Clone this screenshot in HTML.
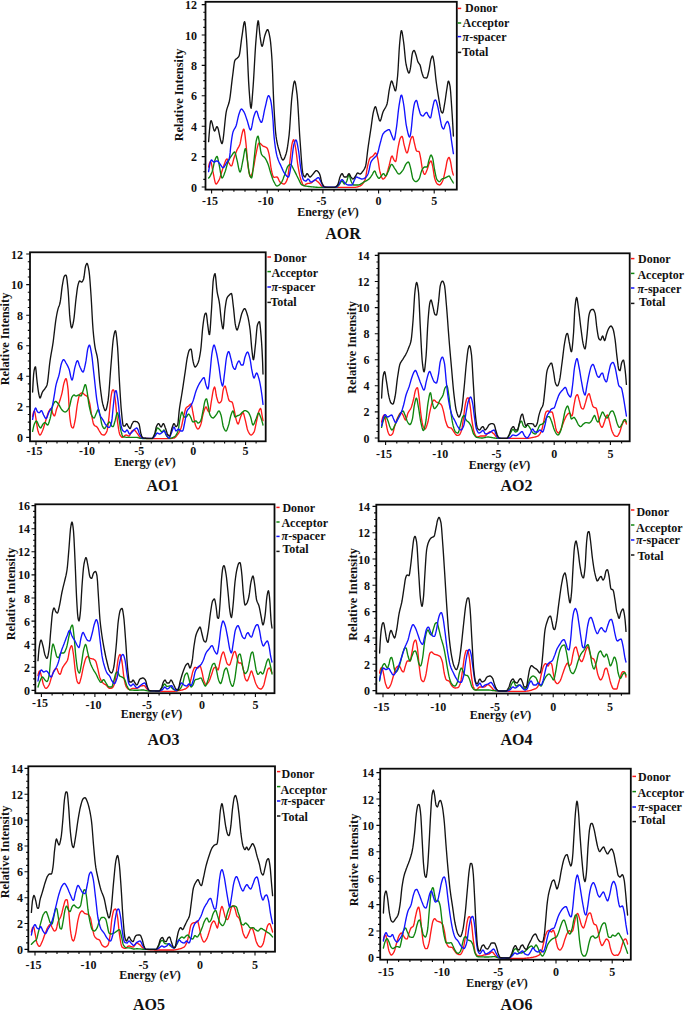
<!DOCTYPE html>
<html><head><meta charset="utf-8"><title>DOS</title>
<style>
html,body{margin:0;padding:0;background:#fff;}
body{width:685px;height:1010px;overflow:hidden;}
svg{display:block;}
text{font-family:"Liberation Serif",serif;font-weight:bold;fill:#111;}
.t{font-size:12px;}
.h{font-size:16px;}
.c{fill:none;stroke-width:1.35;stroke-linejoin:round;stroke-linecap:round;}
.f{fill:none;stroke:#0a0a0a;stroke-width:1.8;}
.k{stroke:#0a0a0a;stroke-width:1.1;}
</style></head><body>
<svg width="685" height="1010" viewBox="0 0 685 1010">
<rect width="685" height="1010" fill="#fff"/>
<g id="AOR">
<path class="c" stroke="#ff1a1a" d="M208.6,167.0 L209.1,164.5 L209.6,162.8 L210.1,161.9 L210.6,161.6 L211.1,162.4 L211.6,164.5 L212.1,167.2 L212.6,170.1 L213.1,172.4 L213.6,174.8 L214.1,177.5 L214.6,180.1 L215.1,182.2 L215.6,183.6 L216.1,184.0 L216.6,183.8 L217.1,183.2 L217.6,182.5 L218.1,181.7 L218.6,180.7 L219.1,179.8 L219.6,178.7 L220.1,177.3 L220.6,175.7 L221.1,174.0 L221.6,172.3 L222.1,170.7 L222.6,169.1 L223.1,167.7 L223.6,166.3 L224.1,164.8 L224.6,163.4 L225.1,161.9 L225.6,160.7 L226.1,159.8 L226.6,159.2 L227.1,159.0 L227.6,159.7 L228.1,160.9 L228.6,162.2 L229.1,163.2 L229.6,164.0 L230.1,164.8 L230.6,165.5 L231.1,165.9 L231.6,165.9 L232.1,165.0 L232.6,163.3 L233.1,161.3 L233.6,159.3 L234.1,157.7 L234.6,156.3 L235.1,154.9 L235.6,153.5 L236.1,152.2 L236.6,150.9 L237.1,149.8 L237.6,148.8 L238.1,147.9 L238.6,147.1 L239.1,146.2 L239.6,145.1 L240.1,143.7 L240.6,141.4 L241.1,138.6 L241.6,135.8 L242.1,133.6 L242.6,131.8 L243.1,130.1 L243.6,129.1 L244.1,129.5 L244.6,131.9 L245.1,135.9 L245.6,140.4 L246.1,144.9 L246.6,150.5 L247.1,156.8 L247.6,162.7 L248.1,166.6 L248.6,169.7 L249.1,172.5 L249.6,174.8 L250.1,176.4 L250.6,177.0 L251.1,176.5 L251.6,175.3 L252.1,173.5 L252.6,171.6 L253.1,169.6 L253.6,167.3 L254.1,164.6 L254.6,161.6 L255.1,158.7 L255.6,155.9 L256.1,153.6 L256.6,151.2 L257.1,148.7 L257.6,146.4 L258.1,144.6 L258.6,143.3 L259.1,143.0 L259.6,143.1 L260.1,143.4 L260.6,143.8 L261.1,144.3 L261.6,144.8 L262.1,145.3 L262.6,145.7 L263.1,146.1 L263.6,146.3 L264.1,146.5 L264.6,146.7 L265.1,146.9 L265.6,147.1 L266.1,147.3 L266.6,147.7 L267.1,148.1 L267.6,149.1 L268.1,150.5 L268.6,152.4 L269.1,154.4 L269.6,157.4 L270.1,161.2 L270.6,165.1 L271.1,168.5 L271.6,170.8 L272.1,173.0 L272.6,174.9 L273.1,176.4 L273.6,177.2 L274.1,177.3 L274.6,177.3 L275.1,177.2 L275.6,177.1 L276.1,177.1 L276.6,177.0 L277.1,177.0 L277.6,177.4 L278.1,178.3 L278.6,179.4 L279.1,180.6 L279.6,181.5 L280.1,182.1 L280.6,182.5 L281.1,182.8 L281.6,183.2 L282.1,183.4 L282.6,183.7 L283.1,183.9 L283.6,184.0 L284.1,184.0 L284.6,183.8 L285.1,183.3 L285.6,182.7 L286.1,181.8 L286.6,180.9 L287.1,179.8 L287.6,177.8 L288.1,174.9 L288.6,171.4 L289.1,167.7 L289.6,164.0 L290.1,159.9 L290.6,155.0 L291.1,150.2 L291.6,146.2 L292.1,143.6 L292.6,141.7 L293.1,140.2 L293.6,139.6 L294.1,140.4 L294.6,142.5 L295.1,145.2 L295.6,148.0 L296.1,151.2 L296.6,155.2 L297.1,159.4 L297.6,163.4 L298.1,166.6 L298.6,169.4 L299.1,172.1 L299.6,174.7 L300.1,176.9 L300.6,178.8 L301.1,180.3 L301.6,181.6 L302.1,182.9 L302.6,184.0 L303.1,184.9 L303.6,185.5 L304.1,185.6 L304.6,185.4 L305.1,185.1 L305.6,184.6 L306.1,184.1 L306.6,183.8 L307.1,183.6 L307.6,183.5 L308.1,183.4 L308.6,183.3 L309.1,183.3 L309.6,183.2 L310.1,183.2 L310.6,183.1 L311.1,183.0 L311.6,182.7 L312.1,182.3 L312.6,181.8 L313.1,181.3 L313.6,180.8 L314.1,180.3 L314.6,180.1 L315.1,180.0 L315.6,180.1 L316.1,180.4 L316.6,180.7 L317.1,181.2 L317.6,181.6 L318.1,182.1 L318.6,182.6 L319.1,183.1 L319.6,183.6 L320.1,184.2 L320.6,184.9 L321.1,185.5 L321.6,186.1 L322.1,186.6 L322.6,186.9 L323.1,187.0 L323.6,187.0 L324.1,187.1 L324.6,187.1 L325.1,187.1 L325.6,187.2 L326.1,187.2 L326.6,187.2 L327.1,187.2 L327.6,187.3 L328.1,187.3 L328.6,187.3 L329.1,187.3 L329.6,187.3 L330.1,187.3 L330.6,187.3 L331.1,187.4 L331.6,187.4 L332.1,187.4 L332.6,187.4 L333.1,187.4 L333.6,187.4 L334.1,187.4 L334.6,187.4 L335.1,187.4 L335.6,187.4 L336.1,187.4 L336.6,187.4 L337.1,187.4 L337.6,187.4 L338.1,187.4 L338.6,187.4 L339.1,187.4 L339.6,187.4 L340.1,187.4 L340.6,187.4 L341.1,187.4 L341.6,187.4 L342.1,187.4 L342.6,187.4 L343.1,187.4 L343.6,187.4 L344.1,187.4 L344.6,187.4 L345.1,187.4 L345.6,187.4 L346.1,187.4 L346.6,187.4 L347.1,187.4 L347.6,187.4 L348.1,187.4 L348.6,187.4 L349.1,187.4 L349.6,187.4 L350.1,187.4 L350.6,187.4 L351.1,187.4 L351.6,187.4 L352.1,187.4 L352.6,187.4 L353.1,187.4 L353.6,187.4 L354.1,187.4 L354.6,187.4 L355.1,187.3 L355.6,187.3 L356.1,187.2 L356.6,187.1 L357.1,187.0 L357.6,186.8 L358.1,186.7 L358.6,186.5 L359.1,186.3 L359.6,186.2 L360.1,186.0 L360.6,185.7 L361.1,185.4 L361.6,185.0 L362.1,184.5 L362.6,183.9 L363.1,183.3 L363.6,182.6 L364.1,181.7 L364.6,180.8 L365.1,179.8 L365.6,177.8 L366.1,174.9 L366.6,171.7 L367.1,168.5 L367.6,166.0 L368.1,163.9 L368.6,161.9 L369.1,160.1 L369.6,158.7 L370.1,157.9 L370.6,157.4 L371.1,157.1 L371.6,156.8 L372.1,156.6 L372.6,156.3 L373.1,155.9 L373.6,155.3 L374.1,154.5 L374.6,153.8 L375.1,153.2 L375.6,153.0 L376.1,153.5 L376.6,154.6 L377.1,156.2 L377.6,158.0 L378.1,160.4 L378.6,163.6 L379.1,167.1 L379.6,170.2 L380.1,172.3 L380.6,174.0 L381.1,175.6 L381.6,177.0 L382.1,178.1 L382.6,178.8 L383.1,179.0 L383.6,178.8 L384.1,178.5 L384.6,178.0 L385.1,177.3 L385.6,176.6 L386.1,175.8 L386.6,174.7 L387.1,173.1 L387.6,171.3 L388.1,169.3 L388.6,167.4 L389.1,165.7 L389.6,163.7 L390.1,161.5 L390.6,159.3 L391.1,157.5 L391.6,156.3 L392.1,156.0 L392.6,156.7 L393.1,157.9 L393.6,159.2 L394.1,160.1 L394.6,160.8 L395.1,161.4 L395.6,161.6 L396.1,160.5 L396.6,157.7 L397.1,154.0 L397.6,150.3 L398.1,147.5 L398.6,145.0 L399.1,142.5 L399.6,140.3 L400.1,138.6 L400.6,137.7 L401.1,137.0 L401.6,136.5 L402.1,136.4 L402.6,137.5 L403.1,139.7 L403.6,142.4 L404.1,144.8 L404.6,146.7 L405.1,148.5 L405.6,150.2 L406.1,151.7 L406.6,152.7 L407.1,153.0 L407.6,152.2 L408.1,150.6 L408.6,148.4 L409.1,146.1 L409.6,144.0 L410.1,141.8 L410.6,139.7 L411.1,138.2 L411.6,137.3 L412.1,136.7 L412.6,136.4 L413.1,137.2 L413.6,139.3 L414.1,141.8 L414.6,144.0 L415.1,146.1 L415.6,148.3 L416.1,150.1 L416.6,151.0 L417.1,151.2 L417.6,151.3 L418.1,151.3 L418.6,151.4 L419.1,151.7 L419.6,153.1 L420.1,155.4 L420.6,158.0 L421.1,160.9 L421.6,164.4 L422.1,167.7 L422.6,170.0 L423.1,171.6 L423.6,173.0 L424.1,174.0 L424.6,174.4 L425.1,174.1 L425.6,173.3 L426.1,172.2 L426.6,171.0 L427.1,169.8 L427.6,168.3 L428.1,166.7 L428.6,165.0 L429.1,163.6 L429.6,162.7 L430.1,161.8 L430.6,161.2 L431.1,161.0 L431.6,162.0 L432.1,163.9 L432.6,166.0 L433.1,168.7 L433.6,172.2 L434.1,175.5 L434.6,178.0 L435.1,179.6 L435.6,181.1 L436.1,182.2 L436.6,183.1 L437.1,183.7 L437.6,184.1 L438.1,184.5 L438.6,184.7 L439.1,184.9 L439.6,185.0 L440.1,184.8 L440.6,184.4 L441.1,183.8 L441.6,182.9 L442.1,182.0 L442.6,181.0 L443.1,179.7 L443.6,178.0 L444.1,175.9 L444.6,173.7 L445.1,171.4 L445.6,169.0 L446.1,166.3 L446.6,163.4 L447.1,161.0 L447.6,159.5 L448.1,158.4 L448.6,157.6 L449.1,157.4 L449.6,158.3 L450.1,160.0 L450.6,162.0 L451.1,164.6 L451.6,167.8 L452.1,170.4 L452.6,172.5 L453.1,174.2 L453.4,175.0"/>
<path class="c" stroke="#0f860f" d="M208.6,178.0 L209.1,177.6 L209.6,177.0 L210.1,176.2 L210.6,175.2 L211.1,174.1 L211.6,173.0 L212.1,171.7 L212.6,170.0 L213.1,167.9 L213.6,165.5 L214.1,163.2 L214.6,161.2 L215.1,159.8 L215.6,158.5 L216.1,157.4 L216.6,156.6 L217.1,156.4 L217.6,157.5 L218.1,159.6 L218.6,162.1 L219.1,164.4 L219.6,167.1 L220.1,170.1 L220.6,173.1 L221.1,175.8 L221.6,177.5 L222.1,178.0 L222.6,177.6 L223.1,176.8 L223.6,175.7 L224.1,174.4 L224.6,173.0 L225.1,171.7 L225.6,170.2 L226.1,168.4 L226.6,166.6 L227.1,164.7 L227.6,163.1 L228.1,161.8 L228.6,160.7 L229.1,159.7 L229.6,158.7 L230.1,157.9 L230.6,157.0 L231.1,156.3 L231.6,155.6 L232.1,154.9 L232.6,154.1 L233.1,153.3 L233.6,152.7 L234.1,152.2 L234.6,152.0 L235.1,152.6 L235.6,154.1 L236.1,156.2 L236.6,158.4 L237.1,160.4 L237.6,162.6 L238.1,165.3 L238.6,167.9 L239.1,170.1 L239.6,171.6 L240.1,172.0 L240.6,171.2 L241.1,169.5 L241.6,167.2 L242.1,164.5 L242.6,161.9 L243.1,159.5 L243.6,156.7 L244.1,153.5 L244.6,150.6 L245.1,148.8 L245.6,148.6 L246.1,150.7 L246.6,154.1 L247.1,157.9 L247.6,161.4 L248.1,165.4 L248.6,169.5 L249.1,172.8 L249.6,174.6 L250.1,175.9 L250.6,177.0 L251.1,177.7 L251.6,178.0 L252.1,176.6 L252.6,173.1 L253.1,168.5 L253.6,163.5 L254.1,159.2 L254.6,154.6 L255.1,149.7 L255.6,145.1 L256.1,141.5 L256.6,139.3 L257.1,137.6 L257.6,136.3 L258.1,136.1 L258.6,137.8 L259.1,140.9 L259.6,144.0 L260.1,147.1 L260.6,150.4 L261.1,153.1 L261.6,154.4 L262.1,155.1 L262.6,155.7 L263.1,156.2 L263.6,156.6 L264.1,157.0 L264.6,157.5 L265.1,158.1 L265.6,158.9 L266.1,159.8 L266.6,160.8 L267.1,161.9 L267.6,163.0 L268.1,164.3 L268.6,165.7 L269.1,167.4 L269.6,169.2 L270.1,171.0 L270.6,172.7 L271.1,174.3 L271.6,175.8 L272.1,177.3 L272.6,178.7 L273.1,180.0 L273.6,181.1 L274.1,182.1 L274.6,183.0 L275.1,184.0 L275.6,184.8 L276.1,185.5 L276.6,185.9 L277.1,186.0 L277.6,185.9 L278.1,185.7 L278.6,185.4 L279.1,185.0 L279.6,184.5 L280.1,184.0 L280.6,183.4 L281.1,182.9 L281.6,182.2 L282.1,181.2 L282.6,180.1 L283.1,178.9 L283.6,177.6 L284.1,176.3 L284.6,175.0 L285.1,173.7 L285.6,172.3 L286.1,170.7 L286.6,169.2 L287.1,167.7 L287.6,166.6 L288.1,165.9 L288.6,165.4 L289.1,165.0 L289.6,164.6 L290.1,164.4 L290.6,164.4 L291.1,164.8 L291.6,165.4 L292.1,166.2 L292.6,167.2 L293.1,168.2 L293.6,169.3 L294.1,170.2 L294.6,171.1 L295.1,172.1 L295.6,173.1 L296.1,174.1 L296.6,175.2 L297.1,176.2 L297.6,177.2 L298.1,178.2 L298.6,179.2 L299.1,180.3 L299.6,181.4 L300.1,182.4 L300.6,183.4 L301.1,184.2 L301.6,184.7 L302.1,185.0 L302.6,185.2 L303.1,185.4 L303.6,185.6 L304.1,185.7 L304.6,185.8 L305.1,186.0 L305.6,186.1 L306.1,186.1 L306.6,186.2 L307.1,186.3 L307.6,186.4 L308.1,186.4 L308.6,186.5 L309.1,186.5 L309.6,186.6 L310.1,186.6 L310.6,186.7 L311.1,186.7 L311.6,186.8 L312.1,186.8 L312.6,186.9 L313.1,186.9 L313.6,187.0 L314.1,187.0 L314.6,187.1 L315.1,187.1 L315.6,187.2 L316.1,187.2 L316.6,187.2 L317.1,187.2 L317.6,187.3 L318.1,187.3 L318.6,187.3 L319.1,187.3 L319.6,187.4 L320.1,187.4 L320.6,187.4 L321.1,187.4 L321.6,187.4 L322.1,187.4 L322.6,187.4 L323.1,187.4 L323.6,187.4 L324.1,187.4 L324.6,187.4 L325.1,187.4 L325.6,187.4 L326.1,187.4 L326.6,187.4 L327.1,187.4 L327.6,187.4 L328.1,187.4 L328.6,187.4 L329.1,187.4 L329.6,187.4 L330.1,187.4 L330.6,187.4 L331.1,187.4 L331.6,187.4 L332.1,187.4 L332.6,187.4 L333.1,187.4 L333.6,187.4 L334.1,187.4 L334.6,187.4 L335.1,187.4 L335.6,187.4 L336.1,187.4 L336.6,187.2 L337.1,186.9 L337.6,186.5 L338.1,186.0 L338.6,185.4 L339.1,184.9 L339.6,184.2 L340.1,183.3 L340.6,182.5 L341.1,181.7 L341.6,181.1 L342.1,181.0 L342.6,181.5 L343.1,182.3 L343.6,183.2 L344.1,183.9 L344.6,184.0 L345.1,183.7 L345.6,183.1 L346.1,182.4 L346.6,181.6 L347.1,180.2 L347.6,178.4 L348.1,176.6 L348.6,175.4 L349.1,175.0 L349.6,176.0 L350.1,177.9 L350.6,179.8 L351.1,181.2 L351.6,182.3 L352.1,183.3 L352.6,184.2 L353.1,184.8 L353.6,185.0 L354.1,185.0 L354.6,185.0 L355.1,185.0 L355.6,185.0 L356.1,185.0 L356.6,185.0 L357.1,185.0 L357.6,185.0 L358.1,185.0 L358.6,184.9 L359.1,184.8 L359.6,184.6 L360.1,184.4 L360.6,184.1 L361.1,183.8 L361.6,183.5 L362.1,183.2 L362.6,182.9 L363.1,182.5 L363.6,182.2 L364.1,181.9 L364.6,181.7 L365.1,181.4 L365.6,181.2 L366.1,180.9 L366.6,180.6 L367.1,180.3 L367.6,180.0 L368.1,179.7 L368.6,179.3 L369.1,178.9 L369.6,178.4 L370.1,177.8 L370.6,177.1 L371.1,176.3 L371.6,175.6 L372.1,174.9 L372.6,174.0 L373.1,172.9 L373.6,172.0 L374.1,171.3 L374.6,171.0 L375.1,171.4 L375.6,172.5 L376.1,173.9 L376.6,175.2 L377.1,176.2 L377.6,177.0 L378.1,177.7 L378.6,178.2 L379.1,178.4 L379.6,178.1 L380.1,177.6 L380.6,176.9 L381.1,176.2 L381.6,175.5 L382.1,174.9 L382.6,174.3 L383.1,173.8 L383.6,173.6 L384.1,174.0 L384.6,174.8 L385.1,175.6 L385.6,176.0 L386.1,175.7 L386.6,174.9 L387.1,173.9 L387.6,172.8 L388.1,171.8 L388.6,170.7 L389.1,169.3 L389.6,167.9 L390.1,166.6 L390.6,165.5 L391.1,164.7 L391.6,164.4 L392.1,164.6 L392.6,165.1 L393.1,165.8 L393.6,166.7 L394.1,167.6 L394.6,168.4 L395.1,169.1 L395.6,169.9 L396.1,170.7 L396.6,171.5 L397.1,172.3 L397.6,173.0 L398.1,173.6 L398.6,173.9 L399.1,174.0 L399.6,173.9 L400.1,173.6 L400.6,173.1 L401.1,172.6 L401.6,171.9 L402.1,171.2 L402.6,170.6 L403.1,169.9 L403.6,169.0 L404.1,167.9 L404.6,166.7 L405.1,165.6 L405.6,164.6 L406.1,163.9 L406.6,163.3 L407.1,162.8 L407.6,162.3 L408.1,162.0 L408.6,162.1 L409.1,162.9 L409.6,164.3 L410.1,166.2 L410.6,168.2 L411.1,170.4 L411.6,173.0 L412.1,175.6 L412.6,177.9 L413.1,179.2 L413.6,179.9 L414.1,180.5 L414.6,181.0 L415.1,181.3 L415.6,181.5 L416.1,181.6 L416.6,181.5 L417.1,181.2 L417.6,180.7 L418.1,180.2 L418.6,179.5 L419.1,178.9 L419.6,177.7 L420.1,176.1 L420.6,174.2 L421.1,172.4 L421.6,170.9 L422.1,169.8 L422.6,169.0 L423.1,168.2 L423.6,167.6 L424.1,167.2 L424.6,167.0 L425.1,167.0 L425.6,167.0 L426.1,167.0 L426.6,167.0 L427.1,167.0 L427.6,165.9 L428.1,163.8 L428.6,161.5 L429.1,159.7 L429.6,158.1 L430.1,156.5 L430.6,155.3 L431.1,155.0 L431.6,155.6 L432.1,156.6 L432.6,158.0 L433.1,160.2 L433.6,163.5 L434.1,167.0 L434.6,170.0 L435.1,172.5 L435.6,174.9 L436.1,177.1 L436.6,178.8 L437.1,179.7 L437.6,180.4 L438.1,180.9 L438.6,181.3 L439.1,181.6 L439.6,181.6 L440.1,181.2 L440.6,180.6 L441.1,179.9 L441.6,179.3 L442.1,179.0 L442.6,178.7 L443.1,178.6 L443.6,178.4 L444.1,178.3 L444.6,178.1 L445.1,178.0 L445.6,177.7 L446.1,177.5 L446.6,177.2 L447.1,176.9 L447.6,176.6 L448.1,176.3 L448.6,176.1 L449.1,176.0 L449.6,176.4 L450.1,177.3 L450.6,178.3 L451.1,179.2 L451.6,180.0 L452.1,180.8 L452.6,181.6 L453.1,182.5 L453.4,183.0"/>
<path class="c" stroke="#1212ff" d="M208.6,171.6 L209.1,168.4 L209.6,165.5 L210.1,163.0 L210.6,161.2 L211.1,160.2 L211.6,160.0 L212.1,160.4 L212.6,160.9 L213.1,161.4 L213.6,161.9 L214.1,162.0 L214.6,161.9 L215.1,161.7 L215.6,161.5 L216.1,161.2 L216.6,161.0 L217.1,161.0 L217.6,161.2 L218.1,161.6 L218.6,162.2 L219.1,162.9 L219.6,163.5 L220.1,164.1 L220.6,164.8 L221.1,165.6 L221.6,166.4 L222.1,167.0 L222.6,167.5 L223.1,167.6 L223.6,167.4 L224.1,166.9 L224.6,166.2 L225.1,165.4 L225.6,164.5 L226.1,163.6 L226.6,162.7 L227.1,161.9 L227.6,161.2 L228.1,160.6 L228.6,159.8 L229.1,158.8 L229.6,157.1 L230.1,152.9 L230.6,147.6 L231.1,143.3 L231.6,139.7 L232.1,136.4 L232.6,133.6 L233.1,131.7 L233.6,130.4 L234.1,129.5 L234.6,128.7 L235.1,127.9 L235.6,126.9 L236.1,125.7 L236.6,124.0 L237.1,121.9 L237.6,119.6 L238.1,117.3 L238.6,115.3 L239.1,113.7 L239.6,112.3 L240.1,110.9 L240.6,109.8 L241.1,109.1 L241.6,109.0 L242.1,109.3 L242.6,109.9 L243.1,110.6 L243.6,111.4 L244.1,112.2 L244.6,113.2 L245.1,114.4 L245.6,115.9 L246.1,117.4 L246.6,118.9 L247.1,120.3 L247.6,121.9 L248.1,123.7 L248.6,125.5 L249.1,127.2 L249.6,128.7 L250.1,129.6 L250.6,130.0 L251.1,129.4 L251.6,127.6 L252.1,125.2 L252.6,122.5 L253.1,119.7 L253.6,117.4 L254.1,115.7 L254.6,114.3 L255.1,112.9 L255.6,111.8 L256.1,111.1 L256.6,111.1 L257.1,111.9 L257.6,113.4 L258.1,115.2 L258.6,116.9 L259.1,118.2 L259.6,119.4 L260.1,120.6 L260.6,121.6 L261.1,122.3 L261.6,122.3 L262.1,121.4 L262.6,119.7 L263.1,117.4 L263.6,114.8 L264.1,112.1 L264.6,109.7 L265.1,107.6 L265.6,105.5 L266.1,103.3 L266.6,101.0 L267.1,98.9 L267.6,97.2 L268.1,96.0 L268.6,95.6 L269.1,96.0 L269.6,96.9 L270.1,98.4 L270.6,100.0 L271.1,102.3 L271.6,105.8 L272.1,110.2 L272.6,115.4 L273.1,121.4 L273.6,131.0 L274.1,137.1 L274.6,141.7 L275.1,145.7 L275.6,149.1 L276.1,152.0 L276.6,154.4 L277.1,156.4 L277.6,158.1 L278.1,159.5 L278.6,160.8 L279.1,162.0 L279.6,163.1 L280.1,164.1 L280.6,165.1 L281.1,166.2 L281.6,167.4 L282.1,168.5 L282.6,169.6 L283.1,170.7 L283.6,171.7 L284.1,172.7 L284.6,173.5 L285.1,174.1 L285.6,174.7 L286.1,175.3 L286.6,175.9 L287.1,176.4 L287.6,176.8 L288.1,177.0 L288.6,176.9 L289.1,175.8 L289.6,173.7 L290.1,171.1 L290.6,168.2 L291.1,165.4 L291.6,162.0 L292.1,157.7 L292.6,153.2 L293.1,149.1 L293.6,145.7 L294.1,143.7 L294.6,142.2 L295.1,141.0 L295.6,140.2 L296.1,140.0 L296.6,141.0 L297.1,142.9 L297.6,145.5 L298.1,148.3 L298.6,151.2 L299.1,154.9 L299.6,159.2 L300.1,163.6 L300.6,167.5 L301.1,170.5 L301.6,173.1 L302.1,175.5 L302.6,177.6 L303.1,179.2 L303.6,180.0 L304.1,180.3 L304.6,180.6 L305.1,180.8 L305.6,181.0 L306.1,181.0 L306.6,180.6 L307.1,179.9 L307.6,179.2 L308.1,179.0 L308.6,179.3 L309.1,179.9 L309.6,180.6 L310.1,181.4 L310.6,181.9 L311.1,182.0 L311.6,181.9 L312.1,181.8 L312.6,181.5 L313.1,181.2 L313.6,180.9 L314.1,180.6 L314.6,180.2 L315.1,179.9 L315.6,179.6 L316.1,179.1 L316.6,178.6 L317.1,178.2 L317.6,177.9 L318.1,177.6 L318.6,177.6 L319.1,178.1 L319.6,179.0 L320.1,180.1 L320.6,181.2 L321.1,182.2 L321.6,183.2 L322.1,184.3 L322.6,185.5 L323.1,186.4 L323.6,187.0 L324.1,187.2 L324.6,187.2 L325.1,187.2 L325.6,187.2 L326.1,187.2 L326.6,187.2 L327.1,187.2 L327.6,187.2 L328.1,187.2 L328.6,187.2 L329.1,187.2 L329.6,187.2 L330.1,187.2 L330.6,187.2 L331.1,187.2 L331.6,187.2 L332.1,187.2 L332.6,187.2 L333.1,187.2 L333.6,187.2 L334.1,187.2 L334.6,187.2 L335.1,187.2 L335.6,187.2 L336.1,187.2 L336.6,187.0 L337.1,186.5 L337.6,185.9 L338.1,185.2 L338.6,184.5 L339.1,183.9 L339.6,183.1 L340.1,182.1 L340.6,181.1 L341.1,180.3 L341.6,179.8 L342.1,179.6 L342.6,179.9 L343.1,180.4 L343.6,181.1 L344.1,181.9 L344.6,182.6 L345.1,183.1 L345.6,183.5 L346.1,184.0 L346.6,184.4 L347.1,184.7 L347.6,184.9 L348.1,185.0 L348.6,185.0 L349.1,185.0 L349.6,185.0 L350.1,185.0 L350.6,185.0 L351.1,185.0 L351.6,185.0 L352.1,185.0 L352.6,184.4 L353.1,183.2 L353.6,181.9 L354.1,180.8 L354.6,179.8 L355.1,178.7 L355.6,177.7 L356.1,177.1 L356.6,177.0 L357.1,177.1 L357.6,177.3 L358.1,177.6 L358.6,177.8 L359.1,178.0 L359.6,178.2 L360.1,178.5 L360.6,178.7 L361.1,178.9 L361.6,179.0 L362.1,179.0 L362.6,178.9 L363.1,178.8 L363.6,178.7 L364.1,178.5 L364.6,178.2 L365.1,177.9 L365.6,177.6 L366.1,177.1 L366.6,176.4 L367.1,175.6 L367.6,174.8 L368.1,173.8 L368.6,172.2 L369.1,170.0 L369.6,167.5 L370.1,165.1 L370.6,163.1 L371.1,161.8 L371.6,160.9 L372.1,160.2 L372.6,159.6 L373.1,159.0 L373.6,158.4 L374.1,157.9 L374.6,157.4 L375.1,157.0 L375.6,156.6 L376.1,156.1 L376.6,155.6 L377.1,154.8 L377.6,153.6 L378.1,151.8 L378.6,149.8 L379.1,147.6 L379.6,145.5 L380.1,143.6 L380.6,141.8 L381.1,139.8 L381.6,137.9 L382.1,136.2 L382.6,134.8 L383.1,133.8 L383.6,133.2 L384.1,132.6 L384.6,132.1 L385.1,131.6 L385.6,131.3 L386.1,130.9 L386.6,130.6 L387.1,130.3 L387.6,130.0 L388.1,129.8 L388.6,129.6 L389.1,129.6 L389.6,130.1 L390.1,131.0 L390.6,132.3 L391.1,133.7 L391.6,135.1 L392.1,136.2 L392.6,137.5 L393.1,138.8 L393.6,139.7 L394.1,140.0 L394.6,138.8 L395.1,136.5 L395.6,133.3 L396.1,130.0 L396.6,126.6 L397.1,122.5 L397.6,117.9 L398.1,113.1 L398.6,108.8 L399.1,105.4 L399.6,102.3 L400.1,99.3 L400.6,96.8 L401.1,95.3 L401.6,95.1 L402.1,96.3 L402.6,98.5 L403.1,101.2 L403.6,104.0 L404.1,107.3 L404.6,111.5 L405.1,116.1 L405.6,120.5 L406.1,124.3 L406.6,127.0 L407.1,129.4 L407.6,131.7 L408.1,133.8 L408.6,135.5 L409.1,136.6 L409.6,137.0 L410.1,136.1 L410.6,134.0 L411.1,130.8 L411.6,126.1 L412.1,120.7 L412.6,115.3 L413.1,111.3 L413.6,108.1 L414.1,105.2 L414.6,103.1 L415.1,101.8 L415.6,101.0 L416.1,100.5 L416.6,100.5 L417.1,101.7 L417.6,103.8 L418.1,106.1 L418.6,108.0 L419.1,109.7 L419.6,111.5 L420.1,113.2 L420.6,114.4 L421.1,115.1 L421.6,115.5 L422.1,115.8 L422.6,115.9 L423.1,116.0 L423.6,115.6 L424.1,114.9 L424.6,114.1 L425.1,113.5 L425.6,113.0 L426.1,112.6 L426.6,112.4 L427.1,112.8 L427.6,113.9 L428.1,115.1 L428.6,116.0 L429.1,116.7 L429.6,117.4 L430.1,117.9 L430.6,117.8 L431.1,116.2 L431.6,113.5 L432.1,110.5 L432.6,108.0 L433.1,105.7 L433.6,103.3 L434.1,101.4 L434.6,100.4 L435.1,100.1 L435.6,100.0 L436.1,100.6 L436.6,102.1 L437.1,104.0 L437.6,106.0 L438.1,108.1 L438.6,110.6 L439.1,113.3 L439.6,116.0 L440.1,118.5 L440.6,121.1 L441.1,123.7 L441.6,125.9 L442.1,127.2 L442.6,128.1 L443.1,128.7 L443.6,129.0 L444.1,128.4 L444.6,126.9 L445.1,125.3 L445.6,124.0 L446.1,123.1 L446.6,122.3 L447.1,121.6 L447.6,121.4 L448.1,121.9 L448.6,123.2 L449.1,124.9 L449.6,126.9 L450.1,129.9 L450.6,133.8 L451.1,137.8 L451.6,141.4 L452.1,144.8 L452.6,148.2 L453.1,151.6 L453.4,153.6"/>
<path class="c" stroke="#141414" d="M208.6,141.6 L209.1,135.0 L209.6,129.1 L210.1,124.4 L210.6,121.4 L211.1,120.6 L211.6,121.4 L212.1,122.9 L212.6,124.9 L213.1,127.1 L213.6,129.0 L214.1,130.5 L214.6,131.0 L215.1,130.5 L215.6,129.3 L216.1,128.0 L216.6,126.9 L217.1,126.6 L217.6,127.3 L218.1,128.7 L218.6,130.7 L219.1,133.1 L219.6,135.6 L220.1,138.1 L220.6,140.3 L221.1,142.1 L221.6,143.3 L222.1,143.6 L222.6,142.3 L223.1,139.4 L223.6,135.5 L224.1,130.8 L224.6,125.7 L225.1,120.8 L225.6,116.2 L226.1,112.6 L226.6,110.1 L227.1,108.4 L227.6,106.9 L228.1,105.5 L228.6,104.1 L229.1,102.3 L229.6,100.0 L230.1,96.8 L230.6,92.9 L231.1,88.6 L231.6,84.2 L232.1,79.9 L232.6,76.0 L233.1,72.1 L233.6,67.9 L234.1,64.0 L234.6,61.2 L235.1,59.9 L235.6,59.4 L236.1,59.0 L236.6,58.7 L237.1,58.3 L237.6,57.8 L238.1,57.3 L238.6,56.7 L239.1,55.8 L239.6,53.8 L240.1,50.6 L240.6,46.7 L241.1,42.6 L241.6,38.7 L242.1,35.4 L242.6,31.9 L243.1,28.2 L243.6,24.9 L244.1,22.5 L244.6,21.6 L245.1,23.3 L245.6,27.7 L246.1,33.6 L246.6,40.0 L247.1,48.2 L247.6,59.0 L248.1,70.7 L248.6,81.4 L249.1,89.4 L249.6,96.3 L250.1,102.7 L250.6,107.1 L251.1,108.3 L251.6,105.5 L252.1,100.0 L252.6,93.3 L253.1,86.7 L253.6,79.4 L254.1,70.8 L254.6,61.8 L255.1,53.0 L255.6,45.1 L256.1,38.9 L256.6,32.9 L257.1,27.2 L257.6,22.8 L258.1,20.7 L258.6,22.1 L259.1,26.8 L259.6,32.5 L260.1,36.7 L260.6,40.2 L261.1,43.4 L261.6,45.7 L262.1,46.4 L262.6,45.5 L263.1,43.6 L263.6,41.2 L264.1,38.6 L264.6,36.4 L265.1,34.7 L265.6,33.3 L266.1,31.9 L266.6,30.8 L267.1,29.9 L267.6,29.6 L268.1,30.1 L268.6,31.4 L269.1,33.4 L269.6,35.9 L270.1,38.6 L270.6,42.4 L271.1,47.7 L271.6,54.1 L272.1,61.7 L272.6,73.0 L273.1,86.9 L273.6,99.9 L274.1,109.5 L274.6,118.2 L275.1,126.0 L275.6,132.4 L276.1,136.7 L276.6,139.9 L277.1,142.6 L277.6,144.9 L278.1,146.9 L278.6,148.7 L279.1,150.3 L279.6,152.0 L280.1,153.8 L280.6,155.4 L281.1,156.9 L281.6,158.2 L282.1,159.2 L282.6,159.8 L283.1,160.0 L283.6,159.7 L284.1,158.9 L284.6,157.9 L285.1,156.6 L285.6,155.2 L286.1,153.7 L286.6,151.8 L287.1,149.3 L287.6,146.4 L288.1,143.0 L288.6,139.2 L289.1,135.1 L289.6,129.4 L290.1,122.2 L290.6,114.3 L291.1,106.6 L291.6,100.0 L292.1,95.2 L292.6,91.1 L293.1,87.3 L293.6,84.1 L294.1,81.8 L294.6,81.0 L295.1,81.8 L295.6,84.0 L296.1,87.1 L296.6,90.9 L297.1,94.8 L297.6,100.6 L298.1,108.2 L298.6,116.8 L299.1,125.8 L299.6,134.2 L300.1,141.3 L300.6,148.3 L301.1,155.5 L301.6,162.2 L302.1,168.0 L302.6,172.2 L303.1,174.2 L303.6,175.4 L304.1,176.3 L304.6,176.8 L305.1,177.0 L305.6,176.3 L306.1,175.0 L306.6,174.0 L307.1,173.6 L307.6,174.0 L308.1,174.6 L308.6,175.5 L309.1,176.3 L309.6,176.8 L310.1,177.0 L310.6,176.8 L311.1,176.3 L311.6,175.7 L312.1,175.1 L312.6,174.4 L313.1,173.9 L313.6,173.3 L314.1,172.7 L314.6,172.0 L315.1,171.4 L315.6,170.9 L316.1,170.7 L316.6,170.6 L317.1,170.8 L317.6,171.2 L318.1,171.7 L318.6,172.4 L319.1,173.2 L319.6,174.0 L320.1,175.4 L320.6,177.5 L321.1,179.8 L321.6,181.9 L322.1,183.2 L322.6,184.2 L323.1,185.2 L323.6,186.0 L324.1,186.7 L324.6,187.1 L325.1,187.2 L325.6,187.2 L326.1,187.3 L326.6,187.3 L327.1,187.3 L327.6,187.3 L328.1,187.3 L328.6,187.3 L329.1,187.4 L329.6,187.4 L330.1,187.4 L330.6,187.4 L331.1,187.4 L331.6,187.4 L332.1,187.4 L332.6,187.4 L333.1,187.4 L333.6,187.4 L334.1,187.4 L334.6,187.3 L335.1,187.1 L335.6,186.9 L336.1,186.5 L336.6,186.1 L337.1,185.6 L337.6,185.0 L338.1,183.9 L338.6,182.1 L339.1,180.1 L339.6,178.1 L340.1,176.8 L340.6,175.6 L341.1,174.5 L341.6,173.8 L342.1,173.6 L342.6,174.1 L343.1,175.1 L343.6,176.1 L344.1,176.9 L344.6,177.0 L345.1,177.0 L345.6,177.0 L346.1,177.0 L346.6,176.9 L347.1,176.4 L347.6,175.5 L348.1,174.5 L348.6,173.8 L349.1,173.6 L349.6,174.2 L350.1,175.2 L350.6,176.3 L351.1,177.1 L351.6,177.8 L352.1,178.4 L352.6,178.9 L353.1,179.0 L353.6,178.7 L354.1,178.2 L354.6,177.5 L355.1,176.7 L355.6,176.0 L356.1,175.2 L356.6,174.2 L357.1,173.3 L357.6,173.0 L358.1,173.1 L358.6,173.4 L359.1,173.7 L359.6,173.9 L360.1,174.0 L360.6,173.8 L361.1,173.4 L361.6,172.9 L362.1,172.2 L362.6,171.5 L363.1,170.9 L363.6,170.2 L364.1,169.4 L364.6,168.5 L365.1,167.4 L365.6,166.0 L366.1,163.6 L366.6,159.9 L367.1,155.5 L367.6,151.1 L368.1,147.3 L368.6,143.8 L369.1,140.5 L369.6,137.2 L370.1,133.9 L370.6,130.6 L371.1,127.3 L371.6,123.7 L372.1,119.9 L372.6,116.3 L373.1,113.3 L373.6,111.2 L374.1,109.4 L374.6,107.8 L375.1,106.8 L375.6,106.7 L376.1,107.9 L376.6,109.9 L377.1,112.1 L377.6,114.0 L378.1,115.8 L378.6,117.7 L379.1,119.4 L379.6,120.7 L380.1,121.0 L380.6,120.3 L381.1,118.9 L381.6,117.0 L382.1,115.0 L382.6,113.2 L383.1,111.8 L383.6,110.7 L384.1,109.8 L384.6,109.0 L385.1,108.2 L385.6,107.3 L386.1,106.3 L386.6,105.2 L387.1,103.7 L387.6,101.2 L388.1,97.9 L388.6,94.2 L389.1,90.7 L389.6,88.0 L390.1,85.7 L390.6,83.4 L391.1,81.7 L391.6,81.0 L392.1,81.5 L392.6,82.8 L393.1,84.5 L393.6,86.0 L394.1,87.6 L394.6,89.4 L395.1,90.7 L395.6,90.8 L396.1,88.9 L396.6,85.3 L397.1,80.8 L397.6,76.0 L398.1,69.2 L398.6,60.1 L399.1,51.0 L399.6,44.0 L400.1,38.8 L400.6,34.1 L401.1,31.0 L401.6,30.6 L402.1,32.2 L402.6,35.0 L403.1,38.5 L403.6,42.0 L404.1,46.2 L404.6,51.4 L405.1,56.8 L405.6,61.5 L406.1,64.5 L406.6,66.7 L407.1,68.8 L407.6,70.6 L408.1,71.9 L408.6,72.8 L409.1,73.0 L409.6,72.0 L410.1,69.9 L410.6,67.2 L411.1,63.1 L411.6,58.4 L412.1,54.7 L412.6,52.4 L413.1,51.3 L413.6,50.6 L414.1,50.4 L414.6,51.0 L415.1,52.3 L415.6,53.8 L416.1,55.3 L416.6,57.1 L417.1,59.1 L417.6,60.9 L418.1,62.2 L418.6,63.0 L419.1,63.6 L419.6,64.3 L420.1,65.2 L420.6,67.0 L421.1,69.3 L421.6,71.6 L422.1,73.3 L422.6,74.8 L423.1,76.2 L423.6,77.2 L424.1,77.6 L424.6,77.8 L425.1,77.9 L425.6,77.9 L426.1,78.0 L426.6,78.0 L427.1,77.4 L427.6,76.0 L428.1,74.0 L428.6,71.8 L429.1,69.6 L429.6,66.7 L430.1,63.5 L430.6,60.6 L431.1,58.7 L431.6,57.4 L432.1,56.4 L432.6,56.0 L433.1,57.1 L433.6,59.6 L434.1,62.6 L434.6,66.6 L435.1,71.5 L435.6,76.5 L436.1,80.8 L436.6,84.5 L437.1,88.1 L437.6,91.4 L438.1,94.6 L438.6,97.7 L439.1,100.6 L439.6,103.6 L440.1,106.7 L440.6,109.4 L441.1,111.4 L441.6,112.3 L442.1,112.8 L442.6,113.0 L443.1,112.1 L443.6,109.8 L444.1,106.9 L444.6,104.0 L445.1,101.0 L445.6,97.5 L446.1,93.9 L446.6,90.5 L447.1,87.4 L447.6,84.1 L448.1,81.5 L448.6,81.1 L449.1,82.2 L449.6,84.1 L450.1,86.6 L450.6,91.5 L451.1,98.5 L451.6,106.0 L452.1,113.5 L452.6,121.6 L453.1,130.4 L453.4,136.0"/>
<rect class="f" x="205.5" y="1.8" width="251.3" height="187.8"/>
<text class="t" text-anchor="end" x="197" y="191.5">0</text>
<text class="t" text-anchor="end" x="197" y="161.1">2</text>
<text class="t" text-anchor="end" x="197" y="130.7">4</text>
<text class="t" text-anchor="end" x="197" y="100.3">6</text>
<text class="t" text-anchor="end" x="197" y="69.9">8</text>
<text class="t" text-anchor="end" x="197" y="39.5">10</text>
<text class="t" text-anchor="end" x="197" y="9.1">12</text>
<text class="t" text-anchor="middle" x="210.1" y="204.8">-15</text>
<text class="t" text-anchor="middle" x="265.8" y="204.8">-10</text>
<text class="t" text-anchor="middle" x="321.4" y="204.8">-5</text>
<text class="t" text-anchor="middle" x="378.6" y="204.8">0</text>
<text class="t" text-anchor="middle" x="434.2" y="204.8">5</text>
<path class="k" d="M201.7,187.0H205.5M203.3,179.4H205.5M203.3,171.8H205.5M203.3,164.2H205.5M201.7,156.6H205.5M203.3,149.0H205.5M203.3,141.4H205.5M203.3,133.8H205.5M201.7,126.2H205.5M203.3,118.6H205.5M203.3,111.0H205.5M203.3,103.4H205.5M201.7,95.8H205.5M203.3,88.2H205.5M203.3,80.6H205.5M203.3,73.0H205.5M201.7,65.4H205.5M203.3,57.8H205.5M203.3,50.2H205.5M203.3,42.6H205.5M201.7,35.0H205.5M203.3,27.4H205.5M203.3,19.8H205.5M203.3,12.2H205.5M201.7,4.6H205.5M211.6,189.6V193.4M222.7,189.6V191.8M233.9,189.6V191.8M245.0,189.6V191.8M256.1,189.6V191.8M267.2,189.6V193.4M278.4,189.6V191.8M289.5,189.6V191.8M300.6,189.6V191.8M311.8,189.6V191.8M322.9,189.6V193.4M334.0,189.6V191.8M345.2,189.6V191.8M356.3,189.6V191.8M367.4,189.6V191.8M378.6,189.6V193.4M389.7,189.6V191.8M400.8,189.6V191.8M411.9,189.6V191.8M423.1,189.6V191.8M434.2,189.6V193.4M445.3,189.6V191.8"/>
<text class="t" text-anchor="middle" x="328" y="215.8">Energy (<tspan font-style="italic">eV</tspan>)</text>
<text class="h" text-anchor="middle" x="343" y="238.5">AOR</text>
<text class="t" style="font-size:12.3px" text-anchor="middle" transform="translate(182.5,95) rotate(-90)">Relative Intensity</text>
<path stroke="#ff1a1a" stroke-width="1.5" d="M457.6,8.4H461.2"/>
<text class="t" x="465" y="12.4">Donor</text>
<path stroke="#0f860f" stroke-width="1.5" d="M457.6,23H461.2"/>
<text class="t" x="462.6" y="27.0">Acceptor</text>
<path stroke="#1212ff" stroke-width="1.5" d="M457.6,36.6H461.2"/>
<text class="t" x="462.6" y="40.6"><tspan font-style="italic">π</tspan>-spacer</text>
<path stroke="#141414" stroke-width="1.5" d="M457.6,52.4H461.2"/>
<text class="t" x="462" y="56.4">Total</text>
</g>
<g id="AO1">
<path class="c" stroke="#ff1a1a" d="M32.6,416.6 L33.1,413.6 L33.6,411.9 L34.1,411.1 L34.6,411.2 L35.1,413.3 L35.6,416.5 L36.1,419.6 L36.6,422.8 L37.1,426.3 L37.6,429.3 L38.1,431.3 L38.6,432.7 L39.1,434.0 L39.6,434.8 L40.1,435.0 L40.6,434.6 L41.1,433.8 L41.6,432.8 L42.1,431.7 L42.6,430.5 L43.1,429.2 L43.6,427.7 L44.1,426.0 L44.6,424.3 L45.1,422.6 L45.6,421.0 L46.1,419.4 L46.6,417.7 L47.1,416.1 L47.6,414.5 L48.1,413.0 L48.6,411.8 L49.1,410.8 L49.6,410.0 L50.1,409.3 L50.6,408.7 L51.1,408.6 L51.6,409.5 L52.1,411.2 L52.6,413.0 L53.1,414.2 L53.6,415.1 L54.1,415.9 L54.6,415.9 L55.1,414.8 L55.6,412.9 L56.1,410.8 L56.6,409.0 L57.1,407.7 L57.6,406.5 L58.1,405.3 L58.6,404.1 L59.1,402.7 L59.6,401.3 L60.1,399.7 L60.6,398.1 L61.1,396.4 L61.6,394.6 L62.1,392.6 L62.6,390.0 L63.1,387.2 L63.6,384.6 L64.1,382.7 L64.6,381.2 L65.1,379.8 L65.6,378.9 L66.1,378.6 L66.6,379.8 L67.1,382.4 L67.6,385.9 L68.1,389.9 L68.6,397.9 L69.1,407.7 L69.6,415.0 L70.1,419.3 L70.6,422.9 L71.1,425.6 L71.6,427.0 L72.1,427.5 L72.6,427.9 L73.1,428.0 L73.6,427.1 L74.1,425.2 L74.6,422.9 L75.1,420.5 L75.6,417.5 L76.1,413.7 L76.6,409.7 L77.1,406.0 L77.6,403.0 L78.1,400.5 L78.6,398.2 L79.1,396.1 L79.6,394.6 L80.1,393.9 L80.6,393.5 L81.1,393.2 L81.6,393.0 L82.1,393.0 L82.6,393.1 L83.1,393.4 L83.6,393.8 L84.1,394.3 L84.6,394.7 L85.1,395.1 L85.6,395.4 L86.1,395.7 L86.6,396.0 L87.1,396.5 L87.6,397.0 L88.1,397.9 L88.6,399.3 L89.1,401.1 L89.6,403.0 L90.1,405.5 L90.6,408.8 L91.1,412.1 L91.6,415.0 L92.1,417.6 L92.6,420.2 L93.1,422.5 L93.6,424.2 L94.1,425.1 L94.6,425.6 L95.1,425.9 L95.6,426.1 L96.1,426.4 L96.6,426.7 L97.1,427.1 L97.6,427.8 L98.1,428.6 L98.6,429.6 L99.1,430.5 L99.6,431.3 L100.1,432.2 L100.6,433.0 L101.1,433.8 L101.6,434.4 L102.1,434.6 L102.6,434.8 L103.1,434.9 L103.6,435.0 L104.1,435.0 L104.6,434.8 L105.1,434.4 L105.6,433.7 L106.1,432.9 L106.6,431.9 L107.1,430.7 L107.6,428.3 L108.1,424.7 L108.6,420.4 L109.1,416.1 L109.6,411.0 L110.1,405.3 L110.6,400.1 L111.1,396.4 L111.6,393.4 L112.1,391.0 L112.6,390.0 L113.1,390.0 L113.6,390.0 L114.1,391.3 L114.6,394.5 L115.1,398.6 L115.6,402.7 L116.1,407.7 L116.6,413.4 L117.1,418.5 L117.6,422.4 L118.1,425.9 L118.6,429.2 L119.1,431.9 L119.6,434.0 L120.1,435.2 L120.6,435.9 L121.1,436.6 L121.6,437.1 L122.1,437.4 L122.6,437.4 L123.1,437.2 L123.6,436.8 L124.1,436.3 L124.6,435.8 L125.1,435.4 L125.6,435.1 L126.1,435.0 L126.6,435.1 L127.1,435.3 L127.6,435.5 L128.1,435.8 L128.6,436.0 L129.1,436.0 L129.6,435.6 L130.1,434.7 L130.6,433.5 L131.1,432.4 L131.6,431.5 L132.1,430.9 L132.6,430.6 L133.1,430.3 L133.6,430.1 L134.1,430.0 L134.6,430.2 L135.1,430.7 L135.6,431.3 L136.1,431.9 L136.6,432.6 L137.1,433.2 L137.6,433.9 L138.1,434.6 L138.6,435.4 L139.1,436.2 L139.6,436.9 L140.1,437.5 L140.6,437.9 L141.1,438.0 L141.6,438.1 L142.1,438.1 L142.6,438.2 L143.1,438.2 L143.6,438.3 L144.1,438.3 L144.6,438.3 L145.1,438.4 L145.6,438.4 L146.1,438.4 L146.6,438.5 L147.1,438.5 L147.6,438.5 L148.1,438.5 L148.6,438.6 L149.1,438.6 L149.6,438.6 L150.1,438.6 L150.6,438.6 L151.1,438.6 L151.6,438.6 L152.1,438.6 L152.6,438.6 L153.1,438.6 L153.6,438.6 L154.1,438.6 L154.6,438.6 L155.1,438.6 L155.6,438.6 L156.1,438.6 L156.6,438.6 L157.1,438.6 L157.6,438.6 L158.1,438.6 L158.6,438.6 L159.1,438.6 L159.6,438.6 L160.1,438.6 L160.6,438.6 L161.1,438.6 L161.6,438.6 L162.1,438.6 L162.6,438.6 L163.1,438.6 L163.6,438.6 L164.1,438.6 L164.6,438.6 L165.1,438.6 L165.6,438.6 L166.1,438.6 L166.6,438.6 L167.1,438.6 L167.6,438.6 L168.1,438.6 L168.6,438.6 L169.1,438.6 L169.6,438.6 L170.1,438.6 L170.6,438.5 L171.1,438.5 L171.6,438.4 L172.1,438.4 L172.6,438.3 L173.1,438.2 L173.6,438.1 L174.1,438.0 L174.6,437.8 L175.1,437.4 L175.6,437.0 L176.1,436.5 L176.6,435.9 L177.1,435.2 L177.6,434.5 L178.1,433.9 L178.6,433.1 L179.1,432.3 L179.6,431.3 L180.1,430.2 L180.6,429.1 L181.1,427.7 L181.6,426.0 L182.1,423.8 L182.6,421.4 L183.1,419.0 L183.6,416.7 L184.1,414.6 L184.6,412.5 L185.1,410.5 L185.6,408.8 L186.1,407.9 L186.6,407.4 L187.1,407.0 L187.6,406.7 L188.1,406.4 L188.6,406.0 L189.1,405.5 L189.6,405.0 L190.1,404.5 L190.6,404.1 L191.1,404.0 L191.6,405.3 L192.1,407.9 L192.6,410.9 L193.1,413.5 L193.6,416.2 L194.1,419.1 L194.6,421.9 L195.1,424.1 L195.6,425.5 L196.1,426.6 L196.6,427.6 L197.1,428.4 L197.6,428.9 L198.1,429.0 L198.6,428.7 L199.1,428.1 L199.6,427.2 L200.1,426.1 L200.6,425.0 L201.1,423.4 L201.6,421.3 L202.1,418.7 L202.6,416.2 L203.1,414.0 L203.6,412.4 L204.1,410.8 L204.6,409.3 L205.1,408.1 L205.6,407.2 L206.1,407.0 L206.6,407.7 L207.1,409.0 L207.6,410.3 L208.1,411.1 L208.6,411.6 L209.1,411.9 L209.6,411.8 L210.1,409.8 L210.6,406.4 L211.1,402.9 L211.6,399.9 L212.1,396.8 L212.6,393.6 L213.1,390.9 L213.6,389.0 L214.1,387.7 L214.6,387.0 L215.1,388.2 L215.6,391.2 L216.1,394.5 L216.6,397.0 L217.1,398.7 L217.6,400.4 L218.1,401.8 L218.6,402.7 L219.1,403.0 L219.6,402.9 L220.1,402.5 L220.6,402.1 L221.1,401.4 L221.6,400.5 L222.1,397.6 L222.6,393.7 L223.1,390.3 L223.6,388.4 L224.1,387.2 L224.6,386.3 L225.1,386.0 L225.6,387.1 L226.1,389.1 L226.6,391.4 L227.1,393.4 L227.6,395.3 L228.1,397.4 L228.6,399.3 L229.1,400.6 L229.6,401.1 L230.1,401.3 L230.6,401.5 L231.1,401.6 L231.6,401.8 L232.1,402.1 L232.6,403.2 L233.1,405.1 L233.6,407.3 L234.1,409.4 L234.6,412.0 L235.1,414.8 L235.6,417.4 L236.1,419.3 L236.6,421.1 L237.1,422.6 L237.6,423.7 L238.1,424.0 L238.6,423.3 L239.1,421.9 L239.6,420.1 L240.1,418.4 L240.6,417.0 L241.1,415.8 L241.6,414.6 L242.1,413.5 L242.6,412.8 L243.1,412.6 L243.6,413.5 L244.1,415.3 L244.6,417.4 L245.1,419.4 L245.6,421.4 L246.1,423.7 L246.6,426.0 L247.1,428.2 L247.6,430.0 L248.1,431.2 L248.6,432.2 L249.1,433.1 L249.6,433.9 L250.1,434.5 L250.6,434.9 L251.1,435.0 L251.6,434.8 L252.1,434.5 L252.6,434.0 L253.1,433.4 L253.6,432.6 L254.1,431.8 L254.6,430.4 L255.1,428.3 L255.6,425.8 L256.1,423.3 L256.6,421.0 L257.1,418.8 L257.6,416.4 L258.1,414.1 L258.6,412.1 L259.1,410.8 L259.6,409.6 L260.1,408.8 L260.6,408.4 L261.1,409.7 L261.6,412.6 L262.1,415.5 L262.6,418.3 L263.0,420.6"/>
<path class="c" stroke="#0f860f" d="M32.6,431.4 L33.1,428.8 L33.6,426.6 L34.1,424.8 L34.6,423.6 L35.1,422.5 L35.6,421.6 L36.1,421.1 L36.6,421.1 L37.1,421.7 L37.6,422.8 L38.1,424.0 L38.6,425.3 L39.1,426.2 L39.6,427.0 L40.1,427.7 L40.6,428.0 L41.1,427.6 L41.6,426.7 L42.1,425.6 L42.6,424.6 L43.1,423.9 L43.6,423.4 L44.1,423.0 L44.6,422.7 L45.1,422.6 L45.6,422.9 L46.1,423.5 L46.6,424.2 L47.1,424.8 L47.6,425.0 L48.1,424.6 L48.6,423.5 L49.1,422.0 L49.6,420.3 L50.1,418.7 L50.6,416.5 L51.1,413.9 L51.6,411.0 L52.1,408.3 L52.6,406.2 L53.1,404.8 L53.6,403.8 L54.1,402.8 L54.6,402.1 L55.1,401.6 L55.6,401.4 L56.1,401.5 L56.6,401.9 L57.1,402.4 L57.6,403.0 L58.1,403.7 L58.6,404.5 L59.1,405.1 L59.6,405.9 L60.1,406.9 L60.6,407.8 L61.1,408.7 L61.6,409.5 L62.1,410.1 L62.6,410.6 L63.1,411.0 L63.6,411.4 L64.1,411.7 L64.6,411.9 L65.1,412.0 L65.6,411.9 L66.1,411.6 L66.6,411.2 L67.1,410.7 L67.6,410.1 L68.1,409.4 L68.6,408.6 L69.1,407.8 L69.6,406.4 L70.1,404.3 L70.6,402.0 L71.1,399.7 L71.6,397.9 L72.1,396.8 L72.6,396.1 L73.1,395.5 L73.6,395.1 L74.1,395.0 L74.6,395.2 L75.1,395.6 L75.6,395.9 L76.1,396.0 L76.6,395.9 L77.1,395.7 L77.6,395.5 L78.1,395.2 L78.6,395.0 L79.1,395.0 L79.6,395.2 L80.1,395.6 L80.6,395.9 L81.1,396.0 L81.6,395.2 L82.1,393.8 L82.6,392.2 L83.1,390.7 L83.6,389.1 L84.1,387.3 L84.6,385.6 L85.1,384.6 L85.6,384.6 L86.1,386.2 L86.6,388.8 L87.1,391.5 L87.6,394.9 L88.1,398.9 L88.6,402.6 L89.1,405.5 L89.6,407.9 L90.1,410.1 L90.6,412.2 L91.1,413.9 L91.6,415.2 L92.1,416.2 L92.6,416.9 L93.1,417.5 L93.6,417.9 L94.1,418.0 L94.6,417.4 L95.1,416.3 L95.6,415.0 L96.1,413.7 L96.6,412.6 L97.1,411.4 L97.6,410.3 L98.1,409.5 L98.6,409.6 L99.1,411.0 L99.6,413.2 L100.1,415.4 L100.6,418.1 L101.1,421.0 L101.6,423.6 L102.1,425.2 L102.6,426.4 L103.1,427.3 L103.6,428.1 L104.1,428.5 L104.6,428.6 L105.1,428.1 L105.6,427.4 L106.1,426.5 L106.6,425.6 L107.1,424.9 L107.6,424.1 L108.1,423.4 L108.6,422.7 L109.1,422.2 L109.6,422.0 L110.1,422.6 L110.6,423.8 L111.1,425.2 L111.6,426.0 L112.1,426.3 L112.6,426.5 L113.1,426.6 L113.6,425.8 L114.1,424.2 L114.6,422.4 L115.1,420.7 L115.6,418.6 L116.1,416.3 L116.6,414.2 L117.1,412.9 L117.6,412.8 L118.1,414.4 L118.6,416.9 L119.1,419.5 L119.6,422.5 L120.1,425.9 L120.6,429.1 L121.1,431.4 L121.6,433.3 L122.1,435.0 L122.6,436.2 L123.1,436.6 L123.6,436.8 L124.1,436.9 L124.6,437.0 L125.1,437.1 L125.6,437.2 L126.1,437.3 L126.6,437.3 L127.1,437.4 L127.6,437.4 L128.1,437.4 L128.6,437.4 L129.1,437.4 L129.6,437.4 L130.1,437.4 L130.6,437.4 L131.1,437.4 L131.6,437.4 L132.1,437.4 L132.6,437.4 L133.1,437.4 L133.6,437.4 L134.1,437.4 L134.6,437.4 L135.1,437.4 L135.6,437.4 L136.1,437.4 L136.6,437.4 L137.1,437.4 L137.6,437.5 L138.1,437.6 L138.6,437.8 L139.1,437.9 L139.6,438.1 L140.1,438.3 L140.6,438.4 L141.1,438.4 L141.6,438.4 L142.1,438.4 L142.6,438.5 L143.1,438.5 L143.6,438.5 L144.1,438.5 L144.6,438.5 L145.1,438.5 L145.6,438.5 L146.1,438.5 L146.6,438.6 L147.1,438.6 L147.6,438.6 L148.1,438.6 L148.6,438.6 L149.1,438.6 L149.6,438.6 L150.1,438.6 L150.6,438.6 L151.1,438.6 L151.6,438.6 L152.1,438.6 L152.6,438.3 L153.1,437.7 L153.6,436.8 L154.1,435.8 L154.6,434.8 L155.1,433.8 L155.6,432.4 L156.1,430.8 L156.6,429.2 L157.1,428.2 L157.6,428.0 L158.1,428.2 L158.6,428.6 L159.1,429.1 L159.6,429.6 L160.1,430.1 L160.6,430.7 L161.1,431.3 L161.6,431.8 L162.1,432.0 L162.6,431.6 L163.1,430.9 L163.6,430.2 L164.1,430.0 L164.6,430.9 L165.1,432.4 L165.6,434.1 L166.1,435.2 L166.6,436.0 L167.1,436.7 L167.6,437.4 L168.1,438.0 L168.6,438.3 L169.1,438.4 L169.6,438.4 L170.1,438.3 L170.6,438.2 L171.1,438.1 L171.6,438.0 L172.1,437.8 L172.6,437.6 L173.1,437.4 L173.6,437.2 L174.1,436.9 L174.6,436.6 L175.1,436.2 L175.6,435.6 L176.1,434.9 L176.6,434.1 L177.1,433.1 L177.6,432.0 L178.1,430.7 L178.6,428.2 L179.1,424.7 L179.6,421.2 L180.1,418.6 L180.6,416.2 L181.1,414.0 L181.6,412.4 L182.1,412.0 L182.6,413.1 L183.1,414.9 L183.6,416.5 L184.1,417.0 L184.6,417.0 L185.1,417.0 L185.6,417.0 L186.1,417.0 L186.6,416.6 L187.1,415.8 L187.6,415.0 L188.1,414.3 L188.6,414.0 L189.1,414.3 L189.6,415.1 L190.1,416.0 L190.6,417.0 L191.1,418.1 L191.6,419.5 L192.1,420.8 L192.6,421.7 L193.1,422.0 L193.6,421.9 L194.1,421.7 L194.6,421.5 L195.1,421.2 L195.6,421.0 L196.1,421.0 L196.6,421.4 L197.1,422.1 L197.6,422.8 L198.1,423.0 L198.6,422.9 L199.1,422.6 L199.6,422.2 L200.1,421.6 L200.6,421.0 L201.1,419.8 L201.6,417.9 L202.1,415.5 L202.6,412.9 L203.1,410.5 L203.6,407.8 L204.1,404.9 L204.6,402.4 L205.1,400.8 L205.6,399.6 L206.1,398.8 L206.6,398.8 L207.1,400.4 L207.6,403.0 L208.1,405.5 L208.6,408.2 L209.1,411.3 L209.6,413.8 L210.1,415.2 L210.6,416.0 L211.1,416.7 L211.6,417.3 L212.1,417.7 L212.6,417.9 L213.1,418.0 L213.6,417.8 L214.1,417.4 L214.6,416.8 L215.1,416.2 L215.6,415.5 L216.1,414.9 L216.6,414.1 L217.1,413.3 L217.6,412.4 L218.1,411.6 L218.6,411.1 L219.1,411.0 L219.6,411.5 L220.1,412.5 L220.6,413.9 L221.1,415.3 L221.6,417.6 L222.1,420.5 L222.6,423.5 L223.1,426.0 L223.6,427.5 L224.1,428.6 L224.6,429.6 L225.1,430.4 L225.6,430.9 L226.1,431.0 L226.6,430.5 L227.1,429.5 L227.6,428.1 L228.1,426.6 L228.6,425.0 L229.1,423.2 L229.6,420.9 L230.1,418.5 L230.6,416.3 L231.1,414.7 L231.6,413.3 L232.1,412.1 L232.6,411.2 L233.1,411.0 L233.6,412.3 L234.1,414.4 L234.6,416.4 L235.1,417.0 L235.6,416.8 L236.1,416.6 L236.6,416.2 L237.1,416.0 L237.6,415.7 L238.1,415.5 L238.6,415.3 L239.1,415.1 L239.6,414.8 L240.1,414.5 L240.6,414.1 L241.1,413.6 L241.6,413.0 L242.1,412.4 L242.6,412.0 L243.1,411.6 L243.6,411.2 L244.1,410.9 L244.6,410.7 L245.1,410.6 L245.6,410.7 L246.1,410.8 L246.6,411.1 L247.1,411.4 L247.6,411.7 L248.1,412.1 L248.6,412.7 L249.1,413.5 L249.6,414.6 L250.1,415.8 L250.6,417.0 L251.1,418.7 L251.6,420.8 L252.1,423.0 L252.6,424.5 L253.1,425.0 L253.6,424.6 L254.1,423.7 L254.6,422.6 L255.1,421.2 L255.6,419.9 L256.1,418.8 L256.6,417.4 L257.1,415.9 L257.6,414.5 L258.1,413.4 L258.6,413.0 L259.1,413.4 L259.6,414.4 L260.1,415.7 L260.6,417.0 L261.1,418.3 L261.6,419.9 L262.1,421.6 L262.6,423.4 L263.0,425.0"/>
<path class="c" stroke="#1212ff" d="M32.6,419.4 L33.1,416.3 L33.6,413.6 L34.1,411.7 L34.6,409.9 L35.1,408.6 L35.6,408.0 L36.1,408.6 L36.6,409.9 L37.1,411.2 L37.6,412.0 L38.1,412.3 L38.6,412.5 L39.1,412.6 L39.6,412.5 L40.1,412.0 L40.6,411.3 L41.1,410.7 L41.6,410.7 L42.1,411.4 L42.6,412.6 L43.1,413.9 L43.6,415.0 L44.1,415.9 L44.6,416.9 L45.1,417.8 L45.6,418.4 L46.1,418.6 L46.6,418.1 L47.1,417.1 L47.6,415.7 L48.1,414.3 L48.6,412.9 L49.1,411.8 L49.6,411.0 L50.1,410.3 L50.6,409.6 L51.1,408.9 L51.6,407.9 L52.1,406.7 L52.6,404.8 L53.1,402.2 L53.6,399.3 L54.1,396.4 L54.6,393.4 L55.1,390.1 L55.6,387.0 L56.1,384.6 L56.6,382.7 L57.1,381.0 L57.6,379.5 L58.1,378.0 L58.6,376.5 L59.1,374.6 L59.6,372.3 L60.1,369.6 L60.6,367.0 L61.1,364.7 L61.6,363.0 L62.1,361.8 L62.6,360.7 L63.1,359.9 L63.6,359.6 L64.1,359.8 L64.6,360.5 L65.1,361.3 L65.6,362.3 L66.1,363.2 L66.6,364.0 L67.1,364.9 L67.6,365.8 L68.1,366.9 L68.6,368.0 L69.1,369.3 L69.6,371.1 L70.1,373.5 L70.6,376.0 L71.1,378.1 L71.6,379.6 L72.1,380.0 L72.6,379.0 L73.1,376.9 L73.6,374.2 L74.1,371.3 L74.6,368.6 L75.1,366.7 L75.6,364.9 L76.1,363.1 L76.6,361.7 L77.1,360.8 L77.6,360.7 L78.1,361.5 L78.6,362.8 L79.1,364.5 L79.6,366.0 L80.1,367.2 L80.6,368.3 L81.1,369.4 L81.6,370.4 L82.1,371.3 L82.6,371.8 L83.1,372.0 L83.6,371.3 L84.1,369.7 L84.6,367.7 L85.1,365.3 L85.6,363.0 L86.1,360.2 L86.6,356.6 L87.1,352.9 L87.6,349.7 L88.1,347.7 L88.6,346.2 L89.1,345.2 L89.6,345.1 L90.1,346.4 L90.6,348.6 L91.1,351.4 L91.6,354.2 L92.1,357.7 L92.6,362.0 L93.1,366.7 L93.6,371.4 L94.1,375.9 L94.6,380.4 L95.1,385.2 L95.6,389.9 L96.1,394.3 L96.6,398.3 L97.1,401.6 L97.6,404.5 L98.1,407.3 L98.6,409.8 L99.1,412.0 L99.6,413.9 L100.1,415.2 L100.6,416.3 L101.1,417.2 L101.6,417.9 L102.1,418.6 L102.6,419.4 L103.1,420.2 L103.6,421.1 L104.1,422.0 L104.6,422.9 L105.1,423.8 L105.6,424.5 L106.1,425.1 L106.6,425.7 L107.1,426.2 L107.6,426.7 L108.1,427.1 L108.6,427.3 L109.1,427.4 L109.6,427.1 L110.1,426.3 L110.6,425.2 L111.1,423.9 L111.6,422.1 L112.1,418.4 L112.6,413.2 L113.1,407.8 L113.6,403.2 L114.1,398.2 L114.6,393.9 L115.1,391.8 L115.6,390.9 L116.1,390.6 L116.6,392.0 L117.1,394.8 L117.6,398.2 L118.1,401.7 L118.6,406.1 L119.1,411.1 L119.6,416.0 L120.1,419.6 L120.6,422.6 L121.1,425.4 L121.6,427.8 L122.1,429.4 L122.6,430.3 L123.1,430.9 L123.6,431.3 L124.1,431.7 L124.6,431.9 L125.1,432.0 L125.6,431.6 L126.1,430.9 L126.6,430.2 L127.1,430.0 L127.6,430.5 L128.1,431.5 L128.6,432.7 L129.1,433.6 L129.6,434.0 L130.1,433.9 L130.6,433.5 L131.1,433.0 L131.6,432.4 L132.1,431.9 L132.6,431.4 L133.1,430.9 L133.6,430.3 L134.1,429.8 L134.6,429.3 L135.1,428.9 L135.6,428.6 L136.1,428.2 L136.6,428.0 L137.1,428.1 L137.6,428.9 L138.1,430.1 L138.6,431.5 L139.1,433.0 L139.6,434.2 L140.1,435.2 L140.6,435.9 L141.1,436.7 L141.6,437.4 L142.1,437.9 L142.6,438.3 L143.1,438.4 L143.6,438.4 L144.1,438.4 L144.6,438.4 L145.1,438.4 L145.6,438.4 L146.1,438.4 L146.6,438.4 L147.1,438.4 L147.6,438.4 L148.1,438.4 L148.6,438.4 L149.1,438.4 L149.6,438.4 L150.1,438.4 L150.6,438.4 L151.1,438.4 L151.6,438.4 L152.1,438.4 L152.6,438.2 L153.1,437.9 L153.6,437.5 L154.1,437.0 L154.6,436.4 L155.1,435.9 L155.6,435.2 L156.1,434.4 L156.6,433.6 L157.1,433.1 L157.6,433.0 L158.1,433.3 L158.6,433.6 L159.1,433.9 L159.6,434.0 L160.1,433.8 L160.6,433.6 L161.1,433.2 L161.6,432.9 L162.1,432.5 L162.6,432.1 L163.1,431.5 L163.6,431.1 L164.1,431.0 L164.6,431.4 L165.1,432.2 L165.6,433.2 L166.1,434.2 L166.6,435.0 L167.1,435.8 L167.6,436.6 L168.1,437.3 L168.6,437.9 L169.1,438.0 L169.6,437.5 L170.1,436.4 L170.6,435.1 L171.1,433.7 L171.6,432.5 L172.1,431.1 L172.6,429.6 L173.1,428.2 L173.6,427.3 L174.1,427.0 L174.6,427.9 L175.1,429.3 L175.6,430.6 L176.1,431.0 L176.6,430.7 L177.1,430.2 L177.6,429.7 L178.1,429.2 L178.6,429.0 L179.1,429.3 L179.6,430.0 L180.1,430.7 L180.6,431.0 L181.1,431.0 L181.6,431.0 L182.1,431.0 L182.6,431.0 L183.1,430.2 L183.6,428.1 L184.1,425.5 L184.6,423.0 L185.1,420.4 L185.6,417.5 L186.1,414.6 L186.6,412.2 L187.1,410.8 L187.6,409.9 L188.1,409.2 L188.6,408.7 L189.1,408.2 L189.6,407.6 L190.1,406.8 L190.6,406.0 L191.1,405.1 L191.6,404.1 L192.1,403.1 L192.6,402.0 L193.1,400.7 L193.6,399.3 L194.1,397.5 L194.6,395.7 L195.1,393.9 L195.6,392.2 L196.1,390.7 L196.6,389.4 L197.1,388.2 L197.6,387.1 L198.1,386.0 L198.6,385.0 L199.1,384.1 L199.6,383.2 L200.1,382.3 L200.6,381.6 L201.1,380.9 L201.6,380.1 L202.1,379.4 L202.6,378.7 L203.1,378.1 L203.6,377.7 L204.1,377.6 L204.6,378.9 L205.1,381.1 L205.6,383.6 L206.1,385.3 L206.6,386.6 L207.1,387.9 L207.6,388.8 L208.1,388.9 L208.6,386.7 L209.1,382.2 L209.6,376.9 L210.1,372.1 L210.6,366.8 L211.1,361.1 L211.6,356.0 L212.1,352.4 L212.6,349.6 L213.1,347.1 L213.6,345.5 L214.1,345.0 L214.6,345.8 L215.1,347.4 L215.6,349.4 L216.1,351.4 L216.6,353.5 L217.1,356.0 L217.6,358.7 L218.1,361.6 L218.6,364.6 L219.1,367.6 L219.6,371.3 L220.1,375.2 L220.6,378.8 L221.1,381.4 L221.6,383.6 L222.1,385.3 L222.6,386.0 L223.1,384.6 L223.6,381.3 L224.1,377.0 L224.6,373.0 L225.1,368.9 L225.6,364.2 L226.1,360.0 L226.6,357.0 L227.1,355.0 L227.6,353.3 L228.1,352.1 L228.6,351.6 L229.1,352.1 L229.6,353.5 L230.1,355.4 L230.6,357.5 L231.1,359.4 L231.6,361.5 L232.1,363.9 L232.6,365.9 L233.1,367.2 L233.6,368.1 L234.1,368.8 L234.6,369.3 L235.1,369.4 L235.6,368.5 L236.1,366.8 L236.6,365.1 L237.1,363.8 L237.6,362.8 L238.1,361.8 L238.6,361.2 L239.1,361.0 L239.6,361.6 L240.1,362.8 L240.6,364.0 L241.1,364.8 L241.6,365.0 L242.1,365.0 L242.6,365.0 L243.1,365.0 L243.6,363.6 L244.1,361.1 L244.6,358.5 L245.1,356.7 L245.6,355.4 L246.1,354.1 L246.6,353.0 L247.1,352.3 L247.6,352.0 L248.1,352.5 L248.6,353.7 L249.1,355.4 L249.6,357.4 L250.1,359.4 L250.6,362.2 L251.1,365.6 L251.6,368.9 L252.1,371.4 L252.6,373.8 L253.1,376.0 L253.6,377.6 L254.1,378.0 L254.6,377.3 L255.1,376.1 L255.6,374.6 L256.1,373.5 L256.6,373.0 L257.1,373.4 L257.6,374.4 L258.1,375.9 L258.6,377.6 L259.1,379.3 L259.6,381.4 L260.1,383.8 L260.6,386.6 L261.1,389.6 L261.6,393.0 L262.1,396.7 L262.6,400.9 L263.0,404.4"/>
<path class="c" stroke="#141414" d="M32.6,392.0 L33.1,382.1 L33.6,374.5 L34.1,370.5 L34.6,368.3 L35.1,366.9 L35.6,367.0 L36.1,371.1 L36.6,377.0 L37.1,381.8 L37.6,385.8 L38.1,389.7 L38.6,393.0 L39.1,395.4 L39.6,397.3 L40.1,398.0 L40.6,397.3 L41.1,395.8 L41.6,394.2 L42.1,392.7 L42.6,391.7 L43.1,391.0 L43.6,390.4 L44.1,389.8 L44.6,389.2 L45.1,388.4 L45.6,387.7 L46.1,387.0 L46.6,386.0 L47.1,384.7 L47.6,382.1 L48.1,378.2 L48.6,373.5 L49.1,368.7 L49.6,364.1 L50.1,360.3 L50.6,357.2 L51.1,354.2 L51.6,351.4 L52.1,348.6 L52.6,345.6 L53.1,342.3 L53.6,338.5 L54.1,334.2 L54.6,329.8 L55.1,325.6 L55.6,321.7 L56.1,318.4 L56.6,315.5 L57.1,312.9 L57.6,310.6 L58.1,308.6 L58.6,307.1 L59.1,305.9 L59.6,304.5 L60.1,302.5 L60.6,299.4 L61.1,295.3 L61.6,290.9 L62.1,286.9 L62.6,283.9 L63.1,281.0 L63.6,278.4 L64.1,276.6 L64.6,275.8 L65.1,275.4 L65.6,275.1 L66.1,275.1 L66.6,276.8 L67.1,280.4 L67.6,285.1 L68.1,290.0 L68.6,297.3 L69.1,306.2 L69.6,314.4 L70.1,319.8 L70.6,323.7 L71.1,326.8 L71.6,328.0 L72.1,327.4 L72.6,325.7 L73.1,323.5 L73.6,321.0 L74.1,317.6 L74.6,312.9 L75.1,307.7 L75.6,302.5 L76.1,298.2 L76.6,294.1 L77.1,290.2 L77.6,286.9 L78.1,284.6 L78.6,282.9 L79.1,281.5 L79.6,281.0 L80.1,281.2 L80.6,281.5 L81.1,281.8 L81.6,282.0 L82.1,281.8 L82.6,281.1 L83.1,280.2 L83.6,279.0 L84.1,276.5 L84.6,272.6 L85.1,268.6 L85.6,266.0 L86.1,264.7 L86.6,263.7 L87.1,263.4 L87.6,264.3 L88.1,266.2 L88.6,268.7 L89.1,271.6 L89.6,276.1 L90.1,282.2 L90.6,289.3 L91.1,296.5 L91.6,305.0 L92.1,314.5 L92.6,323.4 L93.1,330.2 L93.6,335.6 L94.1,340.3 L94.6,344.3 L95.1,347.6 L95.6,350.1 L96.1,352.1 L96.6,354.0 L97.1,356.2 L97.6,359.0 L98.1,363.3 L98.6,369.0 L99.1,375.2 L99.6,381.1 L100.1,385.8 L100.6,390.0 L101.1,393.9 L101.6,397.5 L102.1,400.8 L102.6,403.4 L103.1,405.3 L103.6,407.0 L104.1,408.5 L104.6,409.8 L105.1,410.5 L105.6,410.5 L106.1,409.7 L106.6,408.0 L107.1,405.8 L107.6,403.2 L108.1,400.4 L108.6,396.2 L109.1,390.5 L109.6,383.8 L110.1,376.7 L110.6,369.9 L111.1,363.8 L111.6,357.7 L112.1,351.4 L112.6,345.5 L113.1,340.5 L113.6,337.0 L114.1,334.4 L114.6,332.2 L115.1,330.9 L115.6,330.8 L116.1,333.0 L116.6,337.0 L117.1,341.9 L117.6,347.4 L118.1,355.6 L118.6,365.6 L119.1,375.7 L119.6,384.3 L120.1,392.7 L120.6,400.7 L121.1,407.6 L121.6,413.0 L122.1,418.2 L122.6,422.6 L123.1,425.5 L123.6,426.0 L124.1,426.0 L124.6,426.0 L125.1,426.0 L125.6,425.2 L126.1,424.2 L126.6,423.6 L127.1,424.0 L127.6,425.0 L128.1,426.1 L128.6,427.0 L129.1,427.7 L129.6,428.4 L130.1,428.6 L130.6,427.8 L131.1,426.4 L131.6,424.9 L132.1,423.8 L132.6,423.0 L133.1,422.1 L133.6,421.6 L134.1,421.4 L134.6,421.4 L135.1,421.5 L135.6,421.5 L136.1,421.6 L136.6,421.7 L137.1,421.9 L137.6,422.2 L138.1,422.7 L138.6,423.4 L139.1,424.2 L139.6,426.3 L140.1,429.3 L140.6,432.3 L141.1,434.3 L141.6,435.7 L142.1,436.9 L142.6,437.7 L143.1,438.0 L143.6,438.1 L144.1,438.1 L144.6,438.2 L145.1,438.2 L145.6,438.2 L146.1,438.3 L146.6,438.3 L147.1,438.3 L147.6,438.3 L148.1,438.3 L148.6,438.4 L149.1,438.4 L149.6,438.4 L150.1,438.4 L150.6,438.4 L151.1,438.4 L151.6,438.4 L152.1,438.4 L152.6,438.1 L153.1,437.4 L153.6,436.4 L154.1,435.2 L154.6,434.0 L155.1,432.2 L155.6,429.9 L156.1,427.5 L156.6,426.0 L157.1,425.1 L157.6,424.3 L158.1,423.8 L158.6,423.6 L159.1,424.0 L159.6,424.9 L160.1,425.9 L160.6,426.7 L161.1,427.0 L161.6,426.5 L162.1,425.5 L162.6,424.5 L163.1,423.7 L163.6,423.7 L164.1,424.5 L164.6,425.8 L165.1,427.2 L165.6,428.5 L166.1,430.0 L166.6,431.6 L167.1,433.2 L167.6,434.4 L168.1,435.1 L168.6,435.5 L169.1,435.9 L169.6,436.0 L170.1,435.3 L170.6,433.6 L171.1,431.5 L171.6,429.3 L172.1,427.7 L172.6,426.3 L173.1,424.9 L173.6,423.9 L174.1,423.6 L174.6,424.2 L175.1,425.3 L175.6,426.3 L176.1,426.6 L176.6,426.3 L177.1,425.8 L177.6,425.0 L178.1,422.3 L178.6,417.1 L179.1,411.6 L179.6,407.6 L180.1,404.3 L180.6,401.3 L181.1,398.4 L181.6,395.5 L182.1,392.4 L182.6,389.1 L183.1,385.8 L183.6,382.4 L184.1,379.1 L184.6,375.7 L185.1,372.3 L185.6,368.8 L186.1,365.1 L186.6,361.6 L187.1,358.5 L187.6,356.1 L188.1,353.8 L188.6,351.9 L189.1,350.5 L189.6,349.8 L190.1,349.4 L190.6,349.1 L191.1,349.1 L191.6,351.1 L192.1,354.8 L192.6,358.7 L193.1,361.4 L193.6,363.5 L194.1,365.3 L194.6,366.6 L195.1,367.0 L195.6,366.8 L196.1,366.3 L196.6,365.6 L197.1,364.8 L197.6,363.8 L198.1,362.8 L198.6,361.3 L199.1,359.4 L199.6,356.9 L200.1,354.1 L200.6,351.0 L201.1,346.6 L201.6,340.8 L202.1,334.4 L202.6,328.6 L203.1,324.3 L203.6,320.7 L204.1,317.5 L204.6,315.1 L205.1,313.8 L205.6,313.2 L206.1,313.1 L206.6,315.2 L207.1,319.3 L207.6,323.9 L208.1,327.7 L208.6,331.4 L209.1,334.4 L209.6,334.6 L210.1,330.4 L210.6,323.4 L211.1,315.4 L211.6,308.0 L212.1,298.8 L212.6,289.2 L213.1,281.6 L213.6,277.9 L214.1,275.6 L214.6,274.0 L215.1,273.7 L215.6,276.6 L216.1,281.9 L216.6,287.6 L217.1,291.6 L217.6,294.3 L218.1,296.5 L218.6,298.7 L219.1,301.2 L219.6,304.4 L220.1,309.0 L220.6,314.1 L221.1,318.8 L221.6,322.3 L222.1,325.7 L222.6,328.2 L223.1,328.9 L223.6,325.6 L224.1,319.4 L224.6,312.9 L225.1,308.3 L225.6,304.8 L226.1,301.7 L226.6,299.2 L227.1,297.8 L227.6,296.9 L228.1,296.3 L228.6,295.8 L229.1,295.3 L229.6,294.8 L230.1,294.3 L230.6,293.8 L231.1,293.5 L231.6,293.6 L232.1,296.0 L232.6,300.0 L233.1,304.5 L233.6,308.7 L234.1,313.6 L234.6,318.8 L235.1,323.2 L235.6,325.9 L236.1,328.0 L236.6,329.6 L237.1,330.0 L237.6,329.3 L238.1,327.8 L238.6,326.0 L239.1,324.1 L239.6,322.3 L240.1,320.3 L240.6,318.1 L241.1,316.0 L241.6,314.1 L242.1,312.8 L242.6,311.6 L243.1,310.4 L243.6,309.5 L244.1,308.8 L244.6,308.6 L245.1,308.9 L245.6,309.7 L246.1,310.9 L246.6,312.4 L247.1,314.0 L247.6,315.7 L248.1,317.7 L248.6,320.1 L249.1,323.0 L249.6,326.2 L250.1,329.8 L250.6,334.9 L251.1,341.1 L251.6,347.1 L252.1,351.8 L252.6,356.1 L253.1,359.3 L253.6,359.7 L254.1,357.1 L254.6,352.7 L255.1,347.8 L255.6,343.1 L256.1,337.3 L256.6,331.2 L257.1,326.5 L257.6,324.4 L258.1,323.2 L258.6,322.2 L259.1,321.7 L259.6,321.9 L260.1,325.2 L260.6,330.4 L261.1,336.1 L261.6,342.7 L262.1,351.1 L262.6,361.8 L263.0,374.0"/>
<rect class="f" x="30" y="252.3" width="235.7" height="189.0"/>
<text class="t" text-anchor="end" x="23" y="441.9">0</text>
<text class="t" text-anchor="end" x="23" y="411.3">2</text>
<text class="t" text-anchor="end" x="23" y="380.8">4</text>
<text class="t" text-anchor="end" x="23" y="350.2">6</text>
<text class="t" text-anchor="end" x="23" y="319.7">8</text>
<text class="t" text-anchor="end" x="23" y="289.1">10</text>
<text class="t" text-anchor="end" x="23" y="258.5">12</text>
<text class="t" text-anchor="middle" x="34.5" y="455.0">-15</text>
<text class="t" text-anchor="middle" x="86.9" y="455.0">-10</text>
<text class="t" text-anchor="middle" x="139.3" y="455.0">-5</text>
<text class="t" text-anchor="middle" x="193.2" y="455.0">0</text>
<text class="t" text-anchor="middle" x="245.6" y="455.0">5</text>
<path class="k" d="M26.2,437.4H30.0M27.8,429.8H30.0M27.8,422.1H30.0M27.8,414.5H30.0M26.2,406.8H30.0M27.8,399.2H30.0M27.8,391.6H30.0M27.8,383.9H30.0M26.2,376.3H30.0M27.8,368.6H30.0M27.8,361.0H30.0M27.8,353.4H30.0M26.2,345.7H30.0M27.8,338.1H30.0M27.8,330.4H30.0M27.8,322.8H30.0M26.2,315.2H30.0M27.8,307.5H30.0M27.8,299.9H30.0M27.8,292.2H30.0M26.2,284.6H30.0M27.8,277.0H30.0M27.8,269.3H30.0M27.8,261.7H30.0M26.2,254.0H30.0M36.0,441.3V445.1M46.5,441.3V443.5M57.0,441.3V443.5M67.4,441.3V443.5M77.9,441.3V443.5M88.4,441.3V445.1M98.9,441.3V443.5M109.4,441.3V443.5M119.8,441.3V443.5M130.3,441.3V443.5M140.8,441.3V445.1M151.3,441.3V443.5M161.8,441.3V443.5M172.2,441.3V443.5M182.7,441.3V443.5M193.2,441.3V445.1M203.7,441.3V443.5M214.2,441.3V443.5M224.6,441.3V443.5M235.1,441.3V443.5M245.6,441.3V445.1M256.1,441.3V443.5"/>
<text class="t" text-anchor="middle" x="145" y="466.0">Energy (<tspan font-style="italic">eV</tspan>)</text>
<text class="h" text-anchor="middle" x="162.5" y="490.5">AO1</text>
<text class="t" style="font-size:12.3px" text-anchor="middle" transform="translate(8.5,339) rotate(-90)">Relative Intensity</text>
<path stroke="#ff1a1a" stroke-width="1.5" d="M267.4,257H271"/>
<text class="t" x="273.8" y="262.0">Donor</text>
<path stroke="#0f860f" stroke-width="1.5" d="M267.4,271.6H271"/>
<text class="t" x="271.4" y="276.6">Acceptor</text>
<path stroke="#1212ff" stroke-width="1.5" d="M267.4,287H271"/>
<text class="t" x="271.4" y="290.6"><tspan font-style="italic">π</tspan>-spacer</text>
<path stroke="#141414" stroke-width="1.5" d="M267.4,302.4H271"/>
<text class="t" x="270.4" y="306.4">Total</text>
</g>
<g id="AO2">
<path class="c" stroke="#ff1a1a" d="M381.6,422.0 L382.1,419.6 L382.6,417.6 L383.1,416.4 L383.6,415.6 L384.1,415.1 L384.6,415.2 L385.1,417.4 L385.6,420.7 L386.1,423.5 L386.6,426.0 L387.1,428.6 L387.6,430.7 L388.1,432.2 L388.6,433.5 L389.1,434.5 L389.6,435.2 L390.1,435.4 L390.6,435.3 L391.1,435.1 L391.6,434.7 L392.1,434.3 L392.6,433.7 L393.1,432.4 L393.6,430.6 L394.1,428.4 L394.6,426.4 L395.1,424.7 L395.6,423.2 L396.1,421.7 L396.6,420.3 L397.1,419.0 L397.6,417.8 L398.1,416.8 L398.6,415.8 L399.1,414.8 L399.6,413.9 L400.1,413.2 L400.6,412.7 L401.1,412.6 L401.6,412.9 L402.1,413.6 L402.6,414.4 L403.1,415.2 L403.6,416.2 L404.1,417.5 L404.6,418.7 L405.1,419.6 L405.6,420.0 L406.1,419.4 L406.6,417.9 L407.1,416.0 L407.6,414.1 L408.1,412.8 L408.6,411.9 L409.1,411.1 L409.6,410.4 L410.1,409.7 L410.6,408.8 L411.1,407.8 L411.6,406.4 L412.1,404.8 L412.6,402.9 L413.1,401.0 L413.6,399.0 L414.1,396.7 L414.6,394.0 L415.1,391.6 L415.6,390.0 L416.1,389.0 L416.6,388.2 L417.1,387.7 L417.6,387.8 L418.1,390.2 L418.6,393.9 L419.1,397.7 L419.6,402.1 L420.1,407.1 L420.6,411.8 L421.1,415.7 L421.6,419.1 L422.1,422.2 L422.6,424.7 L423.1,426.2 L423.6,427.3 L424.1,428.2 L424.6,428.8 L425.1,429.0 L425.6,428.5 L426.1,427.5 L426.6,426.2 L427.1,424.6 L427.6,423.0 L428.1,421.0 L428.6,418.4 L429.1,415.6 L429.6,412.9 L430.1,410.6 L430.6,408.4 L431.1,406.2 L431.6,404.2 L432.1,402.7 L432.6,401.6 L433.1,400.8 L433.6,400.2 L434.1,400.0 L434.6,400.3 L435.1,400.7 L435.6,401.3 L436.1,401.8 L436.6,402.1 L437.1,402.3 L437.6,402.5 L438.1,402.6 L438.6,402.8 L439.1,403.1 L439.6,403.3 L440.1,403.7 L440.6,404.1 L441.1,404.6 L441.6,405.3 L442.1,406.5 L442.6,408.1 L443.1,409.9 L443.6,411.8 L444.1,414.1 L444.6,416.7 L445.1,419.1 L445.6,421.0 L446.1,422.5 L446.6,424.0 L447.1,425.4 L447.6,426.5 L448.1,427.2 L448.6,427.5 L449.1,427.6 L449.6,427.7 L450.1,427.8 L450.6,427.9 L451.1,428.0 L451.6,428.4 L452.1,429.1 L452.6,429.8 L453.1,430.7 L453.6,431.5 L454.1,432.1 L454.6,432.8 L455.1,433.6 L455.6,434.3 L456.1,434.9 L456.6,435.3 L457.1,435.4 L457.6,435.4 L458.1,435.3 L458.6,435.1 L459.1,435.0 L459.6,434.5 L460.1,433.8 L460.6,432.7 L461.1,431.4 L461.6,430.0 L462.1,427.7 L462.6,424.4 L463.1,420.6 L463.6,417.0 L464.1,413.3 L464.6,409.3 L465.1,405.7 L465.6,403.0 L466.1,401.0 L466.6,399.3 L467.1,398.2 L467.6,398.0 L468.1,398.0 L468.6,398.2 L469.1,399.9 L469.6,402.6 L470.1,405.6 L470.6,409.3 L471.1,413.8 L471.6,418.1 L472.1,421.6 L472.6,424.7 L473.1,427.6 L473.6,430.1 L474.1,432.1 L474.6,433.5 L475.1,434.6 L475.6,435.6 L476.1,436.4 L476.6,436.9 L477.1,437.0 L477.6,436.9 L478.1,436.8 L478.6,436.6 L479.1,436.5 L479.6,436.3 L480.1,436.1 L480.6,436.0 L481.1,436.0 L481.6,436.0 L482.1,436.0 L482.6,436.0 L483.1,436.0 L483.6,436.0 L484.1,436.0 L484.6,436.0 L485.1,436.0 L485.6,435.8 L486.1,435.3 L486.6,434.6 L487.1,434.0 L487.6,433.4 L488.1,432.9 L488.6,432.6 L489.1,432.2 L489.6,431.9 L490.1,431.7 L490.6,431.6 L491.1,431.7 L491.6,431.9 L492.1,432.3 L492.6,432.7 L493.1,433.2 L493.6,433.6 L494.1,434.1 L494.6,434.6 L495.1,435.3 L495.6,436.0 L496.1,436.6 L496.6,437.1 L497.1,437.5 L497.6,437.7 L498.1,437.9 L498.6,438.1 L499.1,438.3 L499.6,438.4 L500.1,438.4 L500.6,438.4 L501.1,438.4 L501.6,438.4 L502.1,438.4 L502.6,438.4 L503.1,438.4 L503.6,438.4 L504.1,438.4 L504.6,438.4 L505.1,438.4 L505.6,438.4 L506.1,438.4 L506.6,438.4 L507.1,438.4 L507.6,438.4 L508.1,438.4 L508.6,438.4 L509.1,438.4 L509.6,438.4 L510.1,438.4 L510.6,438.4 L511.1,438.4 L511.6,438.4 L512.1,438.4 L512.6,438.4 L513.1,438.4 L513.6,438.4 L514.1,438.4 L514.6,438.4 L515.1,438.4 L515.6,438.4 L516.1,438.4 L516.6,438.4 L517.1,438.4 L517.6,438.4 L518.1,438.4 L518.6,438.4 L519.1,438.4 L519.6,438.4 L520.1,438.4 L520.6,438.4 L521.1,438.4 L521.6,438.4 L522.1,438.4 L522.6,438.4 L523.1,438.4 L523.6,438.4 L524.1,438.4 L524.6,438.4 L525.1,438.4 L525.6,438.4 L526.1,438.4 L526.6,438.4 L527.1,438.4 L527.6,438.4 L528.1,438.3 L528.6,438.3 L529.1,438.2 L529.6,438.1 L530.1,438.0 L530.6,437.9 L531.1,437.8 L531.6,437.7 L532.1,437.6 L532.6,437.5 L533.1,437.4 L533.6,437.3 L534.1,437.2 L534.6,437.1 L535.1,437.0 L535.6,436.9 L536.1,436.7 L536.6,436.6 L537.1,436.4 L537.6,436.2 L538.1,435.9 L538.6,435.6 L539.1,435.1 L539.6,434.4 L540.1,433.6 L540.6,432.7 L541.1,431.7 L541.6,430.5 L542.1,428.8 L542.6,426.6 L543.1,424.2 L543.6,421.8 L544.1,419.6 L544.6,417.2 L545.1,414.7 L545.6,412.8 L546.1,411.9 L546.6,411.5 L547.1,411.2 L547.6,411.0 L548.1,411.0 L548.6,411.2 L549.1,411.6 L549.6,411.9 L550.1,412.0 L550.6,412.0 L551.1,412.0 L551.6,412.0 L552.1,412.0 L552.6,413.0 L553.1,414.9 L553.6,417.3 L554.1,419.4 L554.6,421.9 L555.1,424.6 L555.6,427.4 L556.1,429.6 L556.6,431.0 L557.1,431.8 L557.6,432.4 L558.1,432.8 L558.6,433.0 L559.1,432.7 L559.6,432.0 L560.1,431.0 L560.6,429.9 L561.1,428.8 L561.6,427.6 L562.1,426.2 L562.6,424.8 L563.1,423.4 L563.6,422.0 L564.1,420.8 L564.6,419.6 L565.1,418.5 L565.6,417.4 L566.1,416.4 L566.6,415.5 L567.1,414.9 L567.6,414.3 L568.1,413.8 L568.6,413.3 L569.1,413.0 L569.6,413.1 L570.1,413.5 L570.6,414.3 L571.1,415.2 L571.6,415.8 L572.1,415.9 L572.6,414.2 L573.1,411.0 L573.6,407.4 L574.1,404.5 L574.6,401.8 L575.1,399.2 L575.6,397.0 L576.1,395.8 L576.6,395.1 L577.1,394.7 L577.6,394.7 L578.1,395.9 L578.6,397.8 L579.1,399.9 L579.6,401.7 L580.1,403.8 L580.6,405.9 L581.1,407.5 L581.6,408.2 L582.1,408.6 L582.6,408.9 L583.1,409.0 L583.6,408.4 L584.1,407.2 L584.6,405.6 L585.1,403.9 L585.6,402.4 L586.1,400.5 L586.6,398.5 L587.1,396.8 L587.6,395.6 L588.1,394.6 L588.6,393.8 L589.1,393.6 L589.6,394.6 L590.1,396.4 L590.6,398.6 L591.1,400.3 L591.6,402.0 L592.1,403.9 L592.6,405.5 L593.1,406.6 L593.6,407.1 L594.1,407.3 L594.6,407.5 L595.1,407.6 L595.6,407.8 L596.1,408.1 L596.6,409.2 L597.1,411.1 L597.6,413.3 L598.1,415.4 L598.6,417.8 L599.1,420.4 L599.6,422.7 L600.1,424.2 L600.6,425.5 L601.1,426.5 L601.6,427.2 L602.1,427.4 L602.6,426.8 L603.1,425.7 L603.6,424.3 L604.1,422.8 L604.6,421.4 L605.1,419.7 L605.6,418.0 L606.1,416.5 L606.6,415.8 L607.1,415.2 L607.6,415.0 L608.1,415.8 L608.6,417.6 L609.1,419.8 L609.6,421.7 L610.1,423.8 L610.6,426.0 L611.1,428.1 L611.6,429.9 L612.1,431.2 L612.6,432.4 L613.1,433.5 L613.6,434.4 L614.1,435.2 L614.6,435.8 L615.1,436.0 L615.6,436.2 L616.1,436.3 L616.6,436.4 L617.1,436.4 L617.6,436.1 L618.1,435.4 L618.6,434.6 L619.1,433.6 L619.6,432.6 L620.1,431.2 L620.6,429.5 L621.1,427.7 L621.6,426.1 L622.1,424.8 L622.6,423.4 L623.1,422.2 L623.6,421.3 L624.1,421.0 L624.6,421.0 L625.1,421.0 L625.6,421.7 L626.1,423.0 L626.4,424.0"/>
<path class="c" stroke="#0f860f" d="M381.6,427.4 L382.1,425.1 L382.6,423.1 L383.1,421.4 L383.6,420.0 L384.1,418.8 L384.6,417.7 L385.1,416.9 L385.6,416.6 L386.1,416.9 L386.6,417.7 L387.1,418.8 L387.6,420.0 L388.1,421.2 L388.6,422.7 L389.1,424.4 L389.6,426.0 L390.1,427.2 L390.6,428.2 L391.1,429.2 L391.6,429.8 L392.1,430.0 L392.6,429.7 L393.1,429.0 L393.6,428.0 L394.1,426.9 L394.6,425.8 L395.1,424.8 L395.6,423.7 L396.1,422.5 L396.6,421.3 L397.1,420.0 L397.6,418.9 L398.1,417.8 L398.6,416.8 L399.1,415.7 L399.6,414.8 L400.1,413.9 L400.6,413.1 L401.1,412.5 L401.6,411.9 L402.1,411.4 L402.6,411.1 L403.1,411.0 L403.6,411.6 L404.1,412.7 L404.6,414.0 L405.1,415.2 L405.6,416.6 L406.1,418.1 L406.6,419.6 L407.1,421.0 L407.6,422.0 L408.1,422.8 L408.6,423.5 L409.1,424.1 L409.6,424.5 L410.1,424.6 L410.6,424.1 L411.1,423.1 L411.6,421.7 L412.1,420.1 L412.6,418.1 L413.1,414.7 L413.6,410.6 L414.1,406.7 L414.6,404.0 L415.1,401.6 L415.6,399.6 L416.1,398.2 L416.6,398.2 L417.1,399.7 L417.6,402.3 L418.1,405.3 L418.6,408.1 L419.1,411.2 L419.6,414.6 L420.1,418.0 L420.6,421.1 L421.1,423.4 L421.6,425.6 L422.1,427.7 L422.6,429.4 L423.1,430.4 L423.6,430.5 L424.1,429.5 L424.6,427.7 L425.1,425.4 L425.6,423.0 L426.1,419.7 L426.6,415.2 L427.1,410.3 L427.6,405.8 L428.1,402.4 L428.6,399.5 L429.1,396.6 L429.6,394.3 L430.1,392.9 L430.6,392.8 L431.1,395.0 L431.6,398.3 L432.1,401.6 L432.6,403.7 L433.1,405.7 L433.6,407.3 L434.1,408.4 L434.6,408.6 L435.1,408.3 L435.6,407.8 L436.1,407.2 L436.6,406.5 L437.1,405.9 L437.6,405.0 L438.1,404.1 L438.6,403.0 L439.1,401.8 L439.6,400.8 L440.1,399.8 L440.6,399.0 L441.1,398.3 L441.6,397.5 L442.1,396.8 L442.6,395.9 L443.1,394.7 L443.6,393.0 L444.1,390.9 L444.6,389.0 L445.1,387.8 L445.6,387.1 L446.1,386.5 L446.6,386.1 L447.1,386.0 L447.6,387.6 L448.1,390.5 L448.6,394.2 L449.1,397.7 L449.6,401.5 L450.1,405.8 L450.6,410.0 L451.1,413.7 L451.6,417.1 L452.1,420.4 L452.6,423.2 L453.1,425.4 L453.6,427.2 L454.1,428.9 L454.6,430.3 L455.1,431.4 L455.6,432.0 L456.1,432.3 L456.6,432.6 L457.1,432.8 L457.6,433.0 L458.1,433.0 L458.6,432.1 L459.1,430.4 L459.6,428.3 L460.1,426.1 L460.6,424.3 L461.1,422.2 L461.6,420.1 L462.1,418.2 L462.6,417.0 L463.1,416.2 L463.6,415.6 L464.1,415.4 L464.6,416.2 L465.1,417.7 L465.6,419.2 L466.1,420.1 L466.6,420.6 L467.1,421.0 L467.6,421.3 L468.1,421.7 L468.6,422.2 L469.1,422.8 L469.6,423.5 L470.1,424.3 L470.6,425.2 L471.1,426.2 L471.6,427.6 L472.1,429.4 L472.6,431.3 L473.1,432.9 L473.6,434.0 L474.1,434.7 L474.6,435.4 L475.1,436.0 L475.6,436.6 L476.1,437.0 L476.6,437.3 L477.1,437.4 L477.6,437.5 L478.1,437.6 L478.6,437.7 L479.1,437.8 L479.6,437.9 L480.1,437.9 L480.6,437.9 L481.1,438.0 L481.6,438.0 L482.1,438.0 L482.6,438.0 L483.1,437.9 L483.6,437.8 L484.1,437.7 L484.6,437.6 L485.1,437.5 L485.6,437.4 L486.1,437.2 L486.6,437.1 L487.1,437.1 L487.6,437.0 L488.1,437.0 L488.6,437.0 L489.1,437.1 L489.6,437.2 L490.1,437.2 L490.6,437.3 L491.1,437.4 L491.6,437.5 L492.1,437.6 L492.6,437.7 L493.1,437.8 L493.6,437.9 L494.1,438.0 L494.6,438.0 L495.1,438.1 L495.6,438.2 L496.1,438.3 L496.6,438.3 L497.1,438.4 L497.6,438.4 L498.1,438.4 L498.6,438.4 L499.1,438.4 L499.6,438.4 L500.1,438.4 L500.6,438.4 L501.1,438.4 L501.6,438.4 L502.1,438.4 L502.6,438.4 L503.1,438.4 L503.6,438.4 L504.1,438.4 L504.6,438.4 L505.1,438.4 L505.6,438.4 L506.1,438.4 L506.6,438.4 L507.1,438.3 L507.6,437.9 L508.1,437.3 L508.6,436.4 L509.1,435.5 L509.6,434.6 L510.1,433.8 L510.6,433.0 L511.1,432.0 L511.6,431.0 L512.1,430.1 L512.6,429.6 L513.1,429.4 L513.6,429.8 L514.1,430.5 L514.6,431.3 L515.1,431.9 L515.6,432.0 L516.1,431.9 L516.6,431.6 L517.1,431.3 L517.6,430.7 L518.1,429.1 L518.6,426.9 L519.1,424.8 L519.6,423.6 L520.1,422.5 L520.6,421.7 L521.1,421.1 L521.6,421.1 L522.1,422.2 L522.6,423.9 L523.1,425.5 L523.6,426.2 L524.1,426.7 L524.6,427.1 L525.1,427.4 L525.6,427.3 L526.1,426.7 L526.6,425.8 L527.1,425.1 L527.6,425.0 L528.1,425.3 L528.6,425.9 L529.1,426.6 L529.6,427.4 L530.1,428.1 L530.6,429.0 L531.1,430.0 L531.6,431.0 L532.1,431.9 L532.6,432.6 L533.1,433.1 L533.6,433.4 L534.1,433.6 L534.6,433.9 L535.1,434.0 L535.6,433.9 L536.1,433.4 L536.6,432.4 L537.1,431.1 L537.6,429.9 L538.1,428.8 L538.6,427.6 L539.1,426.4 L539.6,425.5 L540.1,424.9 L540.6,424.7 L541.1,424.5 L541.6,424.4 L542.1,424.2 L542.6,424.0 L543.1,423.6 L543.6,423.0 L544.1,422.4 L544.6,421.6 L545.1,420.8 L545.6,419.7 L546.1,418.5 L546.6,417.4 L547.1,417.0 L547.6,416.8 L548.1,416.7 L548.6,416.6 L549.1,416.6 L549.6,417.0 L550.1,417.9 L550.6,419.0 L551.1,420.3 L551.6,421.5 L552.1,423.0 L552.6,424.6 L553.1,426.3 L553.6,427.9 L554.1,429.2 L554.6,430.4 L555.1,431.5 L555.6,432.5 L556.1,433.4 L556.6,434.0 L557.1,434.5 L557.6,434.9 L558.1,435.0 L558.6,434.7 L559.1,434.1 L559.6,433.2 L560.1,432.1 L560.6,431.0 L561.1,429.5 L561.6,427.5 L562.1,425.2 L562.6,422.8 L563.1,420.6 L563.6,418.1 L564.1,415.5 L564.6,413.0 L565.1,410.9 L565.6,409.5 L566.1,408.2 L566.6,407.1 L567.1,406.3 L567.6,406.0 L568.1,406.6 L568.6,408.2 L569.1,410.1 L569.6,412.0 L570.1,414.2 L570.6,416.8 L571.1,418.6 L571.6,419.0 L572.1,418.7 L572.6,418.3 L573.1,417.8 L573.6,417.5 L574.1,417.4 L574.6,417.8 L575.1,418.5 L575.6,419.3 L576.1,420.2 L576.6,421.1 L577.1,422.2 L577.6,423.3 L578.1,424.3 L578.6,425.0 L579.1,425.6 L579.6,426.1 L580.1,426.5 L580.6,426.6 L581.1,426.4 L581.6,426.0 L582.1,425.4 L582.6,424.8 L583.1,424.2 L583.6,423.9 L584.1,423.5 L584.6,423.1 L585.1,422.8 L585.6,422.7 L586.1,422.6 L586.6,422.6 L587.1,422.7 L587.6,422.8 L588.1,422.9 L588.6,423.0 L589.1,423.0 L589.6,422.8 L590.1,422.5 L590.6,421.9 L591.1,421.4 L591.6,420.7 L592.1,419.8 L592.6,418.6 L593.1,417.5 L593.6,416.7 L594.1,415.8 L594.6,415.4 L595.1,416.1 L595.6,417.7 L596.1,419.3 L596.6,420.3 L597.1,421.2 L597.6,421.8 L598.1,422.0 L598.6,421.4 L599.1,420.3 L599.6,418.8 L600.1,417.3 L600.6,416.0 L601.1,414.8 L601.6,413.5 L602.1,412.4 L602.6,412.0 L603.1,412.3 L603.6,413.2 L604.1,414.3 L604.6,415.4 L605.1,416.1 L605.6,416.8 L606.1,417.4 L606.6,417.9 L607.1,418.0 L607.6,417.6 L608.1,416.7 L608.6,415.7 L609.1,414.8 L609.6,413.8 L610.1,412.7 L610.6,411.8 L611.1,411.4 L611.6,411.2 L612.1,411.0 L612.6,411.0 L613.1,411.3 L613.6,412.3 L614.1,413.5 L614.6,414.9 L615.1,416.3 L615.6,417.9 L616.1,419.7 L616.6,421.6 L617.1,423.2 L617.6,424.5 L618.1,425.6 L618.6,426.6 L619.1,427.3 L619.6,427.4 L620.1,427.0 L620.6,426.4 L621.1,425.6 L621.6,424.7 L622.1,423.8 L622.6,422.7 L623.1,421.5 L623.6,420.5 L624.1,419.9 L624.6,419.7 L625.1,419.6 L625.6,420.1 L626.1,421.2 L626.4,422.0"/>
<path class="c" stroke="#1212ff" d="M381.6,426.0 L382.1,423.0 L382.6,420.5 L383.1,418.7 L383.6,417.1 L384.1,415.8 L384.6,414.9 L385.1,414.6 L385.6,414.9 L386.1,415.5 L386.6,416.2 L387.1,416.8 L387.6,417.0 L388.1,416.9 L388.6,416.6 L389.1,416.3 L389.6,416.0 L390.1,415.7 L390.6,415.4 L391.1,415.1 L391.6,415.0 L392.1,415.4 L392.6,416.5 L393.1,417.8 L393.6,419.0 L394.1,420.1 L394.6,421.3 L395.1,422.2 L395.6,422.6 L396.1,422.3 L396.6,421.7 L397.1,420.7 L397.6,419.7 L398.1,418.8 L398.6,418.0 L399.1,417.0 L399.6,416.1 L400.1,415.0 L400.6,413.9 L401.1,412.8 L401.6,411.4 L402.1,410.0 L402.6,408.4 L403.1,406.7 L403.6,405.0 L404.1,403.0 L404.6,400.8 L405.1,398.6 L405.6,396.5 L406.1,394.7 L406.6,393.2 L407.1,391.9 L407.6,390.6 L408.1,389.4 L408.6,388.1 L409.1,386.7 L409.6,385.1 L410.1,383.4 L410.6,381.6 L411.1,379.8 L411.6,378.2 L412.1,376.7 L412.6,375.3 L413.1,373.9 L413.6,372.7 L414.1,371.8 L414.6,371.1 L415.1,370.5 L415.6,370.5 L416.1,371.1 L416.6,372.2 L417.1,373.5 L417.6,375.0 L418.1,376.2 L418.6,377.5 L419.1,378.9 L419.6,380.3 L420.1,381.7 L420.6,383.0 L421.1,384.2 L421.6,385.5 L422.1,386.8 L422.6,388.1 L423.1,389.1 L423.6,389.8 L424.1,390.0 L424.6,389.0 L425.1,387.1 L425.6,384.6 L426.1,382.2 L426.6,380.2 L427.1,378.2 L427.6,376.2 L428.1,374.4 L428.6,373.0 L429.1,371.9 L429.6,371.4 L430.1,371.8 L430.6,373.0 L431.1,374.5 L431.6,376.0 L432.1,377.2 L432.6,378.4 L433.1,379.7 L433.6,380.8 L434.1,381.7 L434.6,382.2 L435.1,382.5 L435.6,382.8 L436.1,383.0 L436.6,382.9 L437.1,381.6 L437.6,379.3 L438.1,376.6 L438.6,373.8 L439.1,370.0 L439.6,365.8 L440.1,362.3 L440.6,360.4 L441.1,359.0 L441.6,357.8 L442.1,357.1 L442.6,357.1 L443.1,358.0 L443.6,359.6 L444.1,361.6 L444.6,364.2 L445.1,368.6 L445.6,374.3 L446.1,380.1 L446.6,384.8 L447.1,389.1 L447.6,393.3 L448.1,397.2 L448.6,400.7 L449.1,403.5 L449.6,406.0 L450.1,408.3 L450.6,410.4 L451.1,412.2 L451.6,413.9 L452.1,415.3 L452.6,416.5 L453.1,417.5 L453.6,418.4 L454.1,419.3 L454.6,420.2 L455.1,421.2 L455.6,422.3 L456.1,423.4 L456.6,424.5 L457.1,425.5 L457.6,426.4 L458.1,427.1 L458.6,427.8 L459.1,428.5 L459.6,429.1 L460.1,429.6 L460.6,429.9 L461.1,430.0 L461.6,429.7 L462.1,429.1 L462.6,428.2 L463.1,427.2 L463.6,426.0 L464.1,424.2 L464.6,421.6 L465.1,418.4 L465.6,415.3 L466.1,412.5 L466.6,409.7 L467.1,406.8 L467.6,404.1 L468.1,402.0 L468.6,400.5 L469.1,399.2 L469.6,398.1 L470.1,397.3 L470.6,397.0 L471.1,397.5 L471.6,398.9 L472.1,400.8 L472.6,403.0 L473.1,406.1 L473.6,410.3 L474.1,414.7 L474.6,418.4 L475.1,422.0 L475.6,425.4 L476.1,428.0 L476.6,429.5 L477.1,430.7 L477.6,431.6 L478.1,432.4 L478.6,432.9 L479.1,433.0 L479.6,432.9 L480.1,432.6 L480.6,432.3 L481.1,431.9 L481.6,431.5 L482.1,430.9 L482.6,430.5 L483.1,430.4 L483.6,430.9 L484.1,431.8 L484.6,432.8 L485.1,433.7 L485.6,434.0 L486.1,434.0 L486.6,433.9 L487.1,433.7 L487.6,433.6 L488.1,433.4 L488.6,433.2 L489.1,433.0 L489.6,432.7 L490.1,432.4 L490.6,432.0 L491.1,431.6 L491.6,431.2 L492.1,430.9 L492.6,430.6 L493.1,430.3 L493.6,430.1 L494.1,430.0 L494.6,430.6 L495.1,431.8 L495.6,433.1 L496.1,434.2 L496.6,435.4 L497.1,436.7 L497.6,437.7 L498.1,438.0 L498.6,438.1 L499.1,438.1 L499.6,438.2 L500.1,438.2 L500.6,438.2 L501.1,438.3 L501.6,438.3 L502.1,438.3 L502.6,438.3 L503.1,438.3 L503.6,438.4 L504.1,438.4 L504.6,438.4 L505.1,438.4 L505.6,438.4 L506.1,438.4 L506.6,438.4 L507.1,438.4 L507.6,438.3 L508.1,438.2 L508.6,438.0 L509.1,437.8 L509.6,437.6 L510.1,437.3 L510.6,437.0 L511.1,436.5 L511.6,435.9 L512.1,435.4 L512.6,435.1 L513.1,435.0 L513.6,435.1 L514.1,435.2 L514.6,435.3 L515.1,435.5 L515.6,435.6 L516.1,435.6 L516.6,435.5 L517.1,435.3 L517.6,435.0 L518.1,434.6 L518.6,434.3 L519.1,433.9 L519.6,433.5 L520.1,433.0 L520.6,432.5 L521.1,432.0 L521.6,431.7 L522.1,431.6 L522.6,432.1 L523.1,433.0 L523.6,434.1 L524.1,435.2 L524.6,436.0 L525.1,436.6 L525.6,437.1 L526.1,437.6 L526.6,437.9 L527.1,438.0 L527.6,437.7 L528.1,437.2 L528.6,436.4 L529.1,435.6 L529.6,434.7 L530.1,433.8 L530.6,432.8 L531.1,431.5 L531.6,430.3 L532.1,429.4 L532.6,429.0 L533.1,429.3 L533.6,430.1 L534.1,431.1 L534.6,431.8 L535.1,432.0 L535.6,432.0 L536.1,432.0 L536.6,432.0 L537.1,432.0 L537.6,432.0 L538.1,431.6 L538.6,431.1 L539.1,430.6 L539.6,430.1 L540.1,430.0 L540.6,430.3 L541.1,430.8 L541.6,431.3 L542.1,431.8 L542.6,432.0 L543.1,431.5 L543.6,430.2 L544.1,428.5 L544.6,426.5 L545.1,424.6 L545.6,422.3 L546.1,419.7 L546.6,417.3 L547.1,415.8 L547.6,414.7 L548.1,413.9 L548.6,413.2 L549.1,412.5 L549.6,411.7 L550.1,410.8 L550.6,409.9 L551.1,409.3 L551.6,408.9 L552.1,408.7 L552.6,408.5 L553.1,408.4 L553.6,408.2 L554.1,407.9 L554.6,407.1 L555.1,405.8 L555.6,404.1 L556.1,402.5 L556.6,401.0 L557.1,399.7 L557.6,398.3 L558.1,396.9 L558.6,395.6 L559.1,394.6 L559.6,393.7 L560.1,392.9 L560.6,392.2 L561.1,391.6 L561.6,391.1 L562.1,390.5 L562.6,390.0 L563.1,389.4 L563.6,388.8 L564.1,388.2 L564.6,387.7 L565.1,387.5 L565.6,387.5 L566.1,388.4 L566.6,389.8 L567.1,391.6 L567.6,393.1 L568.1,394.2 L568.6,395.0 L569.1,395.7 L569.6,396.4 L570.1,396.8 L570.6,397.0 L571.1,395.8 L571.6,392.8 L572.1,388.9 L572.6,385.0 L573.1,380.6 L573.6,375.5 L574.1,370.6 L574.6,367.0 L575.1,364.5 L575.6,362.1 L576.1,360.2 L576.6,358.9 L577.1,358.6 L577.6,359.8 L578.1,362.1 L578.6,364.9 L579.1,367.5 L579.6,370.2 L580.1,373.2 L580.6,376.3 L581.1,379.3 L581.6,382.1 L582.1,384.9 L582.6,387.7 L583.1,390.2 L583.6,392.0 L584.1,393.5 L584.6,394.6 L585.1,395.0 L585.6,393.5 L586.1,390.6 L586.6,387.3 L587.1,384.5 L587.6,381.9 L588.1,379.3 L588.6,376.7 L589.1,374.3 L589.6,372.2 L590.1,370.1 L590.6,368.1 L591.1,366.6 L591.6,365.7 L592.1,365.0 L592.6,364.5 L593.1,364.4 L593.6,365.1 L594.1,366.3 L594.6,367.9 L595.1,369.3 L595.6,370.8 L596.1,372.5 L596.6,374.2 L597.1,375.5 L597.6,376.3 L598.1,376.9 L598.6,377.3 L599.1,377.4 L599.6,376.8 L600.1,375.7 L600.6,374.6 L601.1,373.9 L601.6,373.4 L602.1,373.1 L602.6,373.1 L603.1,374.4 L603.6,376.3 L604.1,378.2 L604.6,379.4 L605.1,380.4 L605.6,381.3 L606.1,381.9 L606.6,381.9 L607.1,380.4 L607.6,378.1 L608.1,375.4 L608.6,373.0 L609.1,370.9 L609.6,368.6 L610.1,366.5 L610.6,364.8 L611.1,363.9 L611.6,363.3 L612.1,362.8 L612.6,362.5 L613.1,362.4 L613.6,363.0 L614.1,364.2 L614.6,365.7 L615.1,367.3 L615.6,369.5 L616.1,372.2 L616.6,374.9 L617.1,377.5 L617.6,380.2 L618.1,382.8 L618.6,385.0 L619.1,386.1 L619.6,386.6 L620.1,386.9 L620.6,387.2 L621.1,387.6 L621.6,388.4 L622.1,390.3 L622.6,392.9 L623.1,395.5 L623.6,398.3 L624.1,401.3 L624.6,404.5 L625.1,407.6 L625.6,410.8 L626.1,414.0 L626.4,416.0"/>
<path class="c" stroke="#141414" d="M381.6,398.0 L382.1,388.3 L382.6,380.6 L383.1,376.4 L383.6,374.0 L384.1,372.3 L384.6,371.6 L385.1,372.8 L385.6,375.7 L386.1,379.1 L386.6,382.2 L387.1,385.4 L387.6,388.8 L388.1,392.2 L388.6,395.1 L389.1,397.4 L389.6,399.4 L390.1,401.1 L390.6,402.4 L391.1,403.1 L391.6,403.5 L392.1,403.8 L392.6,404.0 L393.1,404.0 L393.6,403.1 L394.1,401.3 L394.6,398.9 L395.1,396.5 L395.6,393.3 L396.1,389.3 L396.6,384.9 L397.1,380.6 L397.6,377.0 L398.1,373.8 L398.6,370.6 L399.1,367.7 L399.6,365.3 L400.1,363.7 L400.6,362.6 L401.1,361.8 L401.6,361.0 L402.1,360.3 L402.6,359.6 L403.1,358.8 L403.6,358.0 L404.1,357.2 L404.6,356.4 L405.1,355.6 L405.6,354.8 L406.1,353.8 L406.6,352.8 L407.1,351.7 L407.6,350.5 L408.1,349.3 L408.6,348.0 L409.1,346.7 L409.6,345.5 L410.1,344.2 L410.6,342.6 L411.1,340.5 L411.6,336.8 L412.1,331.7 L412.6,325.9 L413.1,319.7 L413.6,312.0 L414.1,303.2 L414.6,295.3 L415.1,290.2 L415.6,286.5 L416.1,283.6 L416.6,282.4 L417.1,283.3 L417.6,285.5 L418.1,288.8 L418.6,293.0 L419.1,301.1 L419.6,311.9 L420.1,323.1 L420.6,332.7 L421.1,342.6 L421.6,352.1 L422.1,359.8 L422.6,364.7 L423.1,368.5 L423.6,371.2 L424.1,371.9 L424.6,370.1 L425.1,366.3 L425.6,361.3 L426.1,355.8 L426.6,347.7 L427.1,337.3 L427.6,327.3 L428.1,319.8 L428.6,313.6 L429.1,308.1 L429.6,304.0 L430.1,301.7 L430.6,300.4 L431.1,300.0 L431.6,301.1 L432.1,303.0 L432.6,305.3 L433.1,307.4 L433.6,309.6 L434.1,312.0 L434.6,313.9 L435.1,314.6 L435.6,314.9 L436.1,315.0 L436.6,314.8 L437.1,312.8 L437.6,309.3 L438.1,305.3 L438.6,301.4 L439.1,296.3 L439.6,290.9 L440.1,286.5 L440.6,284.4 L441.1,282.9 L441.6,281.8 L442.1,281.1 L442.6,281.1 L443.1,281.6 L443.6,282.6 L444.1,284.0 L444.6,285.9 L445.1,289.8 L445.6,295.4 L446.1,301.5 L446.6,307.3 L447.1,313.6 L447.6,320.3 L448.1,327.2 L448.6,333.9 L449.1,340.2 L449.6,346.2 L450.1,352.1 L450.6,357.8 L451.1,363.4 L451.6,369.0 L452.1,374.7 L452.6,380.6 L453.1,386.2 L453.6,391.4 L454.1,395.8 L454.6,399.9 L455.1,403.7 L455.6,407.1 L456.1,409.8 L456.6,411.7 L457.1,413.4 L457.6,414.9 L458.1,416.0 L458.6,416.8 L459.1,417.0 L459.6,416.5 L460.1,415.4 L460.6,413.9 L461.1,412.1 L461.6,410.1 L462.1,407.0 L462.6,402.8 L463.1,398.0 L463.6,392.9 L464.1,388.0 L464.6,382.7 L465.1,377.0 L465.6,371.2 L466.1,365.8 L466.6,361.2 L467.1,356.6 L467.6,352.5 L468.1,349.2 L468.6,347.4 L469.1,346.1 L469.6,345.6 L470.1,346.5 L470.6,348.7 L471.1,351.9 L471.6,355.7 L472.1,362.4 L472.6,371.1 L473.1,380.1 L473.6,388.1 L474.1,396.5 L474.6,404.8 L475.1,411.8 L475.6,416.8 L476.1,421.1 L476.6,424.7 L477.1,427.2 L477.6,428.3 L478.1,429.0 L478.6,429.5 L479.1,429.9 L479.6,430.0 L480.1,429.7 L480.6,428.9 L481.1,428.0 L481.6,427.4 L482.1,427.0 L482.6,426.7 L483.1,426.6 L483.6,427.3 L484.1,428.6 L484.6,429.6 L485.1,430.0 L485.6,429.7 L486.1,429.2 L486.6,428.5 L487.1,427.9 L487.6,427.1 L488.1,426.2 L488.6,425.3 L489.1,424.6 L489.6,424.3 L490.1,424.1 L490.6,423.9 L491.1,423.7 L491.6,423.6 L492.1,423.6 L492.6,423.7 L493.1,423.9 L493.6,424.1 L494.1,424.5 L494.6,425.7 L495.1,427.5 L495.6,429.6 L496.1,431.3 L496.6,432.9 L497.1,434.5 L497.6,435.9 L498.1,436.7 L498.6,437.4 L499.1,437.9 L499.6,438.3 L500.1,438.4 L500.6,438.4 L501.1,438.4 L501.6,438.4 L502.1,438.4 L502.6,438.4 L503.1,438.4 L503.6,438.4 L504.1,438.4 L504.6,438.4 L505.1,438.4 L505.6,438.4 L506.1,438.4 L506.6,438.4 L507.1,438.3 L507.6,437.8 L508.1,436.9 L508.6,435.8 L509.1,434.7 L509.6,433.5 L510.1,432.1 L510.6,430.5 L511.1,429.2 L511.6,428.3 L512.1,427.6 L512.6,427.0 L513.1,426.7 L513.6,426.7 L514.1,427.6 L514.6,428.8 L515.1,429.8 L515.6,430.0 L516.1,430.0 L516.6,430.0 L517.1,430.0 L517.6,429.9 L518.1,428.6 L518.6,426.5 L519.1,424.2 L519.6,422.2 L520.1,419.9 L520.6,417.5 L521.1,415.7 L521.6,414.7 L522.1,414.1 L522.6,414.2 L523.1,415.9 L523.6,418.3 L524.1,420.3 L524.6,422.3 L525.1,424.2 L525.6,425.6 L526.1,426.0 L526.6,425.5 L527.1,424.6 L527.6,423.8 L528.1,423.6 L528.6,423.6 L529.1,423.6 L529.6,423.6 L530.1,423.6 L530.6,423.6 L531.1,423.6 L531.6,423.7 L532.1,423.8 L532.6,423.9 L533.1,424.0 L533.6,424.7 L534.1,425.6 L534.6,426.3 L535.1,426.6 L535.6,426.3 L536.1,425.7 L536.6,424.8 L537.1,423.8 L537.6,421.9 L538.1,419.4 L538.6,416.7 L539.1,414.6 L539.6,412.9 L540.1,411.4 L540.6,410.0 L541.1,408.8 L541.6,407.8 L542.1,407.0 L542.6,406.1 L543.1,404.6 L543.6,401.7 L544.1,397.4 L544.6,392.6 L545.1,388.1 L545.6,383.1 L546.1,377.8 L546.6,373.3 L547.1,370.6 L547.6,369.0 L548.1,367.7 L548.6,366.7 L549.1,365.8 L549.6,365.0 L550.1,364.1 L550.6,363.5 L551.1,363.1 L551.6,363.1 L552.1,364.5 L552.6,366.8 L553.1,369.5 L553.6,372.1 L554.1,375.4 L554.6,379.0 L555.1,381.9 L555.6,383.5 L556.1,384.6 L556.6,385.4 L557.1,385.9 L557.6,385.9 L558.1,385.2 L558.6,383.8 L559.1,382.1 L559.6,380.2 L560.1,377.4 L560.6,374.0 L561.1,370.0 L561.6,366.0 L562.1,362.3 L562.6,358.3 L563.1,354.1 L563.6,350.0 L564.1,346.2 L564.6,343.0 L565.1,340.1 L565.6,337.4 L566.1,335.2 L566.6,334.0 L567.1,333.5 L567.6,333.6 L568.1,335.4 L568.6,338.3 L569.1,341.4 L569.6,344.0 L570.1,346.9 L570.6,349.7 L571.1,351.6 L571.6,351.7 L572.1,349.1 L572.6,344.3 L573.1,338.5 L573.6,332.2 L574.1,322.6 L574.6,312.5 L575.1,306.1 L575.6,301.9 L576.1,298.7 L576.6,297.4 L577.1,298.6 L577.6,301.5 L578.1,305.3 L578.6,309.0 L579.1,312.8 L579.6,317.0 L580.1,321.5 L580.6,325.8 L581.1,329.7 L581.6,333.6 L582.1,337.4 L582.6,340.9 L583.1,343.7 L583.6,345.7 L584.1,347.4 L584.6,348.6 L585.1,348.9 L585.6,347.0 L586.1,343.2 L586.6,338.6 L587.1,334.1 L587.6,328.8 L588.1,322.8 L588.6,317.6 L589.1,314.6 L589.6,312.8 L590.1,311.4 L590.6,310.4 L591.1,309.9 L591.6,309.7 L592.1,309.5 L592.6,309.4 L593.1,309.4 L593.6,309.8 L594.1,310.7 L594.6,311.9 L595.1,313.4 L595.6,316.5 L596.1,321.2 L596.6,325.9 L597.1,329.6 L597.6,332.8 L598.1,335.8 L598.6,338.1 L599.1,339.1 L599.6,339.6 L600.1,339.9 L600.6,340.0 L601.1,339.4 L601.6,338.0 L602.1,336.6 L602.6,336.0 L603.1,336.7 L603.6,338.3 L604.1,339.9 L604.6,340.6 L605.1,339.8 L605.6,338.0 L606.1,335.8 L606.6,334.0 L607.1,332.5 L607.6,331.1 L608.1,329.8 L608.6,328.7 L609.1,327.9 L609.6,327.2 L610.1,326.5 L610.6,326.1 L611.1,326.0 L611.6,326.4 L612.1,327.1 L612.6,328.1 L613.1,329.3 L613.6,331.0 L614.1,333.5 L614.6,336.5 L615.1,339.7 L615.6,343.8 L616.1,348.7 L616.6,353.6 L617.1,357.8 L617.6,361.9 L618.1,365.9 L618.6,368.9 L619.1,370.1 L619.6,370.5 L620.1,370.5 L620.6,368.5 L621.1,365.4 L621.6,363.0 L622.1,361.8 L622.6,360.8 L623.1,360.1 L623.6,360.2 L624.1,362.4 L624.6,365.9 L625.1,369.8 L625.6,374.5 L626.1,380.5 L626.4,384.4"/>
<rect class="f" x="378.6" y="253.3" width="251.1" height="188.0"/>
<text class="t" text-anchor="end" x="369.6" y="442.5">0</text>
<text class="t" text-anchor="end" x="369.6" y="416.4">2</text>
<text class="t" text-anchor="end" x="369.6" y="390.3">4</text>
<text class="t" text-anchor="end" x="369.6" y="364.3">6</text>
<text class="t" text-anchor="end" x="369.6" y="338.2">8</text>
<text class="t" text-anchor="end" x="369.6" y="312.1">10</text>
<text class="t" text-anchor="end" x="369.6" y="286.0">12</text>
<text class="t" text-anchor="end" x="369.6" y="259.9">14</text>
<text class="t" text-anchor="middle" x="384.1" y="457.5">-15</text>
<text class="t" text-anchor="middle" x="440.3" y="457.5">-10</text>
<text class="t" text-anchor="middle" x="496.5" y="457.5">-5</text>
<text class="t" text-anchor="middle" x="554.2" y="457.5">0</text>
<text class="t" text-anchor="middle" x="610.4" y="457.5">5</text>
<path class="k" d="M374.8,438.0H378.6M376.4,431.5H378.6M376.4,425.0H378.6M376.4,418.4H378.6M374.8,411.9H378.6M376.4,405.4H378.6M376.4,398.9H378.6M376.4,392.4H378.6M374.8,385.8H378.6M376.4,379.3H378.6M376.4,372.8H378.6M376.4,366.3H378.6M374.8,359.8H378.6M376.4,353.2H378.6M376.4,346.7H378.6M376.4,340.2H378.6M374.8,333.7H378.6M376.4,327.2H378.6M376.4,320.6H378.6M376.4,314.1H378.6M374.8,307.6H378.6M376.4,301.1H378.6M376.4,294.6H378.6M376.4,288.0H378.6M374.8,281.5H378.6M376.4,275.0H378.6M376.4,268.5H378.6M376.4,262.0H378.6M374.8,255.4H378.6M385.6,441.3V445.1M396.8,441.3V443.5M408.1,441.3V443.5M419.3,441.3V443.5M430.6,441.3V443.5M441.8,441.3V445.1M453.0,441.3V443.5M464.3,441.3V443.5M475.5,441.3V443.5M486.8,441.3V443.5M498.0,441.3V445.1M509.2,441.3V443.5M520.5,441.3V443.5M531.7,441.3V443.5M543.0,441.3V443.5M554.2,441.3V445.1M565.4,441.3V443.5M576.7,441.3V443.5M587.9,441.3V443.5M599.2,441.3V443.5M610.4,441.3V445.1M621.6,441.3V443.5"/>
<text class="t" text-anchor="middle" x="499.5" y="468.5">Energy (<tspan font-style="italic">eV</tspan>)</text>
<text class="h" text-anchor="middle" x="516.5" y="490.5">AO2</text>
<text class="t" style="font-size:12.3px" text-anchor="middle" transform="translate(355.5,347.5) rotate(-90)">Relative Intensity</text>
<path stroke="#ff1a1a" stroke-width="1.5" d="M631,258.6H634.4"/>
<text class="t" x="638" y="262.6">Donor</text>
<path stroke="#0f860f" stroke-width="1.5" d="M631,273.4H634.4"/>
<text class="t" x="637.4" y="278.6">Acceptor</text>
<path stroke="#1212ff" stroke-width="1.5" d="M631,288H634.4"/>
<text class="t" x="637.4" y="292.6"><tspan font-style="italic">π</tspan>-spacer</text>
<path stroke="#141414" stroke-width="1.5" d="M631,303.4H634.4"/>
<text class="t" x="639" y="306.4">Total</text>
</g>
<g id="AO3">
<path class="c" stroke="#ff1a1a" d="M38.0,675.6 L38.5,673.2 L39.0,671.7 L39.5,671.0 L40.0,671.4 L40.5,672.8 L41.0,674.6 L41.5,676.3 L42.0,678.4 L42.5,680.8 L43.0,683.1 L43.5,684.8 L44.0,685.8 L44.5,686.8 L45.0,687.6 L45.5,688.2 L46.0,688.4 L46.5,688.3 L47.0,687.9 L47.5,687.3 L48.0,686.6 L48.5,685.8 L49.0,685.0 L49.5,683.9 L50.0,682.4 L50.5,680.6 L51.0,678.9 L51.5,677.3 L52.0,675.9 L52.5,674.4 L53.0,672.9 L53.5,671.6 L54.0,670.6 L54.5,669.9 L55.0,669.4 L55.5,668.9 L56.0,668.6 L56.5,668.4 L57.0,668.8 L57.5,670.1 L58.0,671.6 L58.5,672.8 L59.0,673.6 L59.5,674.1 L60.0,674.4 L60.5,673.8 L61.0,672.5 L61.5,670.7 L62.0,669.0 L62.5,667.8 L63.0,666.9 L63.5,666.2 L64.0,665.4 L64.5,664.7 L65.0,664.0 L65.5,663.3 L66.0,662.7 L66.5,662.0 L67.0,661.2 L67.5,660.2 L68.0,658.5 L68.5,655.8 L69.0,652.8 L69.5,650.3 L70.0,648.8 L70.5,647.3 L71.0,646.2 L71.5,645.6 L72.0,646.2 L72.5,648.4 L73.0,651.5 L73.5,654.7 L74.0,658.9 L74.5,664.0 L75.0,668.9 L75.5,672.6 L76.0,675.8 L76.5,678.7 L77.0,681.0 L77.5,682.2 L78.0,682.9 L78.5,683.4 L79.0,683.6 L79.5,683.0 L80.0,681.7 L80.5,679.8 L81.0,678.0 L81.5,676.0 L82.0,673.6 L82.5,671.1 L83.0,668.6 L83.5,666.4 L84.0,664.4 L84.5,662.5 L85.0,660.6 L85.5,659.1 L86.0,658.0 L86.5,657.2 L87.0,656.6 L87.5,656.4 L88.0,656.6 L88.5,657.1 L89.0,657.6 L89.5,658.1 L90.0,658.4 L90.5,658.5 L91.0,658.6 L91.5,658.7 L92.0,658.8 L92.5,658.9 L93.0,659.0 L93.5,659.2 L94.0,659.5 L94.5,659.8 L95.0,660.3 L95.5,660.9 L96.0,661.8 L96.5,663.5 L97.0,665.5 L97.5,667.6 L98.0,669.7 L98.5,672.0 L99.0,674.3 L99.5,676.4 L100.0,678.0 L100.5,679.1 L101.0,680.2 L101.5,681.1 L102.0,681.8 L102.5,682.5 L103.0,683.0 L103.5,683.4 L104.0,683.8 L104.5,684.1 L105.0,684.3 L105.5,684.6 L106.0,685.0 L106.5,685.5 L107.0,686.0 L107.5,686.7 L108.0,687.3 L108.5,687.8 L109.0,688.2 L109.5,688.4 L110.0,688.4 L110.5,688.3 L111.0,688.3 L111.5,688.1 L112.0,688.0 L112.5,687.7 L113.0,687.0 L113.5,686.1 L114.0,685.0 L114.5,683.7 L115.0,681.4 L115.5,678.3 L116.0,674.7 L116.5,671.3 L117.0,667.5 L117.5,663.4 L118.0,659.9 L118.5,657.7 L119.0,656.1 L119.5,654.9 L120.0,654.4 L120.5,655.1 L121.0,656.9 L121.5,659.4 L122.0,662.0 L122.5,665.5 L123.0,670.0 L123.5,674.5 L124.0,678.0 L124.5,680.5 L125.0,682.8 L125.5,684.8 L126.0,686.2 L126.5,687.1 L127.0,687.8 L127.5,688.4 L128.0,688.9 L128.5,689.2 L129.0,689.5 L129.5,689.6 L130.0,689.6 L130.5,689.4 L131.0,689.2 L131.5,688.9 L132.0,688.7 L132.5,688.5 L133.0,688.4 L133.5,688.4 L134.0,688.4 L134.5,688.4 L135.0,688.3 L135.5,688.3 L136.0,688.3 L136.5,688.3 L137.0,688.3 L137.5,688.1 L138.0,687.9 L138.5,687.5 L139.0,687.2 L139.5,686.8 L140.0,686.4 L140.5,686.2 L141.0,686.0 L141.5,685.9 L142.0,685.8 L142.5,685.7 L143.0,685.7 L143.5,685.6 L144.0,685.6 L144.5,685.8 L145.0,686.3 L145.5,687.0 L146.0,687.7 L146.5,688.5 L147.0,689.0 L147.5,689.4 L148.0,689.9 L148.5,690.3 L149.0,690.6 L149.5,690.9 L150.0,691.0 L150.5,691.0 L151.0,691.1 L151.5,691.1 L152.0,691.1 L152.5,691.2 L153.0,691.2 L153.5,691.2 L154.0,691.3 L154.5,691.3 L155.0,691.3 L155.5,691.3 L156.0,691.3 L156.5,691.3 L157.0,691.4 L157.5,691.4 L158.0,691.4 L158.5,691.4 L159.0,691.4 L159.5,691.4 L160.0,691.4 L160.5,691.4 L161.0,691.4 L161.5,691.4 L162.0,691.4 L162.5,691.4 L163.0,691.4 L163.5,691.4 L164.0,691.4 L164.5,691.4 L165.0,691.4 L165.5,691.4 L166.0,691.4 L166.5,691.4 L167.0,691.4 L167.5,691.4 L168.0,691.4 L168.5,691.4 L169.0,691.4 L169.5,691.4 L170.0,691.4 L170.5,691.4 L171.0,691.4 L171.5,691.4 L172.0,691.4 L172.5,691.4 L173.0,691.4 L173.5,691.4 L174.0,691.4 L174.5,691.3 L175.0,691.3 L175.5,691.2 L176.0,691.1 L176.5,691.1 L177.0,691.0 L177.5,690.9 L178.0,690.8 L178.5,690.7 L179.0,690.6 L179.5,690.5 L180.0,690.4 L180.5,690.3 L181.0,690.2 L181.5,690.1 L182.0,690.0 L182.5,689.8 L183.0,689.7 L183.5,689.6 L184.0,689.4 L184.5,689.2 L185.0,689.0 L185.5,688.8 L186.0,688.5 L186.5,688.1 L187.0,687.7 L187.5,687.3 L188.0,686.7 L188.5,686.1 L189.0,685.3 L189.5,684.0 L190.0,682.5 L190.5,680.7 L191.0,679.0 L191.5,677.0 L192.0,674.8 L192.5,672.6 L193.0,671.0 L193.5,669.7 L194.0,668.6 L194.5,667.7 L195.0,667.4 L195.5,667.4 L196.0,667.6 L196.5,667.7 L197.0,667.8 L197.5,668.0 L198.0,668.0 L198.5,667.7 L199.0,667.0 L199.5,666.3 L200.0,666.0 L200.5,666.6 L201.0,668.1 L201.5,670.1 L202.0,672.0 L202.5,674.2 L203.0,676.8 L203.5,679.2 L204.0,681.0 L204.5,682.2 L205.0,683.3 L205.5,684.1 L206.0,684.4 L206.5,684.3 L207.0,683.9 L207.5,683.4 L208.0,682.8 L208.5,682.1 L209.0,681.3 L209.5,680.2 L210.0,678.9 L210.5,677.5 L211.0,676.1 L211.5,674.7 L212.0,673.2 L212.5,671.6 L213.0,670.0 L213.5,668.7 L214.0,668.0 L214.5,667.6 L215.0,667.3 L215.5,667.1 L216.0,667.0 L216.5,667.5 L217.0,668.5 L217.5,669.5 L218.0,670.0 L218.5,669.1 L219.0,667.0 L219.5,664.4 L220.0,662.0 L220.5,659.8 L221.0,657.5 L221.5,655.5 L222.0,654.0 L222.5,653.0 L223.0,652.2 L223.5,652.0 L224.0,652.9 L224.5,654.6 L225.0,656.6 L225.5,658.3 L226.0,660.1 L226.5,661.9 L227.0,663.3 L227.5,664.1 L228.0,664.5 L228.5,664.8 L229.0,665.0 L229.5,665.0 L230.0,664.4 L230.5,663.1 L231.0,661.4 L231.5,659.6 L232.0,658.0 L232.5,656.3 L233.0,654.5 L233.5,652.9 L234.0,652.0 L234.5,651.6 L235.0,651.4 L235.5,652.2 L236.0,654.0 L236.5,656.2 L237.0,658.0 L237.5,659.6 L238.0,661.2 L238.5,662.5 L239.0,663.0 L239.5,663.0 L240.0,663.0 L240.5,663.0 L241.0,663.0 L241.5,663.5 L242.0,664.7 L242.5,666.3 L243.0,668.0 L243.5,670.3 L244.0,673.3 L244.5,676.1 L245.0,678.0 L245.5,679.1 L246.0,680.1 L246.5,680.7 L247.0,681.0 L247.5,680.6 L248.0,679.7 L248.5,678.4 L249.0,677.0 L249.5,675.8 L250.0,674.2 L250.5,672.6 L251.0,671.4 L251.5,671.0 L252.0,671.7 L252.5,673.1 L253.0,674.8 L253.5,676.3 L254.0,677.8 L254.5,679.6 L255.0,681.3 L255.5,682.8 L256.0,684.0 L256.5,685.0 L257.0,685.9 L257.5,686.8 L258.0,687.5 L258.5,688.0 L259.0,688.4 L259.5,688.6 L260.0,688.8 L260.5,689.0 L261.0,689.0 L261.5,688.8 L262.0,688.3 L262.5,687.6 L263.0,686.7 L263.5,685.8 L264.0,684.4 L264.5,682.4 L265.0,680.2 L265.5,678.0 L266.0,676.0 L266.5,674.0 L267.0,671.9 L267.5,670.1 L268.0,669.0 L268.5,668.5 L269.0,668.1 L269.5,668.0 L270.0,668.7 L270.5,669.8 L271.0,671.0 L271.5,672.0 L272.0,673.0"/>
<path class="c" stroke="#0f860f" d="M38.0,687.0 L38.5,685.3 L39.0,683.6 L39.5,682.2 L40.0,681.0 L40.5,679.9 L41.0,678.8 L41.5,677.8 L42.0,677.2 L42.5,677.0 L43.0,677.3 L43.5,677.9 L44.0,678.7 L44.5,679.4 L45.0,680.0 L45.5,680.5 L46.0,681.0 L46.5,681.4 L47.0,681.6 L47.5,681.1 L48.0,679.9 L48.5,678.1 L49.0,676.0 L49.5,672.3 L50.0,666.8 L50.5,660.8 L51.0,656.0 L51.5,652.0 L52.0,648.1 L52.5,645.2 L53.0,644.0 L53.5,644.6 L54.0,646.2 L54.5,648.2 L55.0,650.0 L55.5,651.9 L56.0,654.1 L56.5,656.0 L57.0,657.0 L57.5,657.3 L58.0,657.5 L58.5,657.6 L59.0,657.0 L59.5,655.8 L60.0,654.5 L60.5,653.4 L61.0,653.0 L61.5,653.0 L62.0,653.0 L62.5,653.0 L63.0,653.0 L63.5,653.0 L64.0,652.8 L64.5,652.3 L65.0,651.4 L65.5,650.3 L66.0,649.0 L66.5,647.7 L67.0,645.9 L67.5,643.6 L68.0,641.1 L68.5,638.4 L69.0,636.0 L69.5,633.5 L70.0,630.9 L70.5,628.6 L71.0,627.0 L71.5,626.0 L72.0,625.2 L72.5,625.1 L73.0,627.3 L73.5,631.5 L74.0,636.0 L74.5,641.0 L75.0,647.1 L75.5,653.1 L76.0,658.0 L76.5,662.1 L77.0,666.0 L77.5,669.1 L78.0,671.0 L78.5,672.0 L79.0,672.8 L79.5,673.0 L80.0,671.7 L80.5,669.3 L81.0,666.3 L81.5,663.5 L82.0,660.2 L82.5,656.6 L83.0,653.2 L83.5,650.4 L84.0,648.4 L84.5,646.6 L85.0,645.1 L85.5,644.4 L86.0,644.9 L86.5,646.7 L87.0,649.2 L87.5,651.6 L88.0,653.7 L88.5,655.9 L89.0,658.2 L89.5,660.3 L90.0,662.0 L90.5,663.4 L91.0,664.7 L91.5,665.9 L92.0,667.0 L92.5,668.0 L93.0,669.0 L93.5,669.9 L94.0,670.8 L94.5,671.5 L95.0,672.3 L95.5,673.1 L96.0,674.0 L96.5,675.0 L97.0,676.0 L97.5,677.1 L98.0,678.2 L98.5,679.2 L99.0,680.0 L99.5,680.8 L100.0,681.6 L100.5,682.2 L101.0,682.4 L101.5,682.1 L102.0,681.5 L102.5,680.7 L103.0,680.0 L103.5,679.6 L104.0,679.8 L104.5,680.4 L105.0,681.3 L105.5,682.2 L106.0,683.0 L106.5,683.8 L107.0,684.6 L107.5,685.5 L108.0,686.3 L108.5,686.8 L109.0,687.0 L109.5,687.0 L110.0,687.0 L110.5,687.0 L111.0,687.0 L111.5,687.0 L112.0,686.7 L112.5,685.5 L113.0,683.7 L113.5,681.8 L114.0,680.0 L114.5,678.1 L115.0,676.0 L115.5,674.1 L116.0,673.0 L116.5,672.5 L117.0,672.2 L117.5,672.0 L118.0,672.4 L118.5,673.5 L119.0,674.9 L119.5,675.9 L120.0,676.2 L120.5,676.4 L121.0,676.6 L121.5,676.8 L122.0,677.0 L122.5,677.3 L123.0,677.6 L123.5,678.0 L124.0,678.5 L124.5,679.1 L125.0,680.2 L125.5,681.7 L126.0,683.3 L126.5,684.8 L127.0,686.0 L127.5,686.9 L128.0,687.8 L128.5,688.6 L129.0,689.3 L129.5,689.8 L130.0,690.0 L130.5,690.0 L131.0,690.1 L131.5,690.1 L132.0,690.1 L132.5,690.1 L133.0,690.1 L133.5,690.2 L134.0,690.2 L134.5,690.2 L135.0,690.2 L135.5,690.2 L136.0,690.2 L136.5,690.2 L137.0,690.2 L137.5,690.2 L138.0,690.2 L138.5,690.2 L139.0,690.1 L139.5,690.1 L140.0,690.1 L140.5,690.1 L141.0,690.0 L141.5,690.0 L142.0,690.0 L142.5,690.0 L143.0,690.0 L143.5,690.0 L144.0,690.1 L144.5,690.2 L145.0,690.3 L145.5,690.4 L146.0,690.5 L146.5,690.6 L147.0,690.7 L147.5,690.8 L148.0,690.9 L148.5,691.0 L149.0,691.0 L149.5,691.0 L150.0,691.0 L150.5,691.0 L151.0,691.0 L151.5,691.0 L152.0,691.0 L152.5,691.0 L153.0,691.0 L153.5,691.0 L154.0,691.0 L154.5,691.0 L155.0,691.0 L155.5,691.0 L156.0,691.0 L156.5,691.0 L157.0,691.0 L157.5,691.0 L158.0,691.0 L158.5,691.0 L159.0,691.0 L159.5,690.9 L160.0,690.5 L160.5,690.0 L161.0,689.3 L161.5,688.6 L162.0,688.0 L162.5,687.2 L163.0,686.2 L163.5,685.2 L164.0,684.4 L164.5,684.0 L165.0,684.2 L165.5,684.8 L166.0,685.5 L166.5,686.1 L167.0,686.4 L167.5,686.4 L168.0,686.3 L168.5,686.2 L169.0,686.1 L169.5,686.0 L170.0,686.0 L170.5,686.2 L171.0,686.6 L171.5,687.3 L172.0,688.0 L172.5,688.6 L173.0,689.0 L173.5,689.3 L174.0,689.6 L174.5,689.8 L175.0,690.1 L175.5,690.3 L176.0,690.5 L176.5,690.6 L177.0,690.6 L177.5,690.5 L178.0,690.4 L178.5,690.1 L179.0,689.8 L179.5,689.4 L180.0,689.0 L180.5,688.4 L181.0,687.6 L181.5,686.6 L182.0,685.5 L182.5,684.3 L183.0,682.7 L183.5,680.6 L184.0,678.3 L184.5,676.3 L185.0,675.0 L185.5,674.3 L186.0,673.6 L186.5,673.2 L187.0,673.0 L187.5,673.6 L188.0,675.1 L188.5,677.1 L189.0,679.0 L189.5,681.2 L190.0,683.9 L190.5,686.1 L191.0,687.0 L191.5,686.8 L192.0,686.4 L192.5,685.7 L193.0,685.0 L193.5,683.9 L194.0,682.3 L194.5,680.8 L195.0,680.0 L195.5,679.7 L196.0,679.5 L196.5,679.4 L197.0,679.3 L197.5,679.1 L198.0,679.0 L198.5,678.8 L199.0,678.6 L199.5,678.4 L200.0,678.2 L200.5,678.1 L201.0,678.0 L201.5,678.5 L202.0,679.5 L202.5,680.9 L203.0,682.0 L203.5,683.0 L204.0,684.1 L204.5,685.1 L205.0,685.8 L205.5,686.0 L206.0,685.5 L206.5,684.5 L207.0,683.1 L207.5,681.5 L208.0,680.0 L208.5,678.3 L209.0,676.3 L209.5,674.2 L210.0,672.1 L210.5,670.3 L211.0,668.8 L211.5,667.2 L212.0,665.8 L212.5,664.6 L213.0,664.0 L213.5,663.7 L214.0,663.5 L214.5,663.4 L215.0,664.3 L215.5,666.2 L216.0,668.3 L216.5,670.4 L217.0,672.7 L217.5,675.3 L218.0,677.8 L218.5,679.7 L219.0,681.0 L219.5,682.2 L220.0,683.1 L220.5,683.6 L221.0,683.2 L221.5,682.0 L222.0,680.2 L222.5,678.3 L223.0,676.4 L223.5,674.1 L224.0,671.8 L224.5,670.2 L225.0,669.3 L225.5,668.6 L226.0,668.1 L226.5,668.0 L227.0,668.9 L227.5,670.5 L228.0,672.5 L228.5,674.4 L229.0,676.5 L229.5,678.8 L230.0,681.0 L230.5,682.7 L231.0,684.0 L231.5,685.1 L232.0,686.0 L232.5,686.4 L233.0,686.0 L233.5,684.7 L234.0,682.7 L234.5,680.4 L235.0,677.8 L235.5,674.2 L236.0,670.3 L236.5,666.6 L237.0,663.4 L237.5,659.9 L238.0,657.0 L238.5,655.2 L239.0,654.6 L239.5,654.2 L240.0,654.0 L240.5,654.9 L241.0,657.1 L241.5,659.5 L242.0,662.1 L242.5,665.3 L243.0,668.3 L243.5,670.3 L244.0,671.9 L244.5,673.1 L245.0,673.6 L245.5,673.5 L246.0,673.1 L246.5,672.4 L247.0,671.7 L247.5,670.8 L248.0,669.1 L248.5,666.7 L249.0,664.0 L249.5,661.5 L250.0,658.9 L250.5,656.2 L251.0,654.0 L251.5,652.9 L252.0,652.3 L252.5,652.0 L253.0,652.7 L253.5,654.9 L254.0,657.8 L254.5,660.5 L255.0,663.4 L255.5,666.6 L256.0,669.4 L256.5,671.3 L257.0,672.8 L257.5,673.9 L258.0,674.4 L258.5,674.2 L259.0,673.6 L259.5,672.9 L260.0,672.3 L260.5,672.0 L261.0,672.2 L261.5,672.9 L262.0,673.6 L262.5,674.0 L263.0,673.7 L263.5,672.7 L264.0,671.3 L264.5,669.6 L265.0,668.0 L265.5,666.3 L266.0,664.3 L266.5,662.4 L267.0,661.0 L267.5,660.0 L268.0,659.2 L268.5,659.0 L269.0,660.0 L269.5,661.9 L270.0,664.0 L270.5,666.1 L271.0,668.4 L271.5,671.1 L272.0,674.0"/>
<path class="c" stroke="#1212ff" d="M38.0,681.0 L38.5,677.9 L39.0,675.2 L39.5,673.3 L40.0,672.0 L40.5,670.9 L41.0,670.2 L41.5,670.0 L42.0,670.4 L42.5,671.0 L43.0,671.6 L43.5,672.0 L44.0,671.9 L44.5,671.8 L45.0,671.5 L45.5,671.2 L46.0,671.1 L46.5,671.0 L47.0,671.3 L47.5,671.8 L48.0,672.5 L48.5,673.1 L49.0,674.0 L49.5,675.0 L50.0,676.0 L50.5,676.7 L51.0,677.0 L51.5,676.7 L52.0,675.8 L52.5,674.6 L53.0,673.3 L53.5,672.2 L54.0,671.3 L54.5,670.4 L55.0,669.6 L55.5,668.7 L56.0,667.8 L56.5,666.8 L57.0,665.7 L57.5,664.5 L58.0,663.2 L58.5,661.7 L59.0,659.9 L59.5,657.9 L60.0,655.8 L60.5,653.8 L61.0,652.0 L61.5,650.5 L62.0,649.1 L62.5,647.8 L63.0,646.6 L63.5,645.3 L64.0,644.0 L64.5,642.6 L65.0,641.3 L65.5,639.9 L66.0,638.5 L66.5,637.2 L67.0,636.0 L67.5,634.7 L68.0,633.3 L68.5,631.9 L69.0,630.9 L69.5,630.4 L70.0,630.7 L70.5,631.8 L71.0,633.2 L71.5,634.8 L72.0,636.0 L72.5,636.9 L73.0,637.8 L73.5,638.6 L74.0,639.3 L74.5,640.1 L75.0,641.0 L75.5,642.0 L76.0,643.0 L76.5,644.0 L77.0,645.0 L77.5,645.9 L78.0,646.6 L78.5,647.3 L79.0,647.6 L79.5,646.4 L80.0,643.7 L80.5,640.5 L81.0,638.0 L81.5,636.1 L82.0,634.3 L82.5,632.9 L83.0,632.4 L83.5,632.8 L84.0,633.8 L84.5,634.9 L85.0,636.0 L85.5,637.0 L86.0,638.0 L86.5,639.0 L87.0,639.8 L87.5,640.3 L88.0,640.6 L88.5,640.8 L89.0,640.9 L89.5,641.0 L90.0,640.7 L90.5,639.5 L91.0,637.8 L91.5,635.9 L92.0,634.0 L92.5,632.0 L93.0,629.8 L93.5,627.4 L94.0,625.3 L94.5,623.7 L95.0,622.2 L95.5,620.8 L96.0,619.9 L96.5,619.6 L97.0,620.4 L97.5,622.0 L98.0,624.0 L98.5,626.9 L99.0,631.1 L99.5,635.7 L100.0,640.0 L100.5,644.0 L101.0,648.2 L101.5,652.1 L102.0,655.7 L102.5,658.5 L103.0,660.8 L103.5,662.9 L104.0,664.8 L104.5,666.4 L105.0,668.0 L105.5,669.5 L106.0,670.8 L106.5,672.0 L107.0,673.0 L107.5,673.7 L108.0,674.2 L108.5,674.7 L109.0,675.2 L109.5,675.9 L110.0,676.7 L110.5,677.8 L111.0,679.0 L111.5,680.1 L112.0,681.0 L112.5,681.7 L113.0,682.5 L113.5,683.1 L114.0,683.5 L114.5,683.6 L115.0,683.2 L115.5,682.3 L116.0,681.0 L116.5,679.6 L117.0,678.0 L117.5,675.8 L118.0,672.8 L118.5,669.4 L119.0,666.2 L119.5,663.5 L120.0,661.1 L120.5,658.8 L121.0,656.9 L121.5,655.8 L122.0,655.1 L122.5,654.6 L123.0,654.4 L123.5,654.9 L124.0,656.2 L124.5,658.0 L125.0,660.0 L125.5,662.8 L126.0,666.5 L126.5,670.5 L127.0,674.0 L127.5,677.0 L128.0,680.0 L128.5,682.5 L129.0,684.0 L129.5,684.8 L130.0,685.4 L130.5,685.8 L131.0,686.0 L131.5,685.7 L132.0,685.0 L132.5,684.3 L133.0,684.0 L133.5,684.2 L134.0,684.8 L134.5,685.4 L135.0,686.0 L135.5,686.6 L136.0,687.2 L136.5,687.7 L137.0,687.8 L137.5,687.7 L138.0,687.4 L138.5,687.0 L139.0,686.6 L139.5,686.2 L140.0,685.8 L140.5,685.3 L141.0,685.0 L141.5,684.7 L142.0,684.3 L142.5,683.9 L143.0,683.6 L143.5,683.3 L144.0,683.1 L144.5,683.0 L145.0,683.2 L145.5,683.9 L146.0,685.0 L146.5,686.1 L147.0,687.0 L147.5,687.9 L148.0,688.9 L148.5,689.8 L149.0,690.4 L149.5,690.6 L150.0,690.7 L150.5,690.7 L151.0,690.7 L151.5,690.8 L152.0,690.8 L152.5,690.8 L153.0,690.9 L153.5,690.9 L154.0,690.9 L154.5,690.9 L155.0,690.9 L155.5,691.0 L156.0,691.0 L156.5,691.0 L157.0,691.0 L157.5,691.0 L158.0,691.0 L158.5,691.0 L159.0,691.0 L159.5,691.0 L160.0,690.9 L160.5,690.7 L161.0,690.5 L161.5,690.2 L162.0,690.0 L162.5,689.6 L163.0,689.0 L163.5,688.3 L164.0,687.7 L164.5,687.2 L165.0,687.0 L165.5,687.3 L166.0,688.0 L166.5,688.7 L167.0,689.0 L167.5,688.9 L168.0,688.7 L168.5,688.3 L169.0,688.0 L169.5,687.5 L170.0,686.9 L170.5,686.2 L171.0,685.7 L171.5,685.6 L172.0,686.0 L172.5,686.7 L173.0,687.6 L173.5,688.4 L174.0,689.0 L174.5,689.4 L175.0,689.8 L175.5,690.2 L176.0,690.5 L176.5,690.6 L177.0,690.4 L177.5,689.8 L178.0,688.9 L178.5,687.9 L179.0,687.0 L179.5,686.1 L180.0,685.0 L180.5,683.9 L181.0,683.2 L181.5,683.0 L182.0,683.2 L182.5,683.6 L183.0,684.1 L183.5,684.6 L184.0,685.0 L184.5,685.3 L185.0,685.5 L185.5,685.8 L186.0,685.9 L186.5,686.0 L187.0,685.9 L187.5,685.4 L188.0,684.8 L188.5,684.2 L189.0,684.0 L189.5,684.2 L190.0,684.8 L190.5,685.4 L191.0,685.6 L191.5,685.2 L192.0,684.0 L192.5,682.5 L193.0,681.0 L193.5,679.1 L194.0,676.8 L194.5,674.3 L195.0,672.2 L195.5,670.8 L196.0,669.8 L196.5,668.9 L197.0,668.2 L197.5,667.5 L198.0,667.0 L198.5,666.6 L199.0,666.2 L199.5,665.9 L200.0,665.5 L200.5,665.1 L201.0,664.5 L201.5,663.8 L202.0,662.9 L202.5,662.0 L203.0,661.0 L203.5,659.8 L204.0,658.4 L204.5,656.9 L205.0,655.4 L205.5,654.1 L206.0,653.0 L206.5,652.2 L207.0,651.4 L207.5,650.8 L208.0,650.2 L208.5,649.6 L209.0,649.0 L209.5,648.3 L210.0,647.6 L210.5,646.8 L211.0,646.2 L211.5,645.8 L212.0,645.6 L212.5,646.0 L213.0,647.0 L213.5,648.3 L214.0,649.7 L214.5,650.8 L215.0,651.7 L215.5,652.5 L216.0,653.2 L216.5,653.8 L217.0,654.0 L217.5,653.0 L218.0,650.5 L218.5,647.3 L219.0,644.0 L219.5,640.2 L220.0,635.7 L220.5,631.3 L221.0,628.0 L221.5,625.5 L222.0,623.3 L222.5,621.6 L223.0,621.0 L223.5,621.4 L224.0,622.3 L224.5,623.6 L225.0,625.0 L225.5,626.7 L226.0,628.9 L226.5,631.4 L227.0,634.0 L227.5,636.5 L228.0,639.3 L228.5,642.4 L229.0,645.4 L229.5,648.1 L230.0,650.0 L230.5,651.5 L231.0,652.6 L231.5,652.9 L232.0,651.3 L232.5,648.2 L233.0,644.6 L233.5,641.4 L234.0,638.1 L234.5,634.6 L235.0,631.6 L235.5,629.7 L236.0,628.4 L236.5,627.3 L237.0,626.4 L237.5,625.8 L238.0,625.6 L238.5,626.1 L239.0,627.2 L239.5,628.6 L240.0,630.0 L240.5,631.4 L241.0,632.9 L241.5,634.5 L242.0,635.9 L242.5,636.9 L243.0,637.5 L243.5,638.0 L244.0,638.4 L244.5,638.6 L245.0,638.2 L245.5,636.9 L246.0,635.4 L246.5,634.2 L247.0,633.4 L247.5,632.9 L248.0,632.6 L248.5,633.0 L249.0,634.1 L249.5,635.2 L250.0,636.0 L250.5,636.5 L251.0,636.9 L251.5,637.0 L252.0,636.3 L252.5,634.9 L253.0,633.2 L253.5,631.4 L254.0,630.0 L254.5,628.7 L255.0,627.5 L255.5,626.3 L256.0,625.4 L256.5,624.9 L257.0,624.7 L257.5,624.6 L258.0,625.0 L258.5,626.4 L259.0,628.4 L259.5,630.4 L260.0,633.1 L260.5,636.2 L261.0,639.2 L261.5,641.3 L262.0,643.1 L262.5,644.6 L263.0,645.7 L263.5,646.0 L264.0,645.5 L264.5,644.6 L265.0,643.6 L265.5,642.9 L266.0,642.2 L266.5,641.6 L267.0,641.1 L267.5,641.0 L268.0,642.0 L268.5,643.9 L269.0,646.0 L269.5,648.8 L270.0,652.2 L270.5,655.5 L271.0,657.9 L271.5,660.1 L272.0,662.0"/>
<path class="c" stroke="#141414" d="M38.0,660.6 L38.5,654.2 L39.0,648.9 L39.5,645.4 L40.0,642.8 L40.5,640.8 L41.0,640.0 L41.5,640.6 L42.0,642.1 L42.5,644.1 L43.0,646.0 L43.5,648.2 L44.0,650.8 L44.5,653.2 L45.0,655.0 L45.5,656.2 L46.0,657.3 L46.5,658.1 L47.0,658.4 L47.5,657.7 L48.0,655.7 L48.5,653.0 L49.0,650.0 L49.5,645.8 L50.0,640.1 L50.5,633.8 L51.0,628.0 L51.5,622.3 L52.0,616.6 L52.5,612.5 L53.0,610.3 L53.5,608.7 L54.0,608.0 L54.5,608.5 L55.0,609.7 L55.5,611.1 L56.0,612.0 L56.5,612.5 L57.0,612.9 L57.5,613.0 L58.0,612.0 L58.5,610.1 L59.0,607.8 L59.5,605.6 L60.0,603.1 L60.5,600.3 L61.0,597.4 L61.5,594.6 L62.0,592.0 L62.5,589.8 L63.0,587.7 L63.5,585.7 L64.0,583.7 L64.5,581.6 L65.0,579.5 L65.5,577.5 L66.0,575.4 L66.5,573.0 L67.0,570.0 L67.5,565.8 L68.0,560.3 L68.5,554.1 L69.0,548.0 L69.5,541.3 L70.0,534.2 L70.5,528.7 L71.0,525.5 L71.5,523.0 L72.0,522.0 L72.5,523.3 L73.0,526.6 L73.5,531.0 L74.0,538.6 L74.5,549.0 L75.0,560.0 L75.5,571.9 L76.0,584.8 L76.5,596.1 L77.0,605.2 L77.5,613.2 L78.0,618.0 L78.5,620.1 L79.0,621.0 L79.5,619.4 L80.0,615.6 L80.5,611.0 L81.0,603.5 L81.5,594.2 L82.0,586.0 L82.5,579.3 L83.0,572.9 L83.5,567.6 L84.0,564.0 L84.5,561.6 L85.0,559.6 L85.5,558.1 L86.0,557.6 L86.5,558.5 L87.0,560.6 L87.5,563.3 L88.0,566.0 L88.5,568.9 L89.0,572.3 L89.5,575.3 L90.0,577.0 L90.5,577.7 L91.0,578.2 L91.5,578.4 L92.0,577.9 L92.5,576.4 L93.0,574.5 L93.5,573.2 L94.0,572.5 L94.5,572.0 L95.0,571.6 L95.5,571.4 L96.0,571.9 L96.5,573.6 L97.0,576.0 L97.5,581.3 L98.0,589.5 L98.5,597.5 L99.0,605.5 L99.5,613.5 L100.0,620.0 L100.5,624.8 L101.0,628.9 L101.5,632.6 L102.0,636.0 L102.5,639.3 L103.0,642.3 L103.5,645.2 L104.0,647.9 L104.5,650.5 L105.0,653.0 L105.5,655.5 L106.0,657.8 L106.5,659.9 L107.0,662.0 L107.5,664.0 L108.0,666.1 L108.5,668.0 L109.0,669.7 L109.5,670.8 L110.0,671.6 L110.5,672.3 L111.0,672.8 L111.5,673.0 L112.0,672.7 L112.5,671.7 L113.0,670.2 L113.5,668.4 L114.0,666.0 L114.5,662.4 L115.0,657.9 L115.5,653.0 L116.0,648.0 L116.5,642.4 L117.0,635.8 L117.5,629.2 L118.0,623.5 L118.5,619.3 L119.0,616.0 L119.5,613.2 L120.0,611.0 L120.5,609.8 L121.0,609.1 L121.5,608.6 L122.0,608.4 L122.5,609.4 L123.0,612.0 L123.5,615.3 L124.0,619.4 L124.5,625.2 L125.0,631.9 L125.5,638.7 L126.0,645.6 L126.5,653.3 L127.0,660.8 L127.5,667.0 L128.0,671.8 L128.5,676.5 L129.0,680.2 L129.5,681.9 L130.0,682.0 L130.5,682.0 L131.0,682.0 L131.5,682.0 L132.0,681.6 L132.5,680.6 L133.0,680.0 L133.5,680.3 L134.0,681.2 L134.5,682.2 L135.0,683.0 L135.5,683.7 L136.0,684.4 L136.5,684.9 L137.0,684.9 L137.5,684.3 L138.0,683.3 L138.5,682.0 L139.0,680.7 L139.5,679.6 L140.0,679.0 L140.5,678.7 L141.0,678.5 L141.5,678.3 L142.0,678.1 L142.5,678.0 L143.0,678.0 L143.5,678.1 L144.0,678.4 L144.5,678.9 L145.0,679.5 L145.5,680.2 L146.0,681.6 L146.5,683.7 L147.0,685.8 L147.5,687.2 L148.0,688.5 L148.5,689.6 L149.0,690.4 L149.5,690.6 L150.0,690.7 L150.5,690.7 L151.0,690.7 L151.5,690.8 L152.0,690.8 L152.5,690.8 L153.0,690.9 L153.5,690.9 L154.0,690.9 L154.5,690.9 L155.0,690.9 L155.5,691.0 L156.0,691.0 L156.5,691.0 L157.0,691.0 L157.5,691.0 L158.0,691.0 L158.5,691.0 L159.0,691.0 L159.5,690.8 L160.0,690.3 L160.5,689.6 L161.0,688.7 L161.5,687.8 L162.0,686.4 L162.5,684.6 L163.0,683.0 L163.5,681.8 L164.0,681.0 L164.5,680.3 L165.0,680.0 L165.5,680.5 L166.0,681.5 L166.5,682.5 L167.0,683.0 L167.5,683.0 L168.0,683.0 L168.5,683.0 L169.0,683.0 L169.5,682.5 L170.0,681.5 L170.5,680.5 L171.0,680.0 L171.5,680.3 L172.0,681.1 L172.5,682.1 L173.0,683.2 L173.5,684.2 L174.0,685.2 L174.5,686.4 L175.0,687.5 L175.5,688.4 L176.0,689.0 L176.5,689.4 L177.0,689.7 L177.5,689.9 L178.0,690.0 L178.5,689.1 L179.0,686.9 L179.5,684.3 L180.0,682.0 L180.5,680.2 L181.0,678.4 L181.5,676.7 L182.0,675.0 L182.5,673.4 L183.0,672.0 L183.5,670.6 L184.0,669.2 L184.5,667.9 L185.0,666.7 L185.5,665.7 L186.0,665.0 L186.5,664.4 L187.0,663.9 L187.5,663.5 L188.0,663.4 L188.5,664.1 L189.0,665.7 L189.5,667.3 L190.0,668.0 L190.5,667.5 L191.0,666.1 L191.5,664.2 L192.0,662.0 L192.5,658.9 L193.0,654.5 L193.5,649.9 L194.0,646.0 L194.5,642.8 L195.0,639.7 L195.5,637.0 L196.0,635.0 L196.5,633.5 L197.0,632.2 L197.5,631.1 L198.0,630.1 L198.5,629.2 L199.0,628.3 L199.5,627.4 L200.0,627.0 L200.5,627.8 L201.0,629.6 L201.5,631.9 L202.0,634.0 L202.5,636.0 L203.0,638.1 L203.5,639.9 L204.0,641.0 L204.5,641.5 L205.0,641.8 L205.5,642.0 L206.0,641.6 L206.5,640.0 L207.0,637.6 L207.5,634.8 L208.0,632.0 L208.5,628.8 L209.0,624.9 L209.5,620.6 L210.0,616.4 L210.5,612.7 L211.0,609.3 L211.5,606.0 L212.0,603.1 L212.5,601.2 L213.0,600.3 L213.5,599.6 L214.0,599.1 L214.5,599.0 L215.0,600.4 L215.5,603.1 L216.0,606.0 L216.5,610.0 L217.0,614.8 L217.5,617.8 L218.0,618.2 L218.5,618.4 L219.0,616.6 L219.5,610.8 L220.0,604.0 L220.5,596.1 L221.0,586.9 L221.5,579.1 L222.0,573.9 L222.5,569.5 L223.0,567.0 L223.5,566.0 L224.0,565.6 L224.5,566.4 L225.0,568.4 L225.5,571.1 L226.0,574.0 L226.5,577.5 L227.0,582.1 L227.5,587.1 L228.0,592.0 L228.5,597.3 L229.0,603.0 L229.5,608.2 L230.0,612.0 L230.5,614.8 L231.0,616.9 L231.5,617.5 L232.0,615.2 L232.5,610.8 L233.0,606.0 L233.5,600.5 L234.0,593.9 L234.5,587.3 L235.0,582.0 L235.5,578.0 L236.0,574.4 L236.5,571.4 L237.0,569.0 L237.5,567.0 L238.0,565.1 L238.5,563.7 L239.0,563.0 L239.5,562.7 L240.0,562.6 L240.5,563.9 L241.0,567.2 L241.5,571.2 L242.0,576.1 L242.5,582.8 L243.0,589.7 L243.5,594.9 L244.0,599.5 L244.5,603.4 L245.0,605.0 L245.5,604.8 L246.0,604.4 L246.5,603.8 L247.0,603.0 L247.5,601.9 L248.0,600.3 L248.5,598.3 L249.0,596.0 L249.5,592.9 L250.0,588.9 L250.5,584.9 L251.0,582.0 L251.5,579.9 L252.0,578.0 L252.5,576.5 L253.0,576.0 L253.5,577.2 L254.0,580.0 L254.5,583.4 L255.0,587.0 L255.5,591.6 L256.0,596.2 L256.5,599.6 L257.0,601.3 L257.5,602.5 L258.0,603.5 L258.5,604.6 L259.0,606.0 L259.5,608.1 L260.0,610.7 L260.5,613.4 L261.0,616.0 L261.5,618.7 L262.0,621.7 L262.5,624.0 L263.0,625.0 L263.5,624.2 L264.0,622.1 L264.5,619.2 L265.0,616.0 L265.5,611.6 L266.0,605.8 L266.5,600.1 L267.0,596.0 L267.5,593.3 L268.0,591.2 L268.5,590.7 L269.0,593.0 L269.5,597.1 L270.0,603.3 L270.5,612.4 L271.0,620.0 L271.5,624.7 L272.0,628.0"/>
<rect class="f" x="35.3" y="504.3" width="239.2" height="188.9"/>
<text class="t" text-anchor="end" x="30" y="694.9">0</text>
<text class="t" text-anchor="end" x="30" y="671.8">2</text>
<text class="t" text-anchor="end" x="30" y="648.7">4</text>
<text class="t" text-anchor="end" x="30" y="625.6">6</text>
<text class="t" text-anchor="end" x="30" y="602.5">8</text>
<text class="t" text-anchor="end" x="30" y="579.4">10</text>
<text class="t" text-anchor="end" x="30" y="556.3">12</text>
<text class="t" text-anchor="end" x="30" y="533.2">14</text>
<text class="t" text-anchor="end" x="30" y="510.1">16</text>
<text class="t" text-anchor="middle" x="39.9" y="706.5">-15</text>
<text class="t" text-anchor="middle" x="93.4" y="708.5">-10</text>
<text class="t" text-anchor="middle" x="146.9" y="708.5">-5</text>
<text class="t" text-anchor="middle" x="201.9" y="708.5">0</text>
<text class="t" text-anchor="middle" x="255.4" y="708.5">5</text>
<path class="k" d="M31.5,690.4H35.3M33.1,684.6H35.3M33.1,678.9H35.3M33.1,673.1H35.3M31.5,667.3H35.3M33.1,661.5H35.3M33.1,655.8H35.3M33.1,650.0H35.3M31.5,644.2H35.3M33.1,638.4H35.3M33.1,632.6H35.3M33.1,626.9H35.3M31.5,621.1H35.3M33.1,615.3H35.3M33.1,609.5H35.3M33.1,603.8H35.3M31.5,598.0H35.3M33.1,592.2H35.3M33.1,586.4H35.3M33.1,580.7H35.3M31.5,574.9H35.3M33.1,569.1H35.3M33.1,563.3H35.3M33.1,557.6H35.3M31.5,551.8H35.3M33.1,546.0H35.3M33.1,540.2H35.3M33.1,534.5H35.3M31.5,528.7H35.3M33.1,522.9H35.3M33.1,517.1H35.3M33.1,511.4H35.3M31.5,505.6H35.3M41.4,693.2V697.0M52.1,693.2V695.4M62.8,693.2V695.4M73.5,693.2V695.4M84.2,693.2V695.4M94.9,693.2V697.0M105.6,693.2V695.4M116.3,693.2V695.4M127.0,693.2V695.4M137.7,693.2V695.4M148.4,693.2V697.0M159.1,693.2V695.4M169.8,693.2V695.4M180.5,693.2V695.4M191.2,693.2V695.4M201.9,693.2V697.0M212.6,693.2V695.4M223.3,693.2V695.4M234.0,693.2V695.4M244.7,693.2V695.4M255.4,693.2V697.0M266.1,693.2V695.4"/>
<text class="t" text-anchor="middle" x="151.5" y="717.5">Energy (<tspan font-style="italic">eV</tspan>)</text>
<text class="h" text-anchor="middle" x="163.5" y="744.5">AO3</text>
<text class="t" style="font-size:12.3px" text-anchor="middle" transform="translate(14.5,594) rotate(-90)">Relative Intensity</text>
<path stroke="#ff1a1a" stroke-width="1.5" d="M276.4,507.4H279.6"/>
<text class="t" x="282.4" y="511.6">Donor</text>
<path stroke="#0f860f" stroke-width="1.5" d="M276.4,522H279.6"/>
<text class="t" x="281.4" y="527.4">Acceptor</text>
<path stroke="#1212ff" stroke-width="1.5" d="M276.4,536.4H279.6"/>
<text class="t" x="281.6" y="540.4"><tspan font-style="italic">π</tspan>-spacer</text>
<path stroke="#141414" stroke-width="1.5" d="M276.4,551.4H279.6"/>
<text class="t" x="282.4" y="553.4">Total</text>
</g>
<g id="AO4">
<path class="c" stroke="#ff1a1a" d="M379.6,673.0 L380.1,670.5 L380.6,668.7 L381.1,667.9 L381.6,667.7 L382.1,667.6 L382.6,669.0 L383.1,671.5 L383.6,674.0 L384.1,676.6 L384.6,679.4 L385.1,682.1 L385.6,684.0 L386.1,685.3 L386.6,686.6 L387.1,687.6 L387.6,688.2 L388.1,688.4 L388.6,688.1 L389.1,687.6 L389.6,686.8 L390.1,685.9 L390.6,685.0 L391.1,683.8 L391.6,682.3 L392.1,680.6 L392.6,678.8 L393.1,677.0 L393.6,675.3 L394.1,673.6 L394.6,671.7 L395.1,670.0 L395.6,668.7 L396.1,667.9 L396.6,667.3 L397.1,666.8 L397.6,666.4 L398.1,666.1 L398.6,666.0 L399.1,666.2 L399.6,666.6 L400.1,667.1 L400.6,668.0 L401.1,669.2 L401.6,670.4 L402.1,671.1 L402.6,671.6 L403.1,671.9 L403.6,671.9 L404.1,670.7 L404.6,668.9 L405.1,667.0 L405.6,665.4 L406.1,663.8 L406.6,662.2 L407.1,661.2 L407.6,661.0 L408.1,661.0 L408.6,661.0 L409.1,661.0 L409.6,661.0 L410.1,661.0 L410.6,659.7 L411.1,657.1 L411.6,654.1 L412.1,651.5 L412.6,648.7 L413.1,645.7 L413.6,643.2 L414.1,641.8 L414.6,640.9 L415.1,640.3 L415.6,640.0 L416.1,640.9 L416.6,643.2 L417.1,646.1 L417.6,649.4 L418.1,654.2 L418.6,660.0 L419.1,665.4 L419.6,669.5 L420.1,673.4 L420.6,676.8 L421.1,679.3 L421.6,680.3 L422.1,680.9 L422.6,681.3 L423.1,681.6 L423.6,681.5 L424.1,680.8 L424.6,679.5 L425.1,677.8 L425.6,676.0 L426.1,673.7 L426.6,670.8 L427.1,667.5 L427.6,664.2 L428.1,661.5 L428.6,658.7 L429.1,656.0 L429.6,653.9 L430.1,652.9 L430.6,652.4 L431.1,652.1 L431.6,652.0 L432.1,652.2 L432.6,652.6 L433.1,653.2 L433.6,653.7 L434.1,654.0 L434.6,654.3 L435.1,654.4 L435.6,654.6 L436.1,654.7 L436.6,654.9 L437.1,655.0 L437.6,655.2 L438.1,655.4 L438.6,655.6 L439.1,655.8 L439.6,656.1 L440.1,656.5 L440.6,657.2 L441.1,658.2 L441.6,659.5 L442.1,661.0 L442.6,662.8 L443.1,665.8 L443.6,669.3 L444.1,672.5 L444.6,674.8 L445.1,676.8 L445.6,678.5 L446.1,679.6 L446.6,680.1 L447.1,680.4 L447.6,680.5 L448.1,680.6 L448.6,680.8 L449.1,681.1 L449.6,681.7 L450.1,682.6 L450.6,683.6 L451.1,684.6 L451.6,685.5 L452.1,686.1 L452.6,686.6 L453.1,687.0 L453.6,687.4 L454.1,687.7 L454.6,687.9 L455.1,688.0 L455.6,688.0 L456.1,687.9 L456.6,687.9 L457.1,687.8 L457.6,687.7 L458.1,687.6 L458.6,687.1 L459.1,686.3 L459.6,685.2 L460.1,683.9 L460.6,682.3 L461.1,679.9 L461.6,676.8 L462.1,673.4 L462.6,670.0 L463.1,666.4 L463.6,662.5 L464.1,658.8 L464.6,656.0 L465.1,653.8 L465.6,651.9 L466.1,650.6 L466.6,650.4 L467.1,650.4 L467.6,650.4 L468.1,651.3 L468.6,653.4 L469.1,656.2 L469.6,659.3 L470.1,663.7 L470.6,668.8 L471.1,673.6 L471.6,677.4 L472.1,680.8 L472.6,683.9 L473.1,686.2 L473.6,687.4 L474.1,688.3 L474.6,689.0 L475.1,689.6 L475.6,689.9 L476.1,690.0 L476.6,689.8 L477.1,689.4 L477.6,688.9 L478.1,688.3 L478.6,687.7 L479.1,687.3 L479.6,687.0 L480.1,687.0 L480.6,687.0 L481.1,687.0 L481.6,687.0 L482.1,687.0 L482.6,687.0 L483.1,687.0 L483.6,687.0 L484.1,687.0 L484.6,686.9 L485.1,686.6 L485.6,686.2 L486.1,685.7 L486.6,685.3 L487.1,684.9 L487.6,684.7 L488.1,684.6 L488.6,684.8 L489.1,685.1 L489.6,685.6 L490.1,686.1 L490.6,686.6 L491.1,687.1 L491.6,687.6 L492.1,688.1 L492.6,688.7 L493.1,689.3 L493.6,689.8 L494.1,690.2 L494.6,690.5 L495.1,690.6 L495.6,690.7 L496.1,690.8 L496.6,690.8 L497.1,690.9 L497.6,690.9 L498.1,691.0 L498.6,691.1 L499.1,691.1 L499.6,691.1 L500.1,691.2 L500.6,691.2 L501.1,691.3 L501.6,691.3 L502.1,691.3 L502.6,691.3 L503.1,691.3 L503.6,691.4 L504.1,691.4 L504.6,691.4 L505.1,691.4 L505.6,691.4 L506.1,691.4 L506.6,691.4 L507.1,691.4 L507.6,691.4 L508.1,691.4 L508.6,691.4 L509.1,691.4 L509.6,691.4 L510.1,691.4 L510.6,691.4 L511.1,691.4 L511.6,691.4 L512.1,691.4 L512.6,691.4 L513.1,691.4 L513.6,691.4 L514.1,691.4 L514.6,691.4 L515.1,691.4 L515.6,691.4 L516.1,691.4 L516.6,691.4 L517.1,691.4 L517.6,691.4 L518.1,691.4 L518.6,691.4 L519.1,691.4 L519.6,691.4 L520.1,691.4 L520.6,691.4 L521.1,691.4 L521.6,691.4 L522.1,691.4 L522.6,691.4 L523.1,691.3 L523.6,691.3 L524.1,691.3 L524.6,691.3 L525.1,691.2 L525.6,691.2 L526.1,691.2 L526.6,691.1 L527.1,691.1 L527.6,691.0 L528.1,691.0 L528.6,690.9 L529.1,690.8 L529.6,690.7 L530.1,690.6 L530.6,690.4 L531.1,690.3 L531.6,690.1 L532.1,689.9 L532.6,689.7 L533.1,689.6 L533.6,689.4 L534.1,689.2 L534.6,689.0 L535.1,688.8 L535.6,688.6 L536.1,688.3 L536.6,687.9 L537.1,687.5 L537.6,686.9 L538.1,685.9 L538.6,684.8 L539.1,683.4 L539.6,682.0 L540.1,680.1 L540.6,677.7 L541.1,675.2 L541.6,673.0 L542.1,671.0 L542.6,669.0 L543.1,667.2 L543.6,666.0 L544.1,665.1 L544.6,664.4 L545.1,663.8 L545.6,663.6 L546.1,663.9 L546.6,664.5 L547.1,665.2 L547.6,665.8 L548.1,666.0 L548.6,665.4 L549.1,664.3 L549.6,663.3 L550.1,663.0 L550.6,663.2 L551.1,663.5 L551.6,664.0 L552.1,665.7 L552.6,668.9 L553.1,672.3 L553.6,675.0 L554.1,677.4 L554.6,679.7 L555.1,681.4 L555.6,682.3 L556.1,682.8 L556.6,683.3 L557.1,683.6 L557.6,683.6 L558.1,683.3 L558.6,682.9 L559.1,682.3 L559.6,681.6 L560.1,680.8 L560.6,679.9 L561.1,678.6 L561.6,677.2 L562.1,675.6 L562.6,674.1 L563.1,672.7 L563.6,671.3 L564.1,669.8 L564.6,668.4 L565.1,667.1 L565.6,666.0 L566.1,665.0 L566.6,664.0 L567.1,663.3 L567.6,663.0 L568.1,663.9 L568.6,665.4 L569.1,666.0 L569.6,665.8 L570.1,665.3 L570.6,664.6 L571.1,663.8 L571.6,661.9 L572.1,659.0 L572.6,656.0 L573.1,653.6 L573.6,651.3 L574.1,649.2 L574.6,648.0 L575.1,647.5 L575.6,647.1 L576.1,647.0 L576.6,648.1 L577.1,650.1 L577.6,652.0 L578.1,653.8 L578.6,655.8 L579.1,657.7 L579.6,659.0 L580.1,659.9 L580.6,660.8 L581.1,661.4 L581.6,661.6 L582.1,661.3 L582.6,660.4 L583.1,659.2 L583.6,658.0 L584.1,656.6 L584.6,654.7 L585.1,652.8 L585.6,651.1 L586.1,649.8 L586.6,648.6 L587.1,647.5 L587.6,646.8 L588.1,646.6 L588.6,647.9 L589.1,650.0 L589.6,652.0 L590.1,653.8 L590.6,655.6 L591.1,657.1 L591.6,658.0 L592.1,658.3 L592.6,658.5 L593.1,658.7 L593.6,659.0 L594.1,659.7 L594.6,660.9 L595.1,662.4 L595.6,664.0 L596.1,666.0 L596.6,668.6 L597.1,671.2 L597.6,673.6 L598.1,675.3 L598.6,676.6 L599.1,677.9 L599.6,679.0 L600.1,679.7 L600.6,680.0 L601.1,679.7 L601.6,679.1 L602.1,678.1 L602.6,676.9 L603.1,675.7 L603.6,674.0 L604.1,671.8 L604.6,669.9 L605.1,668.9 L605.6,668.4 L606.1,668.1 L606.6,668.1 L607.1,669.2 L607.6,670.9 L608.1,672.9 L608.6,674.7 L609.1,676.7 L609.6,678.8 L610.1,680.9 L610.6,682.8 L611.1,684.3 L611.6,685.6 L612.1,686.9 L612.6,688.0 L613.1,688.7 L613.6,689.0 L614.1,689.0 L614.6,689.0 L615.1,689.0 L615.6,689.0 L616.1,689.0 L616.6,689.0 L617.1,688.6 L617.6,686.6 L618.1,684.7 L618.6,682.9 L619.1,681.2 L619.6,679.5 L620.1,677.9 L620.6,676.4 L621.1,674.8 L621.6,673.3 L622.1,672.3 L622.6,671.9 L623.1,671.7 L623.6,671.6 L624.1,671.6 L624.6,672.2 L625.1,673.5 L625.6,675.3 L626.0,677.0"/>
<path class="c" stroke="#0f860f" d="M379.6,681.0 L380.1,677.3 L380.6,674.1 L381.1,671.4 L381.6,669.2 L382.1,667.3 L382.6,665.8 L383.1,664.9 L383.6,664.2 L384.1,663.7 L384.6,663.7 L385.1,664.3 L385.6,665.3 L386.1,666.2 L386.6,667.1 L387.1,667.8 L387.6,667.9 L388.1,666.9 L388.6,665.3 L389.1,663.7 L389.6,661.4 L390.1,659.2 L390.6,658.1 L391.1,657.6 L391.6,657.4 L392.1,658.3 L392.6,660.3 L393.1,662.4 L393.6,665.1 L394.1,668.0 L394.6,670.0 L395.1,671.0 L395.6,671.8 L396.1,672.0 L396.6,671.7 L397.1,671.0 L397.6,670.1 L398.1,669.1 L398.6,668.0 L399.1,666.7 L399.6,665.2 L400.1,663.4 L400.6,661.5 L401.1,659.6 L401.6,657.5 L402.1,655.3 L402.6,653.3 L403.1,651.7 L403.6,650.4 L404.1,649.1 L404.6,648.2 L405.1,648.0 L405.6,648.0 L406.1,648.0 L406.6,649.3 L407.1,651.8 L407.6,654.4 L408.1,656.3 L408.6,658.0 L409.1,659.6 L409.6,660.7 L410.1,661.0 L410.6,660.2 L411.1,658.8 L411.6,657.1 L412.1,655.8 L412.6,654.4 L413.1,653.0 L413.6,651.8 L414.1,651.4 L414.6,651.1 L415.1,651.0 L415.6,651.1 L416.1,652.1 L416.6,653.7 L417.1,655.3 L417.6,657.6 L418.1,660.4 L418.6,662.8 L419.1,664.2 L419.6,665.1 L420.1,665.7 L420.6,666.0 L421.1,665.2 L421.6,663.3 L422.1,660.8 L422.6,658.0 L423.1,654.6 L423.6,650.2 L424.1,645.7 L424.6,642.0 L425.1,638.9 L425.6,636.0 L426.1,633.6 L426.6,632.0 L427.1,631.0 L427.6,630.2 L428.1,630.0 L428.6,630.7 L429.1,632.0 L429.6,633.3 L430.1,634.1 L430.6,634.6 L431.1,634.9 L431.6,634.9 L432.1,633.8 L432.6,631.9 L433.1,630.0 L433.6,628.4 L434.1,626.7 L434.6,625.1 L435.1,623.8 L435.6,623.2 L436.1,622.9 L436.6,622.7 L437.1,622.6 L437.6,623.8 L438.1,625.9 L438.6,628.0 L439.1,630.0 L439.6,632.1 L440.1,634.3 L440.6,636.4 L441.1,638.4 L441.6,640.0 L442.1,641.6 L442.6,643.2 L443.1,644.9 L443.6,646.8 L444.1,649.1 L444.6,651.7 L445.1,654.4 L445.6,657.1 L446.1,660.2 L446.6,663.3 L447.1,666.3 L447.6,669.1 L448.1,671.7 L448.6,674.3 L449.1,676.7 L449.6,678.7 L450.1,680.3 L450.6,681.6 L451.1,682.7 L451.6,683.7 L452.1,684.5 L452.6,685.0 L453.1,685.3 L453.6,685.6 L454.1,685.8 L454.6,686.0 L455.1,686.0 L455.6,685.7 L456.1,684.9 L456.6,683.9 L457.1,682.7 L457.6,681.4 L458.1,679.3 L458.6,676.6 L459.1,674.0 L459.6,672.0 L460.1,670.5 L460.6,669.1 L461.1,668.2 L461.6,668.1 L462.1,668.9 L462.6,670.1 L463.1,671.2 L463.6,672.4 L464.1,673.6 L464.6,674.6 L465.1,675.0 L465.6,675.2 L466.1,675.3 L466.6,675.4 L467.1,675.5 L467.6,675.7 L468.1,676.3 L468.6,677.3 L469.1,678.3 L469.6,679.5 L470.1,681.0 L470.6,682.8 L471.1,684.6 L471.6,686.2 L472.1,687.2 L472.6,687.9 L473.1,688.6 L473.6,689.2 L474.1,689.6 L474.6,689.9 L475.1,690.0 L475.6,690.0 L476.1,690.0 L476.6,690.0 L477.1,690.0 L477.6,690.0 L478.1,690.0 L478.6,690.0 L479.1,690.0 L479.6,690.0 L480.1,690.0 L480.6,690.0 L481.1,690.0 L481.6,690.0 L482.1,690.0 L482.6,690.0 L483.1,690.0 L483.6,690.0 L484.1,690.0 L484.6,690.0 L485.1,690.0 L485.6,690.0 L486.1,690.0 L486.6,690.0 L487.1,690.0 L487.6,690.0 L488.1,690.0 L488.6,690.0 L489.1,690.0 L489.6,690.1 L490.1,690.1 L490.6,690.2 L491.1,690.3 L491.6,690.3 L492.1,690.4 L492.6,690.5 L493.1,690.5 L493.6,690.6 L494.1,690.6 L494.6,690.6 L495.1,690.7 L495.6,690.7 L496.1,690.7 L496.6,690.7 L497.1,690.8 L497.6,690.8 L498.1,690.8 L498.6,690.8 L499.1,690.8 L499.6,690.9 L500.1,690.9 L500.6,690.9 L501.1,690.9 L501.6,690.9 L502.1,690.9 L502.6,691.0 L503.1,691.0 L503.6,691.0 L504.1,691.0 L504.6,691.0 L505.1,691.0 L505.6,691.0 L506.1,691.0 L506.6,690.9 L507.1,690.8 L507.6,690.5 L508.1,690.2 L508.6,689.9 L509.1,689.5 L509.6,689.0 L510.1,688.1 L510.6,686.7 L511.1,685.1 L511.6,684.0 L512.1,683.2 L512.6,682.4 L513.1,681.8 L513.6,681.6 L514.1,682.1 L514.6,683.3 L515.1,684.6 L515.6,685.7 L516.1,686.0 L516.6,685.9 L517.1,685.7 L517.6,685.5 L518.1,685.2 L518.6,685.0 L519.1,685.0 L519.6,685.1 L520.1,685.4 L520.6,685.8 L521.1,686.3 L521.6,686.7 L522.1,687.1 L522.6,687.5 L523.1,687.9 L523.6,688.3 L524.1,688.7 L524.6,688.9 L525.1,689.0 L525.6,688.7 L526.1,688.0 L526.6,687.1 L527.1,686.0 L527.6,684.8 L528.1,683.8 L528.6,682.5 L529.1,681.0 L529.6,679.6 L530.1,678.5 L530.6,677.8 L531.1,677.2 L531.6,676.7 L532.1,676.3 L532.6,676.1 L533.1,676.0 L533.6,676.1 L534.1,676.3 L534.6,676.7 L535.1,677.1 L535.6,677.6 L536.1,678.1 L536.6,679.0 L537.1,680.1 L537.6,681.4 L538.1,682.5 L538.6,683.3 L539.1,684.1 L539.6,684.8 L540.1,685.5 L540.6,685.9 L541.1,686.0 L541.6,685.5 L542.1,684.6 L542.6,683.4 L543.1,682.1 L543.6,681.0 L544.1,680.0 L544.6,679.0 L545.1,678.0 L545.6,677.1 L546.1,676.4 L546.6,675.8 L547.1,675.2 L547.6,674.7 L548.1,674.3 L548.6,674.1 L549.1,674.0 L549.6,674.3 L550.1,674.8 L550.6,675.5 L551.1,676.3 L551.6,677.0 L552.1,677.8 L552.6,678.8 L553.1,679.7 L553.6,680.0 L554.1,679.2 L554.6,677.2 L555.1,674.6 L555.6,672.0 L556.1,669.3 L556.6,666.2 L557.1,663.0 L557.6,660.0 L558.1,657.5 L558.6,655.3 L559.1,653.2 L559.6,651.3 L560.1,649.8 L560.6,648.5 L561.1,647.4 L561.6,646.5 L562.1,645.8 L562.6,645.5 L563.1,645.3 L563.6,645.1 L564.1,645.0 L564.6,645.1 L565.1,646.3 L565.6,648.3 L566.1,650.7 L566.6,652.9 L567.1,655.6 L567.6,658.6 L568.1,661.6 L568.6,664.0 L569.1,666.1 L569.6,668.1 L570.1,669.9 L570.6,671.3 L571.1,672.1 L571.6,672.7 L572.1,673.2 L572.6,673.5 L573.1,673.6 L573.6,673.2 L574.1,672.4 L574.6,671.4 L575.1,670.2 L575.6,669.0 L576.1,667.7 L576.6,666.1 L577.1,664.3 L577.6,662.5 L578.1,660.9 L578.6,659.5 L579.1,658.2 L579.6,656.9 L580.1,655.8 L580.6,654.7 L581.1,653.8 L581.6,653.1 L582.1,652.4 L582.6,651.8 L583.1,651.2 L583.6,650.6 L584.1,649.8 L584.6,649.0 L585.1,648.1 L585.6,647.2 L586.1,646.4 L586.6,645.8 L587.1,645.2 L587.6,644.7 L588.1,644.6 L588.6,645.6 L589.1,647.6 L589.6,650.1 L590.1,652.5 L590.6,655.5 L591.1,659.0 L591.6,662.1 L592.1,664.4 L592.6,666.1 L593.1,667.7 L593.6,668.7 L594.1,669.0 L594.6,668.3 L595.1,666.9 L595.6,665.0 L596.1,663.1 L596.6,661.3 L597.1,659.0 L597.6,656.5 L598.1,654.4 L598.6,653.0 L599.1,652.2 L599.6,651.6 L600.1,651.2 L600.6,651.0 L601.1,651.5 L601.6,652.6 L602.1,654.0 L602.6,655.0 L603.1,655.7 L603.6,656.4 L604.1,656.9 L604.6,656.9 L605.1,656.2 L605.6,655.1 L606.1,654.2 L606.6,654.1 L607.1,654.9 L607.6,656.4 L608.1,658.1 L608.6,659.7 L609.1,661.8 L609.6,664.1 L610.1,665.7 L610.6,665.9 L611.1,665.2 L611.6,664.0 L612.1,662.7 L612.6,661.5 L613.1,659.9 L613.6,658.3 L614.1,657.2 L614.6,657.1 L615.1,657.7 L615.6,659.0 L616.1,660.7 L616.6,662.7 L617.1,665.7 L617.6,670.0 L618.1,672.8 L618.6,674.6 L619.1,676.2 L619.6,677.5 L620.1,678.3 L620.6,678.3 L621.1,677.7 L621.6,676.6 L622.1,675.5 L622.6,674.7 L623.1,673.9 L623.6,673.2 L624.1,672.7 L624.6,672.6 L625.1,673.1 L625.6,674.0 L626.0,675.0"/>
<path class="c" stroke="#1212ff" d="M379.6,680.0 L380.1,677.3 L380.6,674.9 L381.1,672.9 L381.6,671.4 L382.1,670.1 L382.6,668.9 L383.1,668.1 L383.6,668.0 L384.1,668.3 L384.6,668.7 L385.1,669.2 L385.6,669.5 L386.1,669.6 L386.6,669.4 L387.1,669.1 L387.6,668.8 L388.1,668.5 L388.6,668.4 L389.1,668.7 L389.6,669.4 L390.1,670.4 L390.6,671.4 L391.1,672.1 L391.6,672.9 L392.1,673.8 L392.6,674.5 L393.1,674.9 L393.6,675.0 L394.1,674.7 L394.6,674.1 L395.1,673.4 L395.6,672.6 L396.1,671.8 L396.6,670.9 L397.1,669.9 L397.6,668.7 L398.1,667.4 L398.6,666.1 L399.1,664.7 L399.6,663.3 L400.1,661.9 L400.6,660.3 L401.1,658.8 L401.6,657.2 L402.1,655.7 L402.6,654.2 L403.1,652.6 L403.6,651.1 L404.1,649.5 L404.6,648.1 L405.1,646.7 L405.6,645.5 L406.1,644.5 L406.6,643.4 L407.1,642.3 L407.6,641.1 L408.1,639.7 L408.6,637.9 L409.1,635.8 L409.6,633.7 L410.1,631.7 L410.6,630.0 L411.1,628.5 L411.6,627.0 L412.1,625.7 L412.6,624.8 L413.1,624.6 L413.6,624.9 L414.1,625.6 L414.6,626.5 L415.1,627.4 L415.6,628.4 L416.1,629.6 L416.6,630.9 L417.1,632.4 L417.6,633.9 L418.1,635.3 L418.6,636.7 L419.1,638.2 L419.6,639.7 L420.1,641.0 L420.6,642.0 L421.1,642.8 L421.6,643.6 L422.1,644.2 L422.6,644.4 L423.1,643.6 L423.6,641.7 L424.1,639.2 L424.6,637.0 L425.1,634.8 L425.6,632.5 L426.1,630.4 L426.6,629.0 L427.1,628.2 L427.6,627.5 L428.1,627.1 L428.6,627.1 L429.1,627.9 L429.6,629.2 L430.1,630.7 L430.6,632.0 L431.1,633.2 L431.6,634.4 L432.1,635.5 L432.6,636.0 L433.1,636.2 L433.6,636.3 L434.1,636.4 L434.6,636.3 L435.1,635.2 L435.6,633.4 L436.1,631.3 L436.6,629.1 L437.1,626.3 L437.6,623.2 L438.1,620.2 L438.6,618.0 L439.1,616.3 L439.6,614.8 L440.1,613.7 L440.6,613.0 L441.1,612.7 L441.6,612.7 L442.1,614.0 L442.6,616.1 L443.1,618.5 L443.6,621.4 L444.1,625.1 L444.6,629.0 L445.1,632.7 L445.6,636.7 L446.1,640.8 L446.6,644.8 L447.1,648.7 L447.6,652.0 L448.1,655.0 L448.6,657.9 L449.1,660.5 L449.6,662.9 L450.1,665.0 L450.6,666.6 L451.1,668.0 L451.6,669.1 L452.1,670.2 L452.6,671.2 L453.1,672.2 L453.6,673.3 L454.1,674.4 L454.6,675.4 L455.1,676.4 L455.6,677.3 L456.1,678.2 L456.6,679.0 L457.1,679.8 L457.6,680.6 L458.1,681.3 L458.6,681.8 L459.1,682.0 L459.6,682.2 L460.1,682.3 L460.6,682.4 L461.1,682.4 L461.6,681.9 L462.1,680.9 L462.6,679.5 L463.1,677.8 L463.6,676.0 L464.1,673.5 L464.6,670.0 L465.1,666.2 L465.6,662.5 L466.1,659.5 L466.6,656.7 L467.1,654.1 L467.6,652.0 L468.1,650.8 L468.6,650.0 L469.1,649.5 L469.6,649.5 L470.1,650.6 L470.6,652.4 L471.1,654.4 L471.6,657.4 L472.1,661.1 L472.6,665.1 L473.1,668.7 L473.6,672.3 L474.1,676.0 L474.6,679.2 L475.1,681.4 L475.6,683.1 L476.1,684.7 L476.6,685.7 L477.1,686.0 L477.6,685.7 L478.1,685.1 L478.6,684.5 L479.1,683.9 L479.6,683.2 L480.1,683.2 L480.6,684.0 L481.1,685.1 L481.6,686.1 L482.1,686.9 L482.6,687.0 L483.1,686.7 L483.6,686.3 L484.1,685.7 L484.6,685.3 L485.1,685.0 L485.6,684.8 L486.1,684.6 L486.6,684.4 L487.1,684.3 L487.6,684.2 L488.1,684.0 L488.6,683.7 L489.1,683.3 L489.6,683.0 L490.1,682.7 L490.6,682.5 L491.1,682.4 L491.6,682.8 L492.1,683.5 L492.6,684.4 L493.1,685.1 L493.6,685.9 L494.1,686.8 L494.6,687.7 L495.1,688.4 L495.6,689.0 L496.1,689.4 L496.6,689.8 L497.1,690.2 L497.6,690.6 L498.1,690.8 L498.6,691.0 L499.1,691.0 L499.6,691.0 L500.1,691.0 L500.6,691.0 L501.1,691.0 L501.6,691.0 L502.1,691.0 L502.6,691.0 L503.1,691.0 L503.6,691.0 L504.1,691.0 L504.6,691.0 L505.1,691.0 L505.6,691.0 L506.1,691.0 L506.6,691.0 L507.1,690.9 L507.6,690.8 L508.1,690.6 L508.6,690.4 L509.1,690.2 L509.6,690.0 L510.1,689.7 L510.6,689.2 L511.1,688.6 L511.6,688.0 L512.1,687.4 L512.6,687.1 L513.1,687.0 L513.6,687.2 L514.1,687.6 L514.6,687.9 L515.1,688.0 L515.6,687.9 L516.1,687.6 L516.6,687.2 L517.1,686.9 L517.6,686.6 L518.1,686.1 L518.6,685.7 L519.1,685.3 L519.6,685.1 L520.1,685.0 L520.6,685.4 L521.1,686.1 L521.6,686.9 L522.1,687.7 L522.6,688.2 L523.1,688.7 L523.6,689.2 L524.1,689.6 L524.6,689.9 L525.1,690.0 L525.6,689.9 L526.1,689.7 L526.6,689.3 L527.1,688.9 L527.6,687.9 L528.1,686.5 L528.6,684.9 L529.1,683.8 L529.6,682.8 L530.1,681.9 L530.6,681.2 L531.1,681.0 L531.6,681.5 L532.1,682.5 L532.6,683.7 L533.1,684.6 L533.6,685.0 L534.1,685.0 L534.6,685.0 L535.1,685.0 L535.6,685.0 L536.1,685.0 L536.6,684.6 L537.1,683.9 L537.6,683.2 L538.1,683.0 L538.6,683.2 L539.1,683.6 L539.6,684.1 L540.1,684.6 L540.6,684.9 L541.1,685.0 L541.6,684.5 L542.1,683.5 L542.6,682.1 L543.1,680.7 L543.6,678.7 L544.1,676.3 L544.6,673.8 L545.1,671.6 L545.6,669.5 L546.1,667.5 L546.6,665.9 L547.1,664.8 L547.6,664.2 L548.1,663.6 L548.6,663.2 L549.1,662.8 L549.6,662.4 L550.1,662.1 L550.6,661.8 L551.1,661.6 L551.6,661.3 L552.1,660.9 L552.6,660.2 L553.1,659.2 L553.6,658.0 L554.1,656.7 L554.6,655.5 L555.1,654.2 L555.6,652.7 L556.1,651.3 L556.6,649.9 L557.1,648.8 L557.6,647.8 L558.1,647.0 L558.6,646.2 L559.1,645.4 L559.6,644.6 L560.1,643.8 L560.6,643.0 L561.1,642.1 L561.6,641.3 L562.1,640.7 L562.6,640.3 L563.1,639.9 L563.6,639.7 L564.1,639.6 L564.6,640.2 L565.1,641.4 L565.6,642.9 L566.1,644.3 L566.6,646.0 L567.1,647.8 L567.6,649.0 L568.1,649.5 L568.6,649.9 L569.1,649.9 L569.6,648.0 L570.1,644.2 L570.6,640.0 L571.1,634.9 L571.6,628.6 L572.1,622.7 L572.6,618.5 L573.1,615.2 L573.6,612.5 L574.1,610.7 L574.6,609.4 L575.1,608.6 L575.6,608.5 L576.1,609.3 L576.6,610.7 L577.1,612.3 L577.6,614.7 L578.1,617.9 L578.6,621.3 L579.1,624.7 L579.6,628.1 L580.1,631.8 L580.6,635.4 L581.1,638.6 L581.6,642.1 L582.1,645.3 L582.6,647.0 L583.1,647.5 L583.6,647.9 L584.1,647.9 L584.6,646.3 L585.1,643.2 L585.6,640.0 L586.1,636.6 L586.6,632.8 L587.1,629.0 L587.6,626.0 L588.1,623.5 L588.6,621.3 L589.1,619.5 L589.6,618.4 L590.1,617.9 L590.6,617.5 L591.1,617.4 L591.6,618.1 L592.1,619.3 L592.6,620.8 L593.1,622.3 L593.6,623.9 L594.1,625.7 L594.6,627.6 L595.1,629.2 L595.6,630.5 L596.1,631.7 L596.6,632.8 L597.1,633.5 L597.6,633.5 L598.1,632.8 L598.6,631.7 L599.1,630.5 L599.6,629.7 L600.1,628.9 L600.6,628.2 L601.1,627.7 L601.6,627.7 L602.1,628.2 L602.6,629.0 L603.1,629.9 L603.6,630.6 L604.1,631.1 L604.6,631.6 L605.1,631.9 L605.6,631.9 L606.1,631.0 L606.6,629.4 L607.1,627.6 L607.6,626.0 L608.1,624.6 L608.6,623.0 L609.1,621.6 L609.6,620.5 L610.1,619.9 L610.6,619.6 L611.1,619.4 L611.6,619.5 L612.1,620.6 L612.6,622.5 L613.1,624.4 L613.6,626.7 L614.1,629.4 L614.6,632.1 L615.1,634.4 L615.6,636.6 L616.1,638.6 L616.6,640.1 L617.1,640.7 L617.6,641.0 L618.1,640.8 L618.6,640.3 L619.1,639.9 L619.6,639.6 L620.1,639.3 L620.6,639.1 L621.1,639.0 L621.6,640.0 L622.1,641.8 L622.6,644.1 L623.1,646.5 L623.6,649.3 L624.1,652.6 L624.6,655.8 L625.1,658.5 L625.6,660.6 L626.0,662.0"/>
<path class="c" stroke="#141414" d="M379.6,653.0 L380.1,643.8 L380.6,636.3 L381.1,631.1 L381.6,627.3 L382.1,624.5 L382.6,623.3 L383.1,622.7 L383.6,622.8 L384.1,624.7 L384.6,627.7 L385.1,630.5 L385.6,633.6 L386.1,636.9 L386.6,639.6 L387.1,641.2 L387.6,642.1 L388.1,642.3 L388.6,640.2 L389.1,636.8 L389.6,634.0 L390.1,632.2 L390.6,630.8 L391.1,630.4 L391.6,631.1 L392.1,632.5 L392.6,634.0 L393.1,635.2 L393.6,636.4 L394.1,637.5 L394.6,638.0 L395.1,637.2 L395.6,635.2 L396.1,632.6 L396.6,630.0 L397.1,627.1 L397.6,623.6 L398.1,619.9 L398.6,616.4 L399.1,613.5 L399.6,611.1 L400.1,609.0 L400.6,607.1 L401.1,605.1 L401.6,603.0 L402.1,600.5 L402.6,597.4 L403.1,594.1 L403.6,590.6 L404.1,587.3 L404.6,583.8 L405.1,580.4 L405.6,578.0 L406.1,576.5 L406.6,575.3 L407.1,575.0 L407.6,575.1 L408.1,575.3 L408.6,575.5 L409.1,575.5 L409.6,573.6 L410.1,569.9 L410.6,566.0 L411.1,561.9 L411.6,557.2 L412.1,552.4 L412.6,548.0 L413.1,543.7 L413.6,539.9 L414.1,537.8 L414.6,536.7 L415.1,536.4 L415.6,537.4 L416.1,539.4 L416.6,542.0 L417.1,546.9 L417.6,554.8 L418.1,563.8 L418.6,572.0 L419.1,579.8 L419.6,587.9 L420.1,595.1 L420.6,600.0 L421.1,603.2 L421.6,605.7 L422.1,606.3 L422.6,604.4 L423.1,600.6 L423.6,595.9 L424.1,588.1 L424.6,578.8 L425.1,570.5 L425.6,562.4 L426.1,555.0 L426.6,550.0 L427.1,547.2 L427.6,545.0 L428.1,543.3 L428.6,542.0 L429.1,540.9 L429.6,539.9 L430.1,539.1 L430.6,538.4 L431.1,537.9 L431.6,537.6 L432.1,537.4 L432.6,537.2 L433.1,537.0 L433.6,536.7 L434.1,536.3 L434.6,534.9 L435.1,532.6 L435.6,530.0 L436.1,527.5 L436.6,524.8 L437.1,522.0 L437.6,520.0 L438.1,518.7 L438.6,517.7 L439.1,517.4 L439.6,518.0 L440.1,519.4 L440.6,521.2 L441.1,523.5 L441.6,528.2 L442.1,535.0 L442.6,542.0 L443.1,548.9 L443.6,556.4 L444.1,564.2 L444.6,572.0 L445.1,580.0 L445.6,588.2 L446.1,596.3 L446.6,604.0 L447.1,611.4 L447.6,618.6 L448.1,625.5 L448.6,631.7 L449.1,637.0 L449.6,641.6 L450.1,645.8 L450.6,649.7 L451.1,653.1 L451.6,656.0 L452.1,658.6 L452.6,661.1 L453.1,663.2 L453.6,664.9 L454.1,666.2 L454.6,667.3 L455.1,668.3 L455.6,669.1 L456.1,669.5 L456.6,669.5 L457.1,668.8 L457.6,667.5 L458.1,665.8 L458.6,664.0 L459.1,661.7 L459.6,658.6 L460.1,655.0 L460.6,651.1 L461.1,647.2 L461.6,642.9 L462.1,638.3 L462.6,633.4 L463.1,628.6 L463.6,624.0 L464.1,619.4 L464.6,614.7 L465.1,610.3 L465.6,606.4 L466.1,603.5 L466.6,600.9 L467.1,598.8 L467.6,598.0 L468.1,598.0 L468.6,598.0 L469.1,599.8 L469.6,604.0 L470.1,609.1 L470.6,616.2 L471.1,625.4 L471.6,635.0 L472.1,643.6 L472.6,652.2 L473.1,660.6 L473.6,667.8 L474.1,672.8 L474.6,676.6 L475.1,679.8 L475.6,682.1 L476.1,683.1 L476.6,683.6 L477.1,683.9 L477.6,683.9 L478.1,682.6 L478.6,681.0 L479.1,679.8 L479.6,679.2 L480.1,679.2 L480.6,680.0 L481.1,680.9 L481.6,681.7 L482.1,682.0 L482.6,681.9 L483.1,681.7 L483.6,681.5 L484.1,681.2 L484.6,680.8 L485.1,680.1 L485.6,679.2 L486.1,678.2 L486.6,677.4 L487.1,676.9 L487.6,676.7 L488.1,676.4 L488.6,676.3 L489.1,676.1 L489.6,676.0 L490.1,676.0 L490.6,676.2 L491.1,676.5 L491.6,677.0 L492.1,677.6 L492.6,678.3 L493.1,679.6 L493.6,681.4 L494.1,683.1 L494.6,684.6 L495.1,686.0 L495.6,687.4 L496.1,688.5 L496.6,689.2 L497.1,689.8 L497.6,690.3 L498.1,690.7 L498.6,690.9 L499.1,691.0 L499.6,691.0 L500.1,691.0 L500.6,691.0 L501.1,691.0 L501.6,691.0 L502.1,691.0 L502.6,691.0 L503.1,691.0 L503.6,691.0 L504.1,691.0 L504.6,691.0 L505.1,691.0 L505.6,691.0 L506.1,691.0 L506.6,690.8 L507.1,690.3 L507.6,689.6 L508.1,688.7 L508.6,687.8 L509.1,686.8 L509.6,685.3 L510.1,683.5 L510.6,681.9 L511.1,680.9 L511.6,680.1 L512.1,679.5 L512.6,679.1 L513.1,679.0 L513.6,679.6 L514.1,680.5 L514.6,681.5 L515.1,682.1 L515.6,682.4 L516.1,682.7 L516.6,682.9 L517.1,683.0 L517.6,682.5 L518.1,681.6 L518.6,680.6 L519.1,679.9 L519.6,679.3 L520.1,678.8 L520.6,678.6 L521.1,679.0 L521.6,680.1 L522.1,681.3 L522.6,682.5 L523.1,684.0 L523.6,685.7 L524.1,686.8 L524.6,687.0 L525.1,687.0 L525.6,687.0 L526.1,687.0 L526.6,686.7 L527.1,684.3 L527.6,680.6 L528.1,677.5 L528.6,674.6 L529.1,671.7 L529.6,669.3 L530.1,667.8 L530.6,666.7 L531.1,665.9 L531.6,665.6 L532.1,665.8 L532.6,666.2 L533.1,666.7 L533.6,667.2 L534.1,667.7 L534.6,668.0 L535.1,668.3 L535.6,668.6 L536.1,668.9 L536.6,669.3 L537.1,669.7 L537.6,670.3 L538.1,671.0 L538.6,671.8 L539.1,672.4 L539.6,672.9 L540.1,673.0 L540.6,671.6 L541.1,669.1 L541.6,666.0 L542.1,661.8 L542.6,656.4 L543.1,650.9 L543.6,644.9 L544.1,638.6 L544.6,633.1 L545.1,629.4 L545.6,626.9 L546.1,624.9 L546.6,623.2 L547.1,621.7 L547.6,620.2 L548.1,618.7 L548.6,617.6 L549.1,616.9 L549.6,616.4 L550.1,616.1 L550.6,616.2 L551.1,617.7 L551.6,620.2 L552.1,622.4 L552.6,625.0 L553.1,627.6 L553.6,629.0 L554.1,629.4 L554.6,629.6 L555.1,628.7 L555.6,626.5 L556.1,623.7 L556.6,620.9 L557.1,617.4 L557.6,613.5 L558.1,609.2 L558.6,605.1 L559.1,601.3 L559.6,597.6 L560.1,593.8 L560.6,590.3 L561.1,586.9 L561.6,584.0 L562.1,581.3 L562.6,578.7 L563.1,576.5 L563.6,575.0 L564.1,574.0 L564.6,573.2 L565.1,573.0 L565.6,574.4 L566.1,577.1 L566.6,580.0 L567.1,583.5 L567.6,587.9 L568.1,592.3 L568.6,596.0 L569.1,599.3 L569.6,602.1 L570.1,602.9 L570.6,600.9 L571.1,596.9 L571.6,592.0 L572.1,584.7 L572.6,575.1 L573.1,566.4 L573.6,558.2 L574.1,550.8 L574.6,546.0 L575.1,543.4 L575.6,541.5 L576.1,541.0 L576.6,542.5 L577.1,545.1 L577.6,548.0 L578.1,551.2 L578.6,555.2 L579.1,559.4 L579.6,563.3 L580.1,566.6 L580.6,569.6 L581.1,572.5 L581.6,574.8 L582.1,576.2 L582.6,577.2 L583.1,577.9 L583.6,577.8 L584.1,575.5 L584.6,571.6 L585.1,567.0 L585.6,559.0 L586.1,549.4 L586.6,542.0 L587.1,537.1 L587.6,533.3 L588.1,531.9 L588.6,531.7 L589.1,531.7 L589.6,533.9 L590.1,537.7 L590.6,541.5 L591.1,546.0 L591.6,550.9 L592.1,555.6 L592.6,559.5 L593.1,563.1 L593.6,566.5 L594.1,569.6 L594.6,572.2 L595.1,574.4 L595.6,576.4 L596.1,578.3 L596.6,579.9 L597.1,580.8 L597.6,580.9 L598.1,580.3 L598.6,579.4 L599.1,578.4 L599.6,577.7 L600.1,577.1 L600.6,576.6 L601.1,576.4 L601.6,577.2 L602.1,578.5 L602.6,579.6 L603.1,580.0 L603.6,579.5 L604.1,578.6 L604.6,577.4 L605.1,575.0 L605.6,572.3 L606.1,570.8 L606.6,570.1 L607.1,569.7 L607.6,569.8 L608.1,571.4 L608.6,573.9 L609.1,576.5 L609.6,580.1 L610.1,584.3 L610.6,587.7 L611.1,589.1 L611.6,589.4 L612.1,589.5 L612.6,589.7 L613.1,590.1 L613.6,591.7 L614.1,594.4 L614.6,597.6 L615.1,600.6 L615.6,604.2 L616.1,608.0 L616.6,611.2 L617.1,612.8 L617.6,614.0 L618.1,615.9 L618.6,617.8 L619.1,618.4 L619.6,617.3 L620.1,615.3 L620.6,613.2 L621.1,611.8 L621.6,610.8 L622.1,609.8 L622.6,609.2 L623.1,609.0 L623.6,610.3 L624.1,612.9 L624.6,616.0 L625.1,620.2 L625.6,626.0 L626.0,631.4"/>
<rect class="f" x="376.3" y="504.7" width="253.0" height="188.8"/>
<text class="t" text-anchor="end" x="370" y="695.1">0</text>
<text class="t" text-anchor="end" x="370" y="668.8">2</text>
<text class="t" text-anchor="end" x="370" y="642.5">4</text>
<text class="t" text-anchor="end" x="370" y="616.1">6</text>
<text class="t" text-anchor="end" x="370" y="589.8">8</text>
<text class="t" text-anchor="end" x="370" y="563.5">10</text>
<text class="t" text-anchor="end" x="370" y="537.2">12</text>
<text class="t" text-anchor="end" x="370" y="510.9">14</text>
<text class="t" text-anchor="middle" x="381.5" y="711.0">-15</text>
<text class="t" text-anchor="middle" x="438.2" y="711.0">-10</text>
<text class="t" text-anchor="middle" x="495.0" y="711.0">-5</text>
<text class="t" text-anchor="middle" x="553.2" y="711.0">0</text>
<text class="t" text-anchor="middle" x="610.0" y="711.0">5</text>
<path class="k" d="M372.5,690.6H376.3M374.1,684.0H376.3M374.1,677.4H376.3M374.1,670.9H376.3M372.5,664.3H376.3M374.1,657.7H376.3M374.1,651.1H376.3M374.1,644.5H376.3M372.5,638.0H376.3M374.1,631.4H376.3M374.1,624.8H376.3M374.1,618.2H376.3M372.5,611.6H376.3M374.1,605.1H376.3M374.1,598.5H376.3M374.1,591.9H376.3M372.5,585.3H376.3M374.1,578.7H376.3M374.1,572.2H376.3M374.1,565.6H376.3M372.5,559.0H376.3M374.1,552.4H376.3M374.1,545.8H376.3M374.1,539.3H376.3M372.5,532.7H376.3M374.1,526.1H376.3M374.1,519.5H376.3M374.1,512.9H376.3M372.5,506.4H376.3M383.0,693.5V697.3M394.4,693.5V695.7M405.7,693.5V695.7M417.1,693.5V695.7M428.4,693.5V695.7M439.8,693.5V697.3M451.1,693.5V695.7M462.4,693.5V695.7M473.8,693.5V695.7M485.1,693.5V695.7M496.5,693.5V697.3M507.9,693.5V695.7M519.2,693.5V695.7M530.5,693.5V695.7M541.9,693.5V695.7M553.2,693.5V697.3M564.6,693.5V695.7M576.0,693.5V695.7M587.3,693.5V695.7M598.6,693.5V695.7M610.0,693.5V697.3M621.4,693.5V695.7"/>
<text class="t" text-anchor="middle" x="500.5" y="718.5">Energy (<tspan font-style="italic">eV</tspan>)</text>
<text class="h" text-anchor="middle" x="516.5" y="744.5">AO4</text>
<text class="t" style="font-size:12.3px" text-anchor="middle" transform="translate(356.9,594.5) rotate(-90)">Relative Intensity</text>
<path stroke="#ff1a1a" stroke-width="1.5" d="M631,510H634.4"/>
<text class="t" x="636.4" y="516.0">Donor</text>
<path stroke="#0f860f" stroke-width="1.5" d="M631,525H634.4"/>
<text class="t" x="636" y="531.6">Acceptor</text>
<path stroke="#1212ff" stroke-width="1.5" d="M631,540H634.4"/>
<text class="t" x="636" y="543.6"><tspan font-style="italic">π</tspan>-spacer</text>
<path stroke="#141414" stroke-width="1.5" d="M631,555H634.4"/>
<text class="t" x="637.4" y="559.6">Total</text>
</g>
<g id="AO5">
<path class="c" stroke="#ff1a1a" d="M31.4,932.0 L31.9,929.6 L32.4,927.9 L32.9,927.3 L33.4,927.0 L33.9,927.5 L34.4,929.7 L34.9,932.5 L35.4,935.1 L35.9,938.0 L36.4,940.8 L36.9,942.7 L37.4,943.9 L37.9,944.9 L38.4,945.7 L38.9,946.2 L39.4,946.4 L39.9,946.1 L40.4,945.4 L40.9,944.5 L41.4,943.3 L41.9,942.2 L42.4,941.1 L42.9,939.8 L43.4,938.4 L43.9,937.0 L44.4,935.6 L44.9,934.3 L45.4,933.0 L45.9,931.7 L46.4,930.4 L46.9,929.1 L47.4,928.0 L47.9,927.2 L48.4,926.4 L48.9,925.7 L49.4,925.0 L49.9,924.6 L50.4,924.4 L50.9,924.8 L51.4,925.8 L51.9,927.0 L52.4,928.0 L52.9,928.9 L53.4,929.9 L53.9,930.7 L54.4,931.0 L54.9,930.9 L55.4,930.6 L55.9,930.1 L56.4,929.1 L56.9,926.9 L57.4,924.4 L57.9,922.3 L58.4,921.0 L58.9,920.0 L59.4,919.1 L59.9,918.3 L60.4,917.4 L60.9,916.3 L61.4,914.8 L61.9,912.9 L62.4,910.8 L62.9,908.7 L63.4,906.7 L63.9,904.9 L64.4,903.0 L64.9,901.3 L65.4,900.2 L65.9,899.9 L66.4,899.7 L66.9,899.6 L67.4,900.6 L67.9,904.0 L68.4,908.3 L68.9,912.9 L69.4,919.0 L69.9,925.2 L70.4,930.0 L70.9,933.4 L71.4,936.3 L71.9,938.7 L72.4,940.0 L72.9,940.7 L73.4,941.0 L73.9,940.4 L74.4,939.0 L74.9,937.0 L75.4,935.0 L75.9,932.6 L76.4,929.6 L76.9,926.3 L77.4,923.1 L77.9,920.4 L78.4,918.3 L78.9,916.2 L79.4,914.4 L79.9,913.2 L80.4,912.4 L80.9,911.7 L81.4,911.2 L81.9,911.0 L82.4,911.1 L82.9,911.5 L83.4,912.0 L83.9,912.6 L84.4,913.2 L84.9,913.6 L85.4,913.7 L85.9,913.9 L86.4,914.0 L86.9,914.1 L87.4,914.2 L87.9,914.4 L88.4,914.7 L88.9,915.2 L89.4,916.0 L89.9,916.9 L90.4,918.0 L90.9,919.8 L91.4,922.5 L91.9,925.4 L92.4,928.0 L92.9,930.3 L93.4,932.7 L93.9,934.7 L94.4,936.0 L94.9,936.8 L95.4,937.5 L95.9,938.1 L96.4,938.6 L96.9,938.9 L97.4,939.2 L97.9,939.4 L98.4,939.5 L98.9,939.7 L99.4,940.0 L99.9,940.6 L100.4,941.7 L100.9,942.9 L101.4,944.0 L101.9,944.9 L102.4,945.4 L102.9,945.9 L103.4,946.3 L103.9,946.6 L104.4,946.9 L104.9,947.0 L105.4,947.0 L105.9,946.8 L106.4,946.5 L106.9,946.1 L107.4,945.7 L107.9,945.1 L108.4,944.1 L108.9,942.2 L109.4,939.6 L109.9,936.6 L110.4,932.9 L110.9,927.9 L111.4,922.8 L111.9,918.6 L112.4,915.8 L112.9,913.3 L113.4,911.3 L113.9,910.1 L114.4,909.6 L114.9,909.2 L115.4,909.0 L115.9,909.3 L116.4,910.9 L116.9,913.3 L117.4,916.0 L117.9,919.7 L118.4,924.7 L118.9,929.9 L119.4,934.0 L119.9,937.3 L120.4,940.5 L120.9,943.4 L121.4,945.6 L121.9,946.9 L122.4,947.3 L122.9,947.7 L123.4,948.0 L123.9,948.2 L124.4,948.3 L124.9,948.4 L125.4,948.3 L125.9,948.1 L126.4,947.7 L126.9,947.3 L127.4,946.8 L127.9,946.4 L128.4,946.1 L128.9,946.0 L129.4,946.0 L129.9,946.1 L130.4,946.3 L130.9,946.5 L131.4,946.6 L131.9,946.8 L132.4,946.9 L132.9,947.0 L133.4,946.9 L133.9,946.4 L134.4,945.8 L134.9,945.1 L135.4,944.3 L135.9,943.7 L136.4,943.2 L136.9,943.1 L137.4,943.2 L137.9,943.4 L138.4,943.8 L138.9,944.1 L139.4,944.5 L139.9,944.9 L140.4,945.3 L140.9,945.9 L141.4,946.5 L141.9,947.0 L142.4,947.6 L142.9,947.9 L143.4,948.2 L143.9,948.4 L144.4,948.7 L144.9,948.9 L145.4,949.0 L145.9,949.2 L146.4,949.3 L146.9,949.4 L147.4,949.4 L147.9,949.5 L148.4,949.5 L148.9,949.6 L149.4,949.6 L149.9,949.7 L150.4,949.7 L150.9,949.8 L151.4,949.8 L151.9,949.8 L152.4,949.9 L152.9,949.9 L153.4,949.9 L153.9,949.9 L154.4,950.0 L154.9,950.0 L155.4,950.0 L155.9,950.0 L156.4,950.0 L156.9,950.0 L157.4,950.0 L157.9,950.0 L158.4,950.0 L158.9,950.0 L159.4,950.0 L159.9,950.0 L160.4,950.0 L160.9,950.0 L161.4,950.0 L161.9,950.0 L162.4,950.0 L162.9,950.0 L163.4,950.0 L163.9,950.0 L164.4,950.0 L164.9,950.0 L165.4,950.0 L165.9,950.0 L166.4,950.0 L166.9,950.0 L167.4,950.0 L167.9,950.0 L168.4,950.0 L168.9,950.0 L169.4,950.0 L169.9,950.0 L170.4,950.0 L170.9,950.0 L171.4,950.0 L171.9,950.0 L172.4,950.0 L172.9,950.0 L173.4,950.0 L173.9,950.0 L174.4,949.9 L174.9,949.9 L175.4,949.8 L175.9,949.7 L176.4,949.6 L176.9,949.5 L177.4,949.4 L177.9,949.3 L178.4,949.1 L178.9,949.0 L179.4,948.9 L179.9,948.8 L180.4,948.6 L180.9,948.5 L181.4,948.3 L181.9,948.1 L182.4,947.9 L182.9,947.7 L183.4,947.4 L183.9,947.1 L184.4,946.7 L184.9,946.1 L185.4,945.3 L185.9,944.4 L186.4,943.4 L186.9,942.2 L187.4,940.8 L187.9,938.9 L188.4,936.7 L188.9,934.4 L189.4,932.1 L189.9,929.4 L190.4,926.9 L190.9,925.2 L191.4,924.4 L191.9,923.8 L192.4,923.3 L192.9,923.0 L193.4,922.9 L193.9,922.7 L194.4,922.7 L194.9,922.6 L195.4,922.4 L195.9,922.1 L196.4,921.6 L196.9,921.2 L197.4,921.0 L197.9,921.7 L198.4,923.5 L198.9,925.8 L199.4,928.0 L199.9,930.3 L200.4,932.8 L200.9,935.2 L201.4,937.0 L201.9,938.4 L202.4,939.7 L202.9,940.8 L203.4,941.6 L203.9,942.0 L204.4,941.9 L204.9,941.5 L205.4,940.9 L205.9,940.1 L206.4,939.3 L206.9,938.4 L207.4,937.2 L207.9,935.8 L208.4,934.2 L208.9,932.6 L209.4,931.0 L209.9,929.4 L210.4,927.6 L210.9,925.8 L211.4,924.3 L211.9,923.2 L212.4,922.4 L212.9,921.7 L213.4,921.2 L213.9,921.0 L214.4,921.3 L214.9,922.2 L215.4,923.5 L215.9,924.8 L216.4,926.0 L216.9,927.4 L217.4,928.0 L217.9,926.7 L218.4,923.8 L218.9,920.6 L219.4,917.5 L219.9,913.9 L220.4,910.9 L220.9,908.9 L221.4,907.3 L221.9,906.4 L222.4,906.9 L222.9,908.4 L223.4,910.3 L223.9,912.1 L224.4,914.1 L224.9,916.1 L225.4,917.6 L225.9,918.4 L226.4,919.0 L226.9,919.4 L227.4,919.6 L227.9,919.1 L228.4,918.0 L228.9,916.5 L229.4,915.0 L229.9,913.2 L230.4,911.0 L230.9,909.0 L231.4,907.6 L231.9,906.7 L232.4,906.0 L232.9,905.6 L233.4,905.8 L233.9,906.5 L234.4,907.6 L234.9,908.8 L235.4,910.2 L235.9,912.3 L236.4,914.3 L236.9,915.8 L237.4,916.5 L237.9,916.9 L238.4,917.3 L238.9,917.9 L239.4,918.8 L239.9,920.2 L240.4,921.9 L240.9,923.7 L241.4,925.6 L241.9,927.9 L242.4,930.3 L242.9,932.5 L243.4,934.0 L243.9,935.1 L244.4,936.2 L244.9,937.1 L245.4,937.7 L245.9,938.0 L246.4,937.8 L246.9,937.1 L247.4,936.2 L247.9,935.1 L248.4,934.0 L248.9,932.9 L249.4,931.5 L249.9,930.2 L250.4,929.3 L250.9,928.7 L251.4,928.2 L251.9,928.0 L252.4,928.3 L252.9,929.5 L253.4,931.0 L253.9,932.7 L254.4,934.4 L254.9,936.4 L255.4,938.5 L255.9,940.5 L256.4,942.0 L256.9,943.1 L257.4,944.2 L257.9,945.1 L258.4,945.8 L258.9,946.3 L259.4,946.6 L259.9,946.9 L260.4,947.0 L260.9,946.9 L261.4,946.6 L261.9,945.9 L262.4,945.1 L262.9,944.2 L263.4,942.9 L263.9,941.0 L264.4,938.6 L264.9,936.1 L265.4,934.0 L265.9,932.0 L266.4,929.9 L266.9,927.9 L267.4,926.3 L267.9,925.1 L268.4,924.5 L268.9,923.9 L269.4,923.6 L269.9,923.8 L270.4,924.9 L270.9,926.4 L271.4,928.0 L271.9,929.5 L272.4,931.3 L272.6,932.0"/>
<path class="c" stroke="#0f860f" d="M31.4,944.4 L31.9,943.8 L32.4,943.2 L32.9,942.7 L33.4,942.2 L33.9,941.7 L34.4,941.3 L34.9,940.9 L35.4,940.6 L35.9,940.2 L36.4,939.6 L36.9,938.4 L37.4,936.4 L37.9,934.1 L38.4,932.0 L38.9,930.1 L39.4,928.1 L39.9,926.1 L40.4,924.2 L40.9,922.3 L41.4,920.6 L41.9,918.8 L42.4,917.0 L42.9,915.5 L43.4,914.3 L43.9,913.6 L44.4,912.8 L44.9,912.2 L45.4,911.8 L45.9,911.6 L46.4,911.9 L46.9,912.9 L47.4,914.3 L47.9,915.7 L48.4,917.2 L48.9,918.9 L49.4,920.6 L49.9,922.1 L50.4,923.0 L50.9,923.5 L51.4,923.8 L51.9,924.0 L52.4,923.4 L52.9,921.5 L53.4,919.0 L53.9,916.4 L54.4,914.0 L54.9,911.3 L55.4,909.4 L55.9,908.7 L56.4,908.4 L56.9,908.9 L57.4,911.3 L57.9,914.7 L58.4,918.0 L58.9,921.5 L59.4,925.4 L59.9,927.8 L60.4,928.5 L60.9,928.9 L61.4,929.0 L61.9,927.9 L62.4,925.4 L62.9,922.5 L63.4,919.7 L63.9,916.3 L64.4,913.0 L64.9,910.4 L65.4,908.6 L65.9,907.0 L66.4,906.1 L66.9,906.2 L67.4,907.4 L67.9,908.9 L68.4,910.0 L68.9,910.7 L69.4,911.3 L69.9,911.6 L70.4,911.2 L70.9,910.0 L71.4,908.4 L71.9,907.2 L72.4,906.4 L72.9,905.8 L73.4,905.3 L73.9,905.0 L74.4,905.2 L74.9,905.7 L75.4,906.4 L75.9,906.9 L76.4,907.2 L76.9,907.5 L77.4,907.8 L77.9,907.9 L78.4,908.0 L78.9,907.8 L79.4,907.4 L79.9,906.8 L80.4,906.0 L80.9,904.4 L81.4,901.6 L81.9,898.6 L82.4,896.0 L82.9,893.7 L83.4,891.5 L83.9,890.1 L84.4,889.8 L84.9,889.6 L85.4,890.4 L85.9,892.9 L86.4,896.0 L86.9,899.9 L87.4,904.7 L87.9,909.2 L88.4,912.8 L88.9,916.1 L89.4,919.0 L89.9,921.6 L90.4,923.7 L90.9,925.9 L91.4,927.8 L91.9,929.2 L92.4,930.0 L92.9,930.4 L93.4,930.7 L93.9,930.9 L94.4,931.0 L94.9,930.8 L95.4,930.4 L95.9,929.8 L96.4,929.0 L96.9,928.2 L97.4,927.1 L97.9,925.6 L98.4,923.9 L98.9,922.3 L99.4,921.0 L99.9,920.0 L100.4,919.0 L100.9,918.2 L101.4,917.7 L101.9,917.5 L102.4,917.5 L102.9,917.4 L103.4,917.4 L103.9,917.4 L104.4,917.7 L104.9,918.2 L105.4,918.7 L105.9,919.6 L106.4,921.4 L106.9,923.7 L107.4,926.0 L107.9,928.5 L108.4,931.1 L108.9,932.9 L109.4,933.3 L109.9,933.7 L110.4,933.9 L110.9,934.0 L111.4,934.0 L111.9,933.9 L112.4,933.7 L112.9,933.5 L113.4,933.3 L113.9,933.0 L114.4,932.8 L114.9,932.5 L115.4,932.1 L115.9,931.8 L116.4,931.4 L116.9,931.1 L117.4,930.7 L117.9,930.3 L118.4,930.0 L118.9,929.7 L119.4,929.6 L119.9,930.2 L120.4,931.9 L120.9,933.9 L121.4,936.0 L121.9,938.3 L122.4,941.0 L122.9,943.5 L123.4,945.0 L123.9,945.8 L124.4,946.4 L124.9,947.0 L125.4,947.4 L125.9,947.6 L126.4,947.7 L126.9,947.7 L127.4,947.8 L127.9,947.8 L128.4,947.9 L128.9,947.9 L129.4,947.9 L129.9,948.0 L130.4,948.1 L130.9,948.2 L131.4,948.4 L131.9,948.5 L132.4,948.7 L132.9,948.8 L133.4,949.0 L133.9,949.0 L134.4,949.0 L134.9,948.9 L135.4,948.9 L135.9,948.8 L136.4,948.7 L136.9,948.7 L137.4,948.7 L137.9,948.7 L138.4,948.8 L138.9,948.8 L139.4,948.8 L139.9,948.9 L140.4,948.9 L140.9,949.0 L141.4,949.1 L141.9,949.1 L142.4,949.2 L142.9,949.2 L143.4,949.3 L143.9,949.3 L144.4,949.3 L144.9,949.4 L145.4,949.4 L145.9,949.4 L146.4,949.4 L146.9,949.4 L147.4,949.4 L147.9,949.4 L148.4,949.4 L148.9,949.4 L149.4,949.4 L149.9,949.4 L150.4,949.4 L150.9,949.4 L151.4,949.4 L151.9,949.4 L152.4,949.4 L152.9,949.4 L153.4,949.4 L153.9,949.4 L154.4,949.4 L154.9,949.4 L155.4,949.4 L155.9,949.4 L156.4,949.3 L156.9,948.8 L157.4,948.1 L157.9,947.2 L158.4,946.3 L158.9,945.4 L159.4,944.3 L159.9,943.0 L160.4,941.8 L160.9,941.1 L161.4,940.7 L161.9,940.5 L162.4,940.4 L162.9,940.7 L163.4,941.4 L163.9,942.3 L164.4,943.1 L164.9,943.6 L165.4,943.7 L165.9,943.8 L166.4,943.8 L166.9,943.8 L167.4,943.9 L167.9,944.0 L168.4,944.2 L168.9,944.5 L169.4,945.0 L169.9,945.4 L170.4,945.9 L170.9,946.2 L171.4,946.6 L171.9,947.0 L172.4,947.4 L172.9,947.7 L173.4,947.9 L173.9,948.0 L174.4,947.9 L174.9,947.4 L175.4,946.8 L175.9,945.9 L176.4,945.0 L176.9,944.2 L177.4,943.2 L177.9,942.1 L178.4,940.9 L178.9,939.8 L179.4,939.0 L179.9,938.4 L180.4,937.9 L180.9,937.5 L181.4,937.1 L181.9,937.0 L182.4,937.1 L182.9,937.4 L183.4,937.8 L183.9,938.0 L184.4,937.8 L184.9,937.3 L185.4,936.6 L185.9,936.1 L186.4,935.7 L186.9,935.4 L187.4,935.1 L187.9,935.0 L188.4,935.3 L188.9,936.1 L189.4,937.2 L189.9,937.9 L190.4,938.2 L190.9,938.5 L191.4,938.7 L191.9,938.9 L192.4,939.0 L192.9,938.9 L193.4,938.1 L193.9,937.1 L194.4,936.1 L194.9,935.6 L195.4,935.7 L195.9,936.2 L196.4,936.7 L196.9,937.0 L197.4,936.9 L197.9,936.4 L198.4,935.7 L198.9,934.8 L199.4,934.0 L199.9,933.1 L200.4,932.0 L200.9,930.8 L201.4,929.5 L201.9,928.2 L202.4,926.9 L202.9,925.5 L203.4,923.9 L203.9,922.5 L204.4,921.4 L204.9,920.5 L205.4,919.6 L205.9,918.8 L206.4,918.3 L206.9,918.0 L207.4,918.4 L207.9,919.7 L208.4,921.1 L208.9,922.0 L209.4,921.9 L209.9,921.5 L210.4,920.9 L210.9,920.1 L211.4,919.2 L211.9,917.6 L212.4,915.8 L212.9,914.2 L213.4,913.0 L213.9,912.2 L214.4,911.4 L214.9,910.8 L215.4,910.4 L215.9,910.6 L216.4,911.8 L216.9,913.6 L217.4,915.4 L217.9,916.9 L218.4,918.6 L218.9,920.2 L219.4,921.7 L219.9,922.8 L220.4,923.6 L220.9,924.3 L221.4,924.9 L221.9,925.3 L222.4,925.6 L222.9,925.5 L223.4,925.0 L223.9,924.3 L224.4,923.3 L224.9,922.2 L225.4,920.9 L225.9,919.0 L226.4,916.9 L226.9,914.8 L227.4,913.0 L227.9,911.5 L228.4,910.0 L228.9,908.7 L229.4,907.8 L229.9,907.4 L230.4,907.0 L230.9,906.8 L231.4,906.6 L231.9,906.4 L232.4,906.3 L232.9,906.2 L233.4,906.1 L233.9,906.0 L234.4,906.0 L234.9,906.1 L235.4,906.3 L235.9,906.6 L236.4,907.0 L236.9,908.0 L237.4,909.8 L237.9,911.7 L238.4,913.2 L238.9,914.6 L239.4,916.0 L239.9,917.6 L240.4,919.8 L240.9,922.5 L241.4,924.0 L241.9,924.4 L242.4,924.7 L242.9,924.9 L243.4,925.0 L243.9,924.7 L244.4,924.0 L244.9,923.3 L245.4,923.0 L245.9,923.1 L246.4,923.4 L246.9,923.9 L247.4,924.4 L247.9,924.9 L248.4,925.5 L248.9,926.3 L249.4,927.1 L249.9,927.7 L250.4,928.0 L250.9,928.0 L251.4,927.9 L251.9,927.8 L252.4,927.7 L252.9,927.6 L253.4,927.7 L253.9,928.1 L254.4,928.6 L254.9,929.2 L255.4,929.6 L255.9,929.9 L256.4,930.3 L256.9,930.6 L257.4,930.9 L257.9,931.0 L258.4,930.9 L258.9,930.4 L259.4,929.8 L259.9,929.2 L260.4,928.7 L260.9,928.4 L261.4,928.5 L261.9,928.6 L262.4,928.9 L262.9,929.3 L263.4,929.6 L263.9,929.9 L264.4,930.2 L264.9,930.6 L265.4,930.9 L265.9,931.2 L266.4,931.6 L266.9,931.9 L267.4,932.3 L267.9,932.6 L268.4,932.9 L268.9,933.2 L269.4,933.5 L269.9,933.9 L270.4,934.4 L270.9,934.9 L271.4,935.4 L271.9,936.1 L272.4,936.7 L272.6,937.0"/>
<path class="c" stroke="#1212ff" d="M31.4,935.0 L31.9,932.3 L32.4,930.0 L32.9,928.3 L33.4,927.0 L33.9,925.9 L34.4,925.0 L34.9,924.6 L35.4,924.9 L35.9,925.9 L36.4,927.0 L36.9,927.9 L37.4,928.3 L37.9,928.6 L38.4,928.9 L38.9,929.0 L39.4,928.6 L39.9,927.6 L40.4,926.7 L40.9,926.7 L41.4,927.5 L41.9,928.6 L42.4,929.9 L42.9,930.9 L43.4,931.6 L43.9,932.3 L44.4,933.0 L44.9,933.4 L45.4,933.6 L45.9,933.3 L46.4,932.5 L46.9,931.4 L47.4,930.2 L47.9,929.2 L48.4,928.3 L48.9,927.6 L49.4,926.8 L49.9,926.0 L50.4,925.2 L50.9,924.2 L51.4,923.0 L51.9,921.6 L52.4,920.0 L52.9,918.3 L53.4,916.6 L53.9,914.7 L54.4,912.6 L54.9,910.6 L55.4,908.5 L55.9,906.4 L56.4,904.4 L56.9,902.2 L57.4,900.1 L57.9,898.0 L58.4,896.1 L58.9,894.3 L59.4,892.7 L59.9,891.1 L60.4,889.7 L60.9,888.3 L61.4,887.1 L61.9,886.2 L62.4,885.4 L62.9,884.6 L63.4,884.0 L63.9,883.6 L64.4,883.4 L64.9,883.6 L65.4,884.2 L65.9,885.0 L66.4,885.9 L66.9,886.8 L67.4,887.8 L67.9,888.9 L68.4,890.1 L68.9,891.4 L69.4,892.6 L69.9,893.8 L70.4,894.9 L70.9,896.1 L71.4,897.4 L71.9,898.5 L72.4,899.5 L72.9,900.2 L73.4,900.4 L73.9,899.6 L74.4,897.6 L74.9,895.1 L75.4,892.7 L75.9,891.0 L76.4,889.1 L76.9,887.4 L77.4,886.1 L77.9,885.4 L78.4,885.6 L78.9,886.2 L79.4,887.1 L79.9,888.1 L80.4,889.0 L80.9,889.8 L81.4,890.8 L81.9,891.7 L82.4,892.4 L82.9,892.9 L83.4,893.2 L83.9,893.4 L84.4,893.5 L84.9,893.6 L85.4,893.1 L85.9,891.5 L86.4,889.1 L86.9,886.5 L87.4,884.0 L87.9,881.4 L88.4,878.4 L88.9,875.7 L89.4,874.0 L89.9,873.1 L90.4,872.4 L90.9,872.0 L91.4,872.4 L91.9,873.6 L92.4,875.5 L92.9,877.6 L93.4,880.1 L93.9,883.5 L94.4,887.6 L94.9,892.0 L95.4,896.4 L95.9,900.5 L96.4,905.1 L96.9,909.8 L97.4,914.0 L97.9,917.5 L98.4,920.0 L98.9,922.3 L99.4,924.3 L99.9,926.1 L100.4,927.6 L100.9,928.8 L101.4,929.7 L101.9,930.4 L102.4,931.1 L102.9,931.6 L103.4,932.2 L103.9,932.9 L104.4,933.6 L104.9,934.5 L105.4,935.4 L105.9,936.3 L106.4,937.2 L106.9,937.9 L107.4,938.5 L107.9,939.1 L108.4,939.7 L108.9,940.2 L109.4,940.6 L109.9,940.9 L110.4,941.0 L110.9,940.6 L111.4,939.6 L111.9,938.1 L112.4,936.3 L112.9,934.4 L113.4,932.0 L113.9,928.7 L114.4,924.8 L114.9,921.1 L115.4,918.0 L115.9,915.3 L116.4,912.7 L116.9,910.7 L117.4,909.6 L117.9,909.2 L118.4,909.0 L118.9,909.3 L119.4,910.9 L119.9,913.3 L120.4,916.0 L120.9,919.4 L121.4,923.8 L121.9,928.3 L122.4,932.0 L122.9,935.2 L123.4,938.4 L123.9,940.8 L124.4,942.0 L124.9,942.3 L125.4,942.6 L125.9,942.8 L126.4,942.9 L126.9,943.0 L127.4,942.8 L127.9,942.1 L128.4,941.4 L128.9,941.0 L129.4,941.1 L129.9,941.6 L130.4,942.3 L130.9,942.9 L131.4,943.4 L131.9,944.0 L132.4,944.6 L132.9,945.1 L133.4,945.4 L133.9,945.3 L134.4,945.0 L134.9,944.5 L135.4,944.0 L135.9,943.3 L136.4,942.8 L136.9,942.4 L137.4,942.1 L137.9,941.8 L138.4,941.5 L138.9,941.3 L139.4,941.1 L139.9,941.0 L140.4,941.2 L140.9,941.8 L141.4,942.8 L141.9,943.9 L142.4,945.0 L142.9,945.9 L143.4,946.6 L143.9,947.3 L144.4,948.1 L144.9,948.7 L145.4,949.2 L145.9,949.4 L146.4,949.4 L146.9,949.4 L147.4,949.4 L147.9,949.4 L148.4,949.4 L148.9,949.4 L149.4,949.4 L149.9,949.4 L150.4,949.4 L150.9,949.4 L151.4,949.4 L151.9,949.4 L152.4,949.4 L152.9,949.4 L153.4,949.4 L153.9,949.4 L154.4,949.4 L154.9,949.4 L155.4,949.4 L155.9,949.4 L156.4,949.4 L156.9,949.2 L157.4,949.0 L157.9,948.7 L158.4,948.4 L158.9,948.1 L159.4,947.7 L159.9,947.3 L160.4,946.9 L160.9,946.5 L161.4,946.2 L161.9,946.0 L162.4,946.1 L162.9,946.4 L163.4,946.8 L163.9,947.0 L164.4,947.0 L164.9,946.8 L165.4,946.6 L165.9,946.4 L166.4,946.1 L166.9,945.8 L167.4,945.2 L167.9,944.5 L168.4,943.9 L168.9,943.6 L169.4,943.7 L169.9,944.2 L170.4,944.8 L170.9,945.5 L171.4,946.0 L171.9,946.5 L172.4,947.0 L172.9,947.5 L173.4,947.8 L173.9,948.0 L174.4,947.8 L174.9,947.2 L175.4,946.3 L175.9,945.3 L176.4,944.3 L176.9,943.5 L177.4,942.4 L177.9,941.3 L178.4,940.4 L178.9,940.0 L179.4,940.1 L179.9,940.5 L180.4,941.1 L180.9,941.6 L181.4,942.0 L181.9,942.3 L182.4,942.5 L182.9,942.8 L183.4,942.9 L183.9,943.0 L184.4,942.9 L184.9,942.4 L185.4,941.9 L185.9,941.4 L186.4,941.0 L186.9,941.1 L187.4,941.5 L187.9,942.1 L188.4,942.7 L188.9,943.0 L189.4,942.7 L189.9,941.6 L190.4,940.1 L190.9,938.3 L191.4,936.3 L191.9,933.5 L192.4,930.6 L192.9,928.3 L193.4,926.9 L193.9,925.6 L194.4,924.5 L194.9,923.7 L195.4,923.0 L195.9,922.5 L196.4,922.2 L196.9,921.8 L197.4,921.5 L197.9,921.1 L198.4,920.5 L198.9,919.8 L199.4,919.0 L199.9,918.2 L200.4,917.2 L200.9,916.2 L201.4,915.1 L201.9,913.8 L202.4,912.3 L202.9,910.8 L203.4,909.4 L203.9,908.2 L204.4,907.2 L204.9,906.3 L205.4,905.5 L205.9,904.7 L206.4,904.0 L206.9,903.2 L207.4,902.3 L207.9,901.3 L208.4,900.3 L208.9,899.5 L209.4,899.0 L209.9,898.7 L210.4,898.4 L210.9,898.6 L211.4,899.9 L211.9,901.6 L212.4,903.4 L212.9,904.9 L213.4,906.5 L213.9,908.0 L214.4,908.9 L214.9,909.0 L215.4,909.0 L215.9,908.5 L216.4,905.8 L216.9,902.0 L217.4,898.0 L217.9,893.8 L218.4,888.9 L218.9,884.1 L219.4,880.0 L219.9,876.5 L220.4,873.4 L220.9,871.2 L221.4,870.2 L221.9,869.6 L222.4,870.0 L222.9,871.4 L223.4,873.4 L223.9,875.6 L224.4,877.9 L224.9,880.9 L225.4,884.2 L225.9,887.4 L226.4,890.5 L226.9,893.6 L227.4,896.7 L227.9,899.5 L228.4,902.2 L228.9,905.0 L229.4,906.8 L229.9,906.6 L230.4,904.3 L230.9,901.2 L231.4,898.0 L231.9,894.9 L232.4,891.4 L232.9,887.9 L233.4,884.9 L233.9,882.7 L234.4,880.7 L234.9,878.9 L235.4,877.7 L235.9,877.0 L236.4,876.6 L236.9,876.8 L237.4,877.7 L237.9,879.0 L238.4,880.5 L238.9,881.8 L239.4,883.4 L239.9,885.0 L240.4,886.5 L240.9,887.8 L241.4,888.8 L241.9,889.8 L242.4,890.6 L242.9,891.0 L243.4,890.7 L243.9,889.6 L244.4,888.3 L244.9,887.2 L245.4,886.4 L245.9,885.6 L246.4,884.9 L246.9,884.6 L247.4,884.8 L247.9,885.6 L248.4,886.6 L248.9,887.5 L249.4,888.1 L249.9,888.6 L250.4,889.0 L250.9,888.9 L251.4,888.1 L251.9,886.9 L252.4,885.5 L252.9,884.2 L253.4,883.0 L253.9,881.5 L254.4,880.0 L254.9,878.8 L255.4,878.0 L255.9,877.5 L256.4,877.2 L256.9,877.0 L257.4,877.5 L257.9,879.0 L258.4,881.2 L258.9,883.6 L259.4,886.0 L259.9,889.1 L260.4,892.2 L260.9,894.6 L261.4,896.4 L261.9,898.1 L262.4,899.4 L262.9,900.0 L263.4,899.6 L263.9,898.5 L264.4,897.1 L264.9,896.1 L265.4,895.6 L265.9,895.2 L266.4,895.0 L266.9,895.2 L267.4,896.3 L267.9,898.1 L268.4,900.0 L268.9,902.5 L269.4,905.8 L269.9,909.5 L270.4,912.8 L270.9,915.6 L271.4,918.2 L271.9,920.6 L272.4,922.8 L272.6,923.6"/>
<path class="c" stroke="#141414" d="M31.4,912.4 L31.9,906.0 L32.4,901.2 L32.9,898.5 L33.4,896.5 L33.9,895.4 L34.4,895.9 L34.9,897.4 L35.4,899.3 L35.9,901.3 L36.4,904.1 L36.9,906.7 L37.4,908.0 L37.9,908.3 L38.4,908.4 L38.9,906.9 L39.4,903.6 L39.9,900.5 L40.4,898.4 L40.9,896.7 L41.4,895.2 L41.9,893.6 L42.4,892.0 L42.9,890.3 L43.4,888.5 L43.9,886.7 L44.4,884.9 L44.9,883.3 L45.4,881.8 L45.9,880.2 L46.4,878.7 L46.9,877.4 L47.4,876.3 L47.9,875.6 L48.4,874.9 L48.9,874.3 L49.4,874.0 L49.9,874.0 L50.4,874.0 L50.9,874.0 L51.4,874.0 L51.9,873.0 L52.4,870.7 L52.9,867.6 L53.4,863.5 L53.9,857.6 L54.4,851.8 L54.9,847.6 L55.4,843.5 L55.9,840.3 L56.4,839.0 L56.9,839.7 L57.4,841.2 L57.9,842.8 L58.4,844.0 L58.9,845.0 L59.4,844.6 L59.9,843.2 L60.4,841.0 L60.9,838.5 L61.4,835.3 L61.9,830.6 L62.4,825.0 L62.9,819.1 L63.4,812.7 L63.9,805.4 L64.4,800.0 L64.9,796.4 L65.4,793.5 L65.9,792.0 L66.4,792.0 L66.9,792.0 L67.4,793.5 L67.9,798.3 L68.4,804.0 L68.9,810.4 L69.4,818.3 L69.9,826.0 L70.4,832.0 L70.9,836.6 L71.4,840.7 L71.9,844.0 L72.4,846.0 L72.9,847.1 L73.4,847.6 L73.9,846.6 L74.4,844.2 L74.9,841.1 L75.4,838.0 L75.9,834.9 L76.4,831.4 L76.9,827.7 L77.4,824.0 L77.9,820.6 L78.4,817.6 L78.9,814.6 L79.4,811.8 L79.9,809.2 L80.4,807.0 L80.9,805.0 L81.4,803.1 L81.9,801.4 L82.4,800.1 L82.9,799.1 L83.4,798.6 L83.9,798.1 L84.4,797.8 L84.9,797.6 L85.4,797.8 L85.9,798.5 L86.4,799.6 L86.9,800.8 L87.4,802.0 L87.9,803.4 L88.4,805.1 L88.9,807.0 L89.4,809.1 L89.9,811.4 L90.4,814.0 L90.9,817.0 L91.4,820.4 L91.9,824.8 L92.4,830.7 L92.9,837.3 L93.4,843.7 L93.9,849.3 L94.4,854.9 L94.9,860.1 L95.4,864.5 L95.9,867.9 L96.4,870.7 L96.9,873.1 L97.4,875.4 L97.9,877.6 L98.4,879.8 L98.9,882.0 L99.4,884.1 L99.9,886.1 L100.4,888.0 L100.9,889.7 L101.4,891.2 L101.9,892.5 L102.4,893.7 L102.9,894.9 L103.4,896.2 L103.9,897.7 L104.4,899.5 L104.9,901.8 L105.4,904.4 L105.9,907.0 L106.4,909.5 L106.9,911.6 L107.4,913.5 L107.9,915.5 L108.4,917.2 L108.9,918.0 L109.4,917.5 L109.9,915.9 L110.4,913.4 L110.9,910.6 L111.4,907.1 L111.9,902.1 L112.4,896.1 L112.9,889.9 L113.4,884.1 L113.9,878.9 L114.4,873.5 L114.9,868.3 L115.4,863.8 L115.9,860.5 L116.4,858.3 L116.9,856.5 L117.4,855.5 L117.9,855.8 L118.4,858.1 L118.9,861.3 L119.4,865.3 L119.9,870.9 L120.4,877.6 L120.9,884.6 L121.4,892.1 L121.9,900.6 L122.4,909.2 L122.9,916.7 L123.4,923.0 L123.9,929.1 L124.4,934.2 L124.9,937.6 L125.4,939.3 L125.9,940.5 L126.4,941.0 L126.9,940.6 L127.4,939.7 L127.9,938.5 L128.4,937.5 L128.9,937.0 L129.4,937.2 L129.9,938.0 L130.4,939.0 L130.9,939.9 L131.4,940.4 L131.9,941.0 L132.4,941.4 L132.9,941.6 L133.4,941.2 L133.9,940.0 L134.4,938.4 L134.9,937.2 L135.4,936.4 L135.9,935.7 L136.4,935.3 L136.9,935.1 L137.4,935.1 L137.9,935.0 L138.4,935.0 L138.9,935.0 L139.4,935.0 L139.9,935.0 L140.4,935.3 L140.9,936.1 L141.4,937.4 L141.9,938.7 L142.4,940.2 L142.9,942.2 L143.4,944.1 L143.9,945.8 L144.4,946.9 L144.9,948.1 L145.4,949.0 L145.9,949.4 L146.4,949.4 L146.9,949.4 L147.4,949.4 L147.9,949.4 L148.4,949.4 L148.9,949.4 L149.4,949.4 L149.9,949.4 L150.4,949.4 L150.9,949.4 L151.4,949.4 L151.9,949.4 L152.4,949.4 L152.9,949.4 L153.4,949.4 L153.9,949.4 L154.4,949.4 L154.9,949.4 L155.4,949.4 L155.9,949.4 L156.4,949.2 L156.9,948.6 L157.4,947.7 L157.9,946.6 L158.4,945.4 L158.9,944.2 L159.4,942.5 L159.9,940.7 L160.4,939.3 L160.9,938.6 L161.4,938.0 L161.9,937.6 L162.4,937.4 L162.9,937.9 L163.4,939.0 L163.9,940.3 L164.4,941.0 L164.9,941.3 L165.4,941.5 L165.9,941.6 L166.4,941.3 L166.9,940.3 L167.4,939.0 L167.9,938.1 L168.4,937.6 L168.9,937.2 L169.4,937.0 L169.9,937.3 L170.4,938.6 L170.9,940.4 L171.4,942.0 L171.9,943.5 L172.4,945.0 L172.9,946.3 L173.4,947.0 L173.9,947.3 L174.4,947.5 L174.9,947.6 L175.4,946.8 L175.9,944.1 L176.4,941.0 L176.9,938.5 L177.4,936.0 L177.9,933.5 L178.4,931.6 L178.9,930.3 L179.4,929.1 L179.9,928.2 L180.4,927.7 L180.9,927.7 L181.4,928.3 L181.9,929.0 L182.4,929.5 L182.9,929.5 L183.4,928.7 L183.9,927.6 L184.4,926.4 L184.9,925.4 L185.4,924.4 L185.9,923.3 L186.4,922.3 L186.9,921.2 L187.4,920.2 L187.9,919.4 L188.4,918.5 L188.9,917.4 L189.4,916.0 L189.9,913.6 L190.4,909.9 L190.9,905.9 L191.4,902.0 L191.9,898.2 L192.4,894.1 L192.9,890.5 L193.4,888.0 L193.9,886.4 L194.4,885.0 L194.9,883.9 L195.4,883.0 L195.9,882.2 L196.4,881.4 L196.9,880.6 L197.4,879.9 L197.9,879.6 L198.4,880.0 L198.9,881.1 L199.4,882.6 L199.9,883.8 L200.4,884.6 L200.9,885.3 L201.4,885.6 L201.9,884.8 L202.4,882.8 L202.9,880.4 L203.4,878.0 L203.9,875.8 L204.4,873.4 L204.9,870.9 L205.4,868.6 L205.9,866.4 L206.4,864.5 L206.9,862.7 L207.4,861.0 L207.9,859.4 L208.4,857.8 L208.9,856.3 L209.4,854.8 L209.9,853.3 L210.4,851.8 L210.9,850.4 L211.4,849.2 L211.9,848.2 L212.4,847.4 L212.9,846.7 L213.4,846.1 L213.9,845.5 L214.4,845.1 L214.9,844.8 L215.4,844.7 L215.9,844.5 L216.4,844.4 L216.9,844.1 L217.4,842.6 L217.9,838.8 L218.4,833.9 L218.9,828.7 L219.4,821.7 L219.9,814.8 L220.4,810.0 L220.9,807.1 L221.4,804.8 L221.9,803.6 L222.4,804.5 L222.9,807.3 L223.4,810.7 L223.9,813.9 L224.4,817.4 L224.9,821.1 L225.4,824.6 L225.9,827.5 L226.4,829.8 L226.9,832.0 L227.4,833.8 L227.9,834.9 L228.4,835.3 L228.9,835.6 L229.4,834.9 L229.9,832.5 L230.4,829.3 L230.9,825.7 L231.4,820.6 L231.9,814.9 L232.4,809.7 L232.9,805.7 L233.4,802.0 L233.9,798.9 L234.4,797.0 L234.9,795.9 L235.4,795.4 L235.9,796.0 L236.4,797.6 L236.9,799.6 L237.4,802.0 L237.9,805.2 L238.4,809.1 L238.9,813.2 L239.4,817.7 L239.9,823.1 L240.4,828.5 L240.9,833.2 L241.4,837.0 L241.9,840.5 L242.4,843.5 L242.9,845.7 L243.4,847.1 L243.9,848.3 L244.4,849.2 L244.9,849.6 L245.4,849.2 L245.9,848.1 L246.4,847.1 L246.9,847.2 L247.4,848.3 L247.9,849.4 L248.4,850.0 L248.9,849.7 L249.4,848.9 L249.9,847.9 L250.4,847.0 L250.9,846.1 L251.4,845.1 L251.9,844.2 L252.4,843.7 L252.9,843.7 L253.4,844.4 L253.9,845.4 L254.4,846.5 L254.9,847.8 L255.4,849.5 L255.9,851.6 L256.4,853.7 L256.9,855.6 L257.4,857.4 L257.9,859.0 L258.4,860.5 L258.9,862.2 L259.4,864.0 L259.9,866.3 L260.4,869.0 L260.9,871.4 L261.4,873.0 L261.9,873.9 L262.4,874.6 L262.9,875.0 L263.4,874.5 L263.9,872.9 L264.4,870.6 L264.9,868.4 L265.4,866.3 L265.9,863.9 L266.4,861.7 L266.9,860.2 L267.4,859.4 L267.9,858.8 L268.4,858.6 L268.9,859.6 L269.4,862.1 L269.9,865.3 L270.4,869.6 L270.9,875.7 L271.4,882.0 L271.9,887.7 L272.4,893.3 L272.6,895.6"/>
<rect class="f" x="28.3" y="766.3" width="246.7" height="185.4"/>
<text class="t" text-anchor="end" x="23" y="953.9">0</text>
<text class="t" text-anchor="end" x="23" y="928.0">2</text>
<text class="t" text-anchor="end" x="23" y="902.2">4</text>
<text class="t" text-anchor="end" x="23" y="876.3">6</text>
<text class="t" text-anchor="end" x="23" y="850.5">8</text>
<text class="t" text-anchor="end" x="23" y="824.6">10</text>
<text class="t" text-anchor="end" x="23" y="798.7">12</text>
<text class="t" text-anchor="end" x="23" y="772.9">14</text>
<text class="t" text-anchor="middle" x="33.5" y="969.0">-15</text>
<text class="t" text-anchor="middle" x="88.5" y="969.0">-10</text>
<text class="t" text-anchor="middle" x="143.5" y="969.0">-5</text>
<text class="t" text-anchor="middle" x="200.0" y="969.0">0</text>
<text class="t" text-anchor="middle" x="255.0" y="969.0">5</text>
<path class="k" d="M24.5,949.4H28.3M26.1,942.9H28.3M26.1,936.5H28.3M26.1,930.0H28.3M24.5,923.5H28.3M26.1,917.1H28.3M26.1,910.6H28.3M26.1,904.1H28.3M24.5,897.7H28.3M26.1,891.2H28.3M26.1,884.8H28.3M26.1,878.3H28.3M24.5,871.8H28.3M26.1,865.4H28.3M26.1,858.9H28.3M26.1,852.4H28.3M24.5,846.0H28.3M26.1,839.5H28.3M26.1,833.0H28.3M26.1,826.6H28.3M24.5,820.1H28.3M26.1,813.6H28.3M26.1,807.2H28.3M26.1,800.7H28.3M24.5,794.2H28.3M26.1,787.8H28.3M26.1,781.3H28.3M26.1,774.8H28.3M24.5,768.4H28.3M35.0,951.7V955.5M46.0,951.7V953.9M57.0,951.7V953.9M68.0,951.7V953.9M79.0,951.7V953.9M90.0,951.7V955.5M101.0,951.7V953.9M112.0,951.7V953.9M123.0,951.7V953.9M134.0,951.7V953.9M145.0,951.7V955.5M156.0,951.7V953.9M167.0,951.7V953.9M178.0,951.7V953.9M189.0,951.7V953.9M200.0,951.7V955.5M211.0,951.7V953.9M222.0,951.7V953.9M233.0,951.7V953.9M244.0,951.7V953.9M255.0,951.7V955.5M266.0,951.7V953.9"/>
<text class="t" text-anchor="middle" x="150" y="978.5">Energy (<tspan font-style="italic">eV</tspan>)</text>
<text class="h" text-anchor="middle" x="149" y="1009.5">AO5</text>
<text class="t" style="font-size:12.3px" text-anchor="middle" transform="translate(8.5,852) rotate(-90)">Relative Intensity</text>
<path stroke="#ff1a1a" stroke-width="1.5" d="M277,771.6H280.4"/>
<text class="t" x="281.6" y="778.0">Donor</text>
<path stroke="#0f860f" stroke-width="1.5" d="M277,786.6H280.4"/>
<text class="t" x="280.4" y="794.0">Acceptor</text>
<path stroke="#1212ff" stroke-width="1.5" d="M277,801H280.4"/>
<text class="t" x="281" y="805.0"><tspan font-style="italic">π</tspan>-spacer</text>
<path stroke="#141414" stroke-width="1.5" d="M277,816H280.4"/>
<text class="t" x="281.6" y="821.0">Total</text>
</g>
<g id="AO6">
<path class="c" stroke="#ff1a1a" d="M383.4,940.0 L383.9,937.9 L384.4,936.4 L384.9,935.6 L385.4,935.1 L385.9,935.5 L386.4,937.7 L386.9,940.5 L387.4,943.1 L387.9,945.9 L388.4,948.7 L388.9,950.7 L389.4,952.0 L389.9,953.2 L390.4,954.1 L390.9,954.8 L391.4,955.0 L391.9,954.8 L392.4,954.4 L392.9,953.8 L393.4,953.0 L393.9,952.2 L394.4,951.1 L394.9,949.5 L395.4,947.6 L395.9,945.5 L396.4,943.7 L396.9,942.0 L397.4,940.4 L397.9,938.7 L398.4,937.2 L398.9,935.9 L399.4,935.0 L399.9,934.3 L400.4,933.6 L400.9,933.2 L401.4,933.0 L401.9,933.3 L402.4,933.9 L402.9,934.8 L403.4,935.7 L403.9,936.5 L404.4,937.3 L404.9,938.1 L405.4,938.6 L405.9,938.8 L406.4,938.9 L406.9,939.0 L407.4,938.6 L407.9,937.1 L408.4,935.1 L408.9,933.3 L409.4,931.9 L409.9,930.4 L410.4,929.1 L410.9,928.1 L411.4,927.6 L411.9,927.2 L412.4,926.9 L412.9,926.6 L413.4,926.0 L413.9,924.6 L414.4,922.2 L414.9,919.5 L415.4,917.0 L415.9,914.8 L416.4,912.5 L416.9,910.5 L417.4,909.0 L417.9,907.9 L418.4,907.1 L418.9,907.4 L419.4,909.5 L419.9,912.4 L420.4,916.2 L420.9,921.6 L421.4,927.1 L421.9,931.6 L422.4,936.1 L422.9,940.1 L423.4,943.2 L423.9,945.0 L424.4,946.6 L424.9,947.9 L425.4,948.5 L425.9,948.6 L426.4,948.6 L426.9,948.6 L427.4,948.3 L427.9,947.1 L428.4,945.3 L428.9,943.4 L429.4,941.1 L429.9,938.1 L430.4,934.7 L430.9,931.6 L431.4,928.7 L431.9,925.8 L432.4,923.1 L432.9,921.3 L433.4,920.1 L433.9,919.2 L434.4,918.7 L434.9,918.7 L435.4,919.1 L435.9,919.8 L436.4,920.5 L436.9,920.9 L437.4,921.2 L437.9,921.3 L438.4,921.5 L438.9,921.6 L439.4,921.8 L439.9,922.0 L440.4,922.2 L440.9,922.5 L441.4,922.9 L441.9,923.4 L442.4,924.0 L442.9,925.1 L443.4,926.7 L443.9,928.8 L444.4,931.0 L444.9,933.9 L445.4,937.5 L445.9,940.8 L446.4,943.0 L446.9,944.2 L447.4,945.2 L447.9,946.0 L448.4,946.6 L448.9,947.0 L449.4,947.1 L449.9,947.1 L450.4,947.2 L450.9,947.2 L451.4,947.3 L451.9,947.4 L452.4,947.6 L452.9,948.2 L453.4,949.1 L453.9,949.9 L454.4,950.7 L454.9,951.4 L455.4,952.0 L455.9,952.7 L456.4,953.2 L456.9,953.7 L457.4,954.0 L457.9,954.2 L458.4,954.3 L458.9,954.5 L459.4,954.6 L459.9,954.6 L460.4,954.5 L460.9,954.0 L461.4,953.4 L461.9,952.5 L462.4,951.4 L462.9,950.2 L463.4,948.2 L463.9,945.7 L464.4,942.7 L464.9,939.6 L465.4,936.1 L465.9,931.6 L466.4,927.2 L466.9,923.5 L467.4,921.0 L467.9,918.7 L468.4,917.3 L468.9,916.8 L469.4,916.6 L469.9,916.9 L470.4,918.3 L470.9,920.5 L471.4,923.0 L471.9,926.6 L472.4,931.5 L472.9,936.6 L473.4,941.0 L473.9,944.7 L474.4,948.3 L474.9,951.2 L475.4,953.0 L475.9,953.9 L476.4,954.7 L476.9,955.4 L477.4,955.8 L477.9,956.0 L478.4,956.0 L478.9,956.0 L479.4,956.0 L479.9,956.0 L480.4,956.0 L480.9,955.9 L481.4,955.8 L481.9,955.6 L482.4,955.5 L482.9,955.3 L483.4,955.2 L483.9,955.0 L484.4,954.9 L484.9,954.8 L485.4,954.7 L485.9,954.7 L486.4,954.6 L486.9,954.5 L487.4,954.4 L487.9,954.3 L488.4,954.2 L488.9,954.0 L489.4,953.8 L489.9,953.4 L490.4,953.0 L490.9,952.5 L491.4,952.2 L491.9,952.0 L492.4,952.1 L492.9,952.5 L493.4,953.0 L493.9,953.7 L494.4,954.3 L494.9,954.9 L495.4,955.4 L495.9,955.9 L496.4,956.5 L496.9,957.0 L497.4,957.4 L497.9,957.6 L498.4,957.7 L498.9,957.7 L499.4,957.8 L499.9,957.9 L500.4,957.9 L500.9,958.0 L501.4,958.0 L501.9,958.1 L502.4,958.1 L502.9,958.2 L503.4,958.2 L503.9,958.2 L504.4,958.3 L504.9,958.3 L505.4,958.3 L505.9,958.3 L506.4,958.4 L506.9,958.4 L507.4,958.4 L507.9,958.4 L508.4,958.4 L508.9,958.4 L509.4,958.4 L509.9,958.4 L510.4,958.4 L510.9,958.4 L511.4,958.4 L511.9,958.4 L512.4,958.4 L512.9,958.4 L513.4,958.4 L513.9,958.4 L514.4,958.4 L514.9,958.4 L515.4,958.4 L515.9,958.4 L516.4,958.4 L516.9,958.4 L517.4,958.4 L517.9,958.4 L518.4,958.4 L518.9,958.4 L519.4,958.4 L519.9,958.4 L520.4,958.4 L520.9,958.4 L521.4,958.4 L521.9,958.4 L522.4,958.4 L522.9,958.3 L523.4,958.3 L523.9,958.3 L524.4,958.3 L524.9,958.2 L525.4,958.2 L525.9,958.2 L526.4,958.1 L526.9,958.1 L527.4,958.0 L527.9,958.0 L528.4,958.0 L528.9,957.9 L529.4,957.9 L529.9,957.8 L530.4,957.7 L530.9,957.6 L531.4,957.5 L531.9,957.5 L532.4,957.4 L532.9,957.3 L533.4,957.1 L533.9,957.0 L534.4,956.9 L534.9,956.8 L535.4,956.6 L535.9,956.5 L536.4,956.3 L536.9,956.1 L537.4,955.9 L537.9,955.7 L538.4,955.4 L538.9,955.1 L539.4,954.7 L539.9,954.1 L540.4,953.4 L540.9,952.5 L541.4,951.4 L541.9,950.2 L542.4,948.3 L542.9,946.1 L543.4,943.8 L543.9,941.7 L544.4,939.5 L544.9,937.4 L545.4,935.6 L545.9,934.2 L546.4,933.0 L546.9,931.9 L547.4,931.2 L547.9,930.8 L548.4,930.5 L548.9,930.4 L549.4,930.5 L549.9,930.8 L550.4,931.3 L550.9,931.7 L551.4,932.0 L551.9,931.8 L552.4,930.8 L552.9,930.0 L553.4,930.3 L553.9,931.2 L554.4,932.4 L554.9,934.2 L555.4,937.1 L555.9,940.4 L556.4,943.0 L556.9,944.9 L557.4,946.7 L557.9,948.1 L558.4,949.0 L558.9,949.5 L559.4,949.8 L559.9,950.0 L560.4,949.9 L560.9,949.4 L561.4,948.7 L561.9,947.9 L562.4,947.0 L562.9,945.9 L563.4,944.3 L563.9,942.6 L564.4,940.9 L564.9,939.3 L565.4,937.9 L565.9,936.5 L566.4,935.1 L566.9,933.9 L567.4,933.0 L567.9,932.2 L568.4,931.4 L568.9,930.8 L569.4,930.6 L569.9,930.9 L570.4,931.6 L570.9,932.0 L571.4,931.9 L571.9,931.6 L572.4,931.2 L572.9,930.4 L573.4,928.3 L573.9,925.6 L574.4,923.0 L574.9,920.6 L575.4,918.2 L575.9,916.3 L576.4,915.1 L576.9,914.0 L577.4,913.5 L577.9,913.6 L578.4,914.7 L578.9,916.4 L579.4,918.0 L579.9,919.7 L580.4,921.7 L580.9,923.6 L581.4,925.0 L581.9,926.1 L582.4,927.0 L582.9,927.7 L583.4,928.0 L583.9,927.5 L584.4,926.2 L584.9,924.6 L585.4,923.0 L585.9,921.3 L586.4,919.3 L586.9,917.4 L587.4,916.0 L587.9,914.9 L588.4,914.0 L588.9,913.3 L589.4,913.0 L589.9,913.0 L590.4,913.0 L590.9,913.8 L591.4,915.7 L591.9,917.7 L592.4,919.4 L592.9,921.2 L593.4,922.8 L593.9,923.9 L594.4,924.3 L594.9,924.5 L595.4,924.6 L595.9,924.9 L596.4,925.6 L596.9,926.9 L597.4,928.7 L597.9,930.6 L598.4,932.8 L598.9,935.6 L599.4,938.4 L599.9,940.7 L600.4,942.3 L600.9,943.8 L601.4,945.0 L601.9,945.6 L602.4,945.4 L602.9,944.8 L603.4,943.9 L603.9,942.9 L604.4,942.0 L604.9,941.1 L605.4,940.1 L605.9,939.3 L606.4,939.0 L606.9,939.1 L607.4,939.5 L607.9,940.0 L608.4,940.7 L608.9,941.7 L609.4,943.7 L609.9,946.1 L610.4,948.3 L610.9,949.9 L611.4,951.5 L611.9,952.8 L612.4,953.8 L612.9,954.3 L613.4,954.7 L613.9,955.1 L614.4,955.3 L614.9,955.4 L615.4,955.3 L615.9,955.2 L616.4,955.1 L616.9,955.0 L617.4,955.4 L617.9,955.2 L618.4,954.7 L618.9,954.0 L619.4,953.1 L619.9,952.2 L620.4,951.0 L620.9,949.4 L621.4,947.5 L621.9,945.6 L622.4,944.0 L622.9,942.6 L623.4,941.2 L623.9,940.0 L624.4,939.4 L624.9,939.2 L625.4,939.0 L625.9,939.1 L626.4,939.9 L626.9,941.3 L627.4,943.2 L627.6,944.0"/>
<path class="c" stroke="#0f860f" d="M383.4,948.0 L383.9,945.8 L384.4,943.8 L384.9,942.2 L385.4,941.0 L385.9,939.9 L386.4,939.0 L386.9,938.6 L387.4,938.8 L387.9,939.6 L388.4,940.7 L388.9,941.8 L389.4,943.0 L389.9,944.4 L390.4,945.8 L390.9,946.9 L391.4,947.5 L391.9,948.0 L392.4,948.4 L392.9,948.6 L393.4,948.5 L393.9,948.2 L394.4,947.7 L394.9,947.3 L395.4,947.0 L395.9,946.9 L396.4,946.7 L396.9,946.6 L397.4,946.6 L397.9,946.7 L398.4,946.9 L398.9,947.2 L399.4,947.4 L399.9,947.1 L400.4,945.5 L400.9,943.3 L401.4,941.0 L401.9,938.5 L402.4,935.5 L402.9,932.8 L403.4,931.0 L403.9,929.9 L404.4,928.9 L404.9,928.3 L405.4,928.0 L405.9,928.4 L406.4,929.5 L406.9,930.8 L407.4,932.0 L407.9,933.1 L408.4,934.3 L408.9,935.5 L409.4,936.4 L409.9,937.0 L410.4,937.1 L410.9,937.2 L411.4,937.3 L411.9,937.4 L412.4,937.4 L412.9,937.3 L413.4,936.7 L413.9,935.7 L414.4,934.5 L414.9,933.3 L415.4,931.7 L415.9,929.6 L416.4,927.4 L416.9,925.3 L417.4,923.7 L417.9,922.0 L418.4,920.9 L418.9,920.3 L419.4,920.0 L419.9,920.4 L420.4,922.1 L420.9,924.7 L421.4,927.0 L421.9,929.2 L422.4,931.6 L422.9,933.7 L423.4,935.0 L423.9,935.8 L424.4,936.4 L424.9,936.8 L425.4,937.0 L425.9,936.5 L426.4,935.2 L426.9,933.3 L427.4,931.0 L427.9,927.2 L428.4,921.4 L428.9,914.9 L429.4,909.0 L429.9,903.4 L430.4,897.8 L430.9,893.6 L431.4,891.0 L431.9,889.1 L432.4,888.0 L432.9,887.6 L433.4,888.4 L433.9,891.0 L434.4,894.0 L434.9,896.5 L435.4,899.3 L435.9,900.9 L436.4,901.0 L436.9,900.8 L437.4,900.7 L437.9,900.6 L438.4,900.8 L438.9,901.7 L439.4,903.0 L439.9,904.7 L440.4,907.1 L440.9,911.1 L441.4,915.8 L441.9,920.2 L442.4,924.1 L442.9,928.0 L443.4,931.6 L443.9,934.5 L444.4,936.9 L444.9,939.1 L445.4,941.1 L445.9,942.5 L446.4,943.0 L446.9,943.0 L447.4,943.0 L447.9,943.0 L448.4,943.0 L448.9,943.0 L449.4,943.0 L449.9,942.8 L450.4,942.7 L450.9,942.6 L451.4,942.8 L451.9,943.6 L452.4,944.7 L452.9,945.8 L453.4,946.8 L453.9,948.0 L454.4,949.1 L454.9,950.2 L455.4,951.0 L455.9,951.7 L456.4,952.3 L456.9,952.8 L457.4,953.2 L457.9,953.4 L458.4,953.3 L458.9,953.1 L459.4,952.6 L459.9,952.0 L460.4,951.3 L460.9,950.3 L461.4,948.4 L461.9,946.0 L462.4,943.8 L462.9,941.9 L463.4,940.0 L463.9,938.4 L464.4,937.4 L464.9,936.9 L465.4,936.6 L465.9,936.7 L466.4,937.4 L466.9,938.3 L467.4,939.3 L467.9,939.9 L468.4,940.2 L468.9,940.4 L469.4,940.5 L469.9,940.7 L470.4,940.9 L470.9,941.2 L471.4,941.8 L471.9,942.6 L472.4,943.6 L472.9,944.8 L473.4,946.7 L473.9,948.9 L474.4,951.1 L474.9,952.8 L475.4,953.9 L475.9,954.9 L476.4,955.7 L476.9,956.3 L477.4,956.6 L477.9,956.7 L478.4,956.7 L478.9,956.8 L479.4,956.8 L479.9,956.8 L480.4,956.8 L480.9,956.8 L481.4,956.9 L481.9,956.9 L482.4,956.9 L482.9,956.9 L483.4,956.9 L483.9,956.9 L484.4,957.0 L484.9,957.0 L485.4,957.0 L485.9,957.0 L486.4,957.0 L486.9,957.0 L487.4,957.0 L487.9,957.0 L488.4,957.0 L488.9,957.0 L489.4,956.9 L489.9,956.9 L490.4,956.9 L490.9,956.8 L491.4,956.8 L491.9,956.7 L492.4,956.7 L492.9,956.6 L493.4,956.6 L493.9,956.6 L494.4,956.6 L494.9,956.7 L495.4,956.8 L495.9,956.9 L496.4,957.1 L496.9,957.3 L497.4,957.4 L497.9,957.6 L498.4,957.8 L498.9,957.9 L499.4,958.0 L499.9,958.0 L500.4,958.0 L500.9,958.0 L501.4,958.0 L501.9,958.0 L502.4,958.0 L502.9,958.0 L503.4,958.0 L503.9,958.0 L504.4,958.0 L504.9,958.0 L505.4,958.0 L505.9,958.0 L506.4,958.0 L506.9,958.0 L507.4,958.0 L507.9,958.0 L508.4,958.0 L508.9,958.0 L509.4,957.9 L509.9,957.6 L510.4,957.2 L510.9,956.6 L511.4,955.9 L511.9,955.1 L512.4,954.2 L512.9,952.7 L513.4,951.2 L513.9,950.1 L514.4,949.6 L514.9,949.1 L515.4,948.8 L515.9,948.6 L516.4,948.8 L516.9,949.5 L517.4,950.5 L517.9,951.4 L518.4,952.0 L518.9,952.3 L519.4,952.6 L519.9,952.8 L520.4,952.9 L520.9,953.0 L521.4,953.0 L521.9,952.9 L522.4,952.7 L522.9,952.5 L523.4,952.3 L523.9,952.0 L524.4,951.8 L524.9,951.4 L525.4,950.9 L525.9,950.5 L526.4,950.0 L526.9,949.5 L527.4,949.0 L527.9,948.4 L528.4,947.9 L528.9,947.5 L529.4,947.1 L529.9,946.7 L530.4,946.4 L530.9,946.2 L531.4,946.0 L531.9,946.1 L532.4,946.7 L532.9,947.4 L533.4,947.9 L533.9,947.9 L534.4,947.2 L534.9,946.3 L535.4,945.5 L535.9,945.0 L536.4,945.2 L536.9,945.9 L537.4,946.8 L537.9,947.8 L538.4,948.9 L538.9,950.3 L539.4,951.7 L539.9,952.8 L540.4,953.7 L540.9,954.5 L541.4,955.3 L541.9,955.8 L542.4,956.0 L542.9,955.8 L543.4,955.1 L543.9,954.3 L544.4,953.2 L544.9,952.2 L545.4,951.1 L545.9,949.8 L546.4,948.2 L546.9,946.7 L547.4,945.3 L547.9,944.2 L548.4,943.3 L548.9,942.5 L549.4,941.8 L549.9,941.2 L550.4,940.6 L550.9,940.1 L551.4,939.7 L551.9,939.3 L552.4,938.9 L552.9,938.6 L553.4,938.3 L553.9,938.1 L554.4,937.8 L554.9,937.7 L555.4,937.5 L555.9,937.3 L556.4,937.0 L556.9,936.4 L557.4,935.4 L557.9,934.2 L558.4,933.0 L558.9,931.6 L559.4,930.1 L559.9,928.4 L560.4,926.7 L560.9,925.3 L561.4,923.9 L561.9,922.6 L562.4,921.5 L562.9,920.7 L563.4,920.3 L563.9,920.0 L564.4,920.3 L564.9,921.5 L565.4,923.1 L565.9,924.7 L566.4,926.4 L566.9,928.4 L567.4,930.4 L567.9,931.8 L568.4,932.6 L568.9,933.3 L569.4,933.8 L569.9,934.0 L570.4,933.7 L570.9,932.6 L571.4,931.1 L571.9,929.3 L572.4,927.3 L572.9,924.6 L573.4,921.7 L573.9,919.4 L574.4,917.6 L574.9,916.1 L575.4,915.1 L575.9,915.0 L576.4,915.0 L576.9,915.8 L577.4,919.4 L577.9,924.1 L578.4,928.8 L578.9,934.2 L579.4,939.3 L579.9,943.3 L580.4,946.9 L580.9,950.1 L581.4,952.4 L581.9,953.7 L582.4,954.7 L582.9,955.5 L583.4,956.0 L583.9,956.0 L584.4,956.0 L584.9,956.0 L585.4,955.8 L585.9,954.9 L586.4,953.7 L586.9,952.3 L587.4,950.6 L587.9,948.2 L588.4,945.7 L588.9,943.4 L589.4,941.5 L589.9,939.7 L590.4,938.1 L590.9,937.1 L591.4,936.7 L591.9,936.3 L592.4,936.1 L592.9,936.0 L593.4,936.2 L593.9,936.9 L594.4,937.6 L594.9,938.0 L595.4,938.0 L595.9,937.8 L596.4,937.6 L596.9,937.3 L597.4,937.0 L597.9,936.4 L598.4,935.3 L598.9,933.9 L599.4,932.5 L599.9,931.2 L600.4,929.5 L600.9,927.8 L601.4,926.3 L601.9,925.2 L602.4,924.4 L602.9,923.7 L603.4,923.2 L603.9,923.0 L604.4,923.0 L604.9,923.0 L605.4,923.6 L605.9,925.7 L606.4,928.2 L606.9,930.3 L607.4,932.9 L607.9,935.2 L608.4,936.8 L608.9,937.1 L609.4,937.3 L609.9,937.3 L610.4,937.4 L610.9,937.3 L611.4,936.6 L611.9,935.7 L612.4,935.1 L612.9,935.0 L613.4,935.3 L613.9,935.6 L614.4,935.8 L614.9,936.0 L615.4,935.9 L615.9,935.4 L616.4,934.9 L616.9,934.4 L617.4,933.8 L617.9,933.3 L618.4,933.0 L618.9,933.3 L619.4,934.1 L619.9,935.1 L620.4,936.0 L620.9,936.9 L621.4,937.8 L621.9,938.7 L622.4,939.7 L622.9,940.8 L623.4,941.9 L623.9,943.1 L624.4,944.4 L624.9,945.7 L625.4,947.1 L625.9,948.4 L626.4,949.9 L626.9,951.3 L627.4,952.8 L627.6,953.4"/>
<path class="c" stroke="#1212ff" d="M383.4,941.0 L383.9,937.9 L384.4,935.6 L384.9,934.2 L385.4,933.2 L385.9,932.6 L386.4,932.9 L386.9,933.9 L387.4,935.1 L387.9,935.9 L388.4,936.2 L388.9,936.3 L389.4,936.5 L389.9,936.6 L390.4,936.6 L390.9,936.3 L391.4,935.6 L391.9,934.9 L392.4,934.6 L392.9,935.1 L393.4,936.4 L393.9,937.9 L394.4,939.0 L394.9,939.8 L395.4,940.6 L395.9,941.3 L396.4,941.8 L396.9,942.0 L397.4,941.9 L397.9,941.4 L398.4,940.8 L398.9,940.0 L399.4,939.3 L399.9,938.6 L400.4,937.9 L400.9,937.1 L401.4,936.2 L401.9,935.2 L402.4,934.1 L402.9,932.7 L403.4,931.1 L403.9,929.4 L404.4,927.3 L404.9,924.7 L405.4,922.0 L405.9,919.5 L406.4,917.2 L406.9,915.0 L407.4,913.0 L407.9,911.3 L408.4,910.0 L408.9,909.0 L409.4,908.2 L409.9,907.3 L410.4,906.4 L410.9,905.3 L411.4,903.7 L411.9,901.5 L412.4,899.2 L412.9,896.9 L413.4,895.0 L413.9,893.4 L414.4,891.9 L414.9,890.7 L415.4,890.0 L415.9,889.6 L416.4,889.4 L416.9,889.5 L417.4,890.2 L417.9,891.3 L418.4,892.5 L418.9,893.8 L419.4,894.9 L419.9,896.3 L420.4,897.7 L420.9,899.1 L421.4,900.5 L421.9,901.8 L422.4,903.0 L422.9,904.3 L423.4,905.5 L423.9,906.5 L424.4,907.2 L424.9,907.6 L425.4,907.9 L425.9,908.0 L426.4,907.5 L426.9,905.9 L427.4,903.6 L427.9,901.4 L428.4,899.3 L428.9,897.0 L429.4,894.9 L429.9,893.2 L430.4,892.2 L430.9,891.3 L431.4,891.0 L431.9,891.7 L432.4,893.3 L432.9,895.3 L433.4,897.0 L433.9,898.5 L434.4,900.2 L434.9,901.5 L435.4,902.0 L435.9,901.9 L436.4,901.7 L436.9,901.4 L437.4,901.0 L437.9,899.9 L438.4,897.9 L438.9,895.4 L439.4,893.0 L439.9,890.5 L440.4,887.8 L440.9,885.2 L441.4,883.0 L441.9,881.2 L442.4,879.5 L442.9,878.1 L443.4,877.4 L443.9,877.1 L444.4,877.0 L444.9,877.9 L445.4,879.9 L445.9,882.5 L446.4,885.5 L446.9,889.4 L447.4,893.9 L447.9,898.2 L448.4,902.1 L448.9,906.1 L449.4,910.0 L449.9,913.7 L450.4,917.0 L450.9,920.1 L451.4,923.1 L451.9,925.9 L452.4,928.4 L452.9,930.6 L453.4,932.5 L453.9,934.2 L454.4,935.7 L454.9,937.0 L455.4,938.0 L455.9,938.7 L456.4,939.3 L456.9,939.8 L457.4,940.3 L457.9,940.9 L458.4,941.6 L458.9,942.5 L459.4,943.4 L459.9,944.3 L460.4,945.2 L460.9,945.9 L461.4,946.5 L461.9,947.1 L462.4,947.6 L462.9,948.1 L463.4,948.4 L463.9,948.6 L464.4,948.4 L464.9,947.7 L465.4,946.6 L465.9,945.2 L466.4,943.7 L466.9,941.7 L467.4,938.6 L467.9,934.8 L468.4,930.9 L468.9,927.6 L469.4,924.8 L469.9,922.1 L470.4,919.7 L470.9,918.2 L471.4,917.4 L471.9,916.8 L472.4,916.4 L472.9,916.7 L473.4,918.3 L473.9,920.5 L474.4,923.6 L474.9,928.3 L475.4,933.2 L475.9,937.6 L476.4,942.1 L476.9,946.2 L477.4,949.0 L477.9,950.7 L478.4,952.0 L478.9,952.9 L479.4,953.5 L479.9,953.7 L480.4,953.4 L480.9,952.7 L481.4,951.9 L481.9,951.0 L482.4,950.3 L482.9,950.0 L483.4,950.3 L483.9,951.1 L484.4,952.2 L484.9,953.3 L485.4,953.9 L485.9,954.0 L486.4,953.9 L486.9,953.7 L487.4,953.5 L487.9,953.2 L488.4,953.0 L488.9,952.7 L489.4,952.3 L489.9,951.9 L490.4,951.5 L490.9,951.1 L491.4,950.7 L491.9,950.2 L492.4,949.7 L492.9,949.3 L493.4,949.0 L493.9,949.1 L494.4,949.7 L494.9,950.7 L495.4,951.8 L495.9,952.8 L496.4,953.7 L496.9,954.7 L497.4,955.7 L497.9,956.5 L498.4,957.0 L498.9,957.3 L499.4,957.6 L499.9,957.8 L500.4,957.9 L500.9,958.0 L501.4,958.0 L501.9,958.0 L502.4,958.0 L502.9,958.0 L503.4,958.0 L503.9,958.0 L504.4,958.0 L504.9,958.0 L505.4,958.0 L505.9,958.0 L506.4,958.0 L506.9,958.0 L507.4,958.0 L507.9,958.0 L508.4,958.0 L508.9,958.0 L509.4,957.9 L509.9,957.7 L510.4,957.4 L510.9,957.0 L511.4,956.5 L511.9,956.1 L512.4,955.6 L512.9,955.0 L513.4,954.3 L513.9,953.7 L514.4,953.2 L514.9,953.0 L515.4,953.1 L515.9,953.4 L516.4,953.8 L516.9,954.0 L517.4,954.0 L517.9,953.8 L518.4,953.6 L518.9,953.4 L519.4,953.1 L519.9,952.8 L520.4,952.4 L520.9,951.9 L521.4,951.5 L521.9,951.1 L522.4,951.0 L522.9,951.2 L523.4,951.9 L523.9,952.7 L524.4,953.4 L524.9,953.9 L525.4,954.2 L525.9,954.4 L526.4,954.7 L526.9,954.8 L527.4,954.9 L527.9,955.0 L528.4,954.9 L528.9,954.3 L529.4,953.6 L529.9,952.8 L530.4,952.0 L530.9,951.2 L531.4,950.2 L531.9,949.2 L532.4,948.4 L532.9,948.0 L533.4,948.2 L533.9,948.7 L534.4,949.5 L534.9,950.2 L535.4,950.8 L535.9,951.2 L536.4,951.5 L536.9,951.7 L537.4,951.9 L537.9,952.0 L538.4,951.9 L538.9,951.4 L539.4,950.8 L539.9,950.2 L540.4,950.0 L540.9,950.2 L541.4,950.7 L541.9,951.2 L542.4,951.7 L542.9,952.0 L543.4,951.8 L543.9,950.9 L544.4,949.7 L544.9,948.3 L545.4,946.6 L545.9,944.3 L546.4,941.8 L546.9,939.4 L547.4,937.4 L547.9,935.3 L548.4,933.5 L548.9,932.2 L549.4,931.3 L549.9,930.6 L550.4,930.0 L550.9,929.5 L551.4,929.1 L551.9,928.8 L552.4,928.7 L552.9,928.5 L553.4,928.3 L553.9,928.1 L554.4,927.5 L554.9,926.3 L555.4,924.8 L555.9,923.3 L556.4,921.9 L556.9,920.3 L557.4,918.8 L557.9,917.3 L558.4,916.0 L558.9,914.9 L559.4,913.8 L559.9,912.8 L560.4,912.0 L560.9,911.2 L561.4,910.4 L561.9,909.7 L562.4,909.0 L562.9,908.4 L563.4,907.9 L563.9,907.5 L564.4,907.2 L564.9,906.9 L565.4,906.7 L565.9,906.6 L566.4,906.9 L566.9,907.9 L567.4,909.4 L567.9,910.8 L568.4,912.0 L568.9,913.5 L569.4,914.9 L569.9,915.9 L570.4,916.5 L570.9,916.9 L571.4,916.7 L571.9,914.3 L572.4,910.5 L572.9,906.5 L573.4,901.4 L573.9,895.9 L574.4,891.0 L574.9,886.6 L575.4,882.6 L575.9,879.4 L576.4,877.4 L576.9,875.7 L577.4,875.0 L577.9,875.9 L578.4,878.0 L578.9,880.5 L579.4,883.0 L579.9,886.0 L580.4,889.2 L580.9,892.4 L581.4,895.5 L581.9,898.6 L582.4,901.7 L582.9,904.5 L583.4,907.2 L583.9,909.9 L584.4,912.3 L584.9,913.8 L585.4,914.6 L585.9,915.0 L586.4,914.2 L586.9,911.5 L587.4,908.2 L587.9,905.1 L588.4,901.4 L588.9,897.5 L589.4,894.1 L589.9,891.5 L590.4,889.1 L590.9,887.0 L591.4,885.5 L591.9,884.4 L592.4,883.5 L592.9,882.9 L593.4,882.6 L593.9,883.0 L594.4,883.9 L594.9,885.1 L595.4,886.5 L595.9,887.9 L596.4,889.6 L596.9,891.6 L597.4,893.4 L597.9,894.8 L598.4,895.7 L598.9,896.5 L599.4,897.0 L599.9,896.9 L600.4,896.2 L600.9,895.2 L601.4,894.3 L601.9,893.6 L602.4,892.9 L602.9,892.2 L603.4,892.0 L603.9,892.5 L604.4,893.6 L604.9,895.1 L605.4,896.5 L605.9,897.7 L606.4,899.0 L606.9,900.2 L607.4,900.9 L607.9,900.8 L608.4,899.6 L608.9,897.8 L609.4,895.8 L609.9,893.8 L610.4,891.3 L610.9,888.6 L611.4,886.1 L611.9,884.3 L612.4,883.1 L612.9,882.1 L613.4,881.5 L613.9,881.5 L614.4,882.1 L614.9,883.2 L615.4,884.5 L615.9,886.1 L616.4,888.6 L616.9,891.7 L617.4,895.7 L617.9,898.7 L618.4,901.6 L618.9,904.2 L619.4,906.1 L619.9,907.0 L620.4,906.9 L620.9,906.7 L621.4,906.4 L621.9,906.1 L622.4,906.0 L622.9,906.7 L623.4,908.4 L623.9,910.6 L624.4,913.1 L624.9,916.7 L625.4,920.7 L625.9,924.4 L626.4,927.4 L626.9,930.3 L627.4,933.0 L627.6,934.0"/>
<path class="c" stroke="#141414" d="M383.4,913.0 L383.9,903.3 L384.4,896.4 L384.9,893.6 L385.4,891.9 L385.9,891.0 L386.4,891.7 L386.9,894.1 L387.4,897.0 L387.9,900.5 L388.4,905.0 L388.9,909.5 L389.4,913.0 L389.9,915.7 L390.4,918.1 L390.9,920.0 L391.4,921.0 L391.9,921.5 L392.4,921.8 L392.9,922.0 L393.4,921.9 L393.9,921.3 L394.4,920.6 L394.9,919.8 L395.4,919.0 L395.9,918.4 L396.4,917.7 L396.9,917.1 L397.4,916.2 L397.9,915.2 L398.4,913.8 L398.9,911.5 L399.4,908.7 L399.9,905.6 L400.4,901.9 L400.9,897.1 L401.4,892.1 L401.9,887.7 L402.4,884.4 L402.9,881.3 L403.4,878.7 L403.9,876.4 L404.4,874.5 L404.9,872.8 L405.4,871.4 L405.9,870.0 L406.4,868.6 L406.9,867.3 L407.4,865.9 L407.9,864.6 L408.4,863.4 L408.9,862.1 L409.4,860.8 L409.9,859.3 L410.4,857.7 L410.9,856.1 L411.4,854.3 L411.9,852.3 L412.4,850.0 L412.9,847.2 L413.4,843.6 L413.9,839.4 L414.4,834.9 L414.9,829.9 L415.4,823.7 L415.9,817.6 L416.4,813.0 L416.9,809.6 L417.4,806.8 L417.9,805.1 L418.4,804.6 L418.9,804.4 L419.4,805.1 L419.9,807.7 L420.4,811.4 L420.9,816.5 L421.4,825.4 L421.9,835.2 L422.4,844.5 L422.9,854.2 L423.4,862.5 L423.9,868.2 L424.4,872.8 L424.9,875.7 L425.4,876.8 L425.9,877.4 L426.4,876.4 L426.9,873.2 L427.4,869.0 L427.9,863.2 L428.4,855.3 L428.9,846.7 L429.4,837.8 L429.9,827.9 L430.4,818.4 L430.9,809.9 L431.4,801.6 L431.9,795.7 L432.4,792.8 L432.9,790.8 L433.4,790.0 L433.9,791.2 L434.4,793.9 L434.9,797.0 L435.4,801.4 L435.9,804.7 L436.4,805.9 L436.9,806.7 L437.4,807.0 L437.9,806.0 L438.4,804.0 L438.9,802.2 L439.4,801.3 L439.9,800.7 L440.4,800.4 L440.9,801.0 L441.4,802.6 L441.9,804.6 L442.4,806.9 L442.9,810.0 L443.4,813.8 L443.9,818.1 L444.4,823.2 L444.9,829.8 L445.4,836.9 L445.9,843.7 L446.4,850.0 L446.9,856.2 L447.4,862.2 L447.9,867.9 L448.4,873.3 L448.9,878.6 L449.4,883.6 L449.9,888.2 L450.4,892.2 L450.9,895.8 L451.4,899.1 L451.9,902.4 L452.4,905.7 L452.9,909.1 L453.4,912.7 L453.9,916.3 L454.4,919.6 L454.9,922.5 L455.4,924.9 L455.9,927.2 L456.4,929.3 L456.9,931.1 L457.4,932.7 L457.9,933.8 L458.4,934.6 L458.9,935.4 L459.4,936.0 L459.9,936.4 L460.4,936.6 L460.9,936.2 L461.4,935.1 L461.9,933.5 L462.4,931.7 L462.9,929.7 L463.4,927.0 L463.9,923.7 L464.4,919.9 L464.9,915.8 L465.4,911.4 L465.9,906.1 L466.4,900.3 L466.9,894.5 L467.4,889.0 L467.9,883.5 L468.4,877.9 L468.9,872.9 L469.4,869.0 L469.9,865.8 L470.4,863.6 L470.9,863.4 L471.4,863.4 L471.9,863.9 L472.4,866.4 L472.9,870.2 L473.4,875.5 L473.9,883.8 L474.4,893.3 L474.9,902.8 L475.4,913.4 L475.9,923.3 L476.4,931.9 L476.9,939.8 L477.4,945.0 L477.9,947.8 L478.4,949.9 L478.9,950.9 L479.4,951.1 L479.9,951.1 L480.4,950.3 L480.9,948.8 L481.4,947.2 L481.9,946.1 L482.4,945.6 L482.9,945.2 L483.4,945.0 L483.9,945.2 L484.4,945.9 L484.9,946.9 L485.4,947.8 L485.9,948.2 L486.4,948.6 L486.9,948.8 L487.4,949.0 L487.9,948.9 L488.4,948.2 L488.9,947.3 L489.4,946.3 L489.9,945.5 L490.4,944.5 L490.9,943.6 L491.4,943.1 L491.9,943.0 L492.4,943.0 L492.9,943.0 L493.4,943.0 L493.9,943.0 L494.4,943.0 L494.9,943.4 L495.4,944.4 L495.9,945.7 L496.4,947.0 L496.9,948.6 L497.4,950.5 L497.9,952.5 L498.4,954.0 L498.9,955.2 L499.4,956.4 L499.9,957.2 L500.4,957.6 L500.9,957.7 L501.4,957.7 L501.9,957.7 L502.4,957.8 L502.9,957.8 L503.4,957.9 L503.9,957.9 L504.4,957.9 L504.9,957.9 L505.4,957.9 L505.9,958.0 L506.4,958.0 L506.9,958.0 L507.4,958.0 L507.9,958.0 L508.4,958.0 L508.9,958.0 L509.4,957.9 L509.9,957.3 L510.4,956.5 L510.9,955.5 L511.4,954.4 L511.9,953.3 L512.4,951.6 L512.9,949.9 L513.4,948.4 L513.9,947.4 L514.4,946.5 L514.9,945.9 L515.4,945.6 L515.9,946.0 L516.4,947.1 L516.9,948.2 L517.4,949.0 L517.9,949.4 L518.4,949.8 L518.9,950.0 L519.4,949.6 L519.9,948.5 L520.4,947.1 L520.9,946.1 L521.4,945.6 L521.9,945.2 L522.4,945.0 L522.9,945.2 L523.4,946.1 L523.9,947.2 L524.4,948.0 L524.9,948.5 L525.4,948.9 L525.9,949.3 L526.4,949.4 L526.9,948.9 L527.4,947.7 L527.9,946.3 L528.4,945.0 L528.9,944.0 L529.4,943.0 L529.9,942.1 L530.4,941.2 L530.9,940.2 L531.4,939.2 L531.9,938.0 L532.4,937.0 L532.9,936.1 L533.4,935.5 L533.9,934.9 L534.4,934.5 L534.9,934.1 L535.4,934.0 L535.9,934.4 L536.4,935.3 L536.9,936.5 L537.4,937.8 L537.9,938.8 L538.4,939.6 L538.9,940.5 L539.4,941.1 L539.9,941.6 L540.4,941.7 L540.9,941.8 L541.4,941.9 L541.9,942.0 L542.4,942.0 L542.9,941.4 L543.4,939.7 L543.9,937.5 L544.4,934.2 L544.9,929.1 L545.4,923.2 L545.9,917.6 L546.4,911.5 L546.9,905.9 L547.4,901.6 L547.9,898.0 L548.4,895.0 L548.9,892.6 L549.4,890.6 L549.9,888.7 L550.4,887.0 L550.9,885.2 L551.4,883.4 L551.9,881.9 L552.4,881.0 L552.9,880.5 L553.4,880.2 L553.9,880.0 L554.4,880.6 L554.9,882.3 L555.4,884.3 L555.9,886.0 L556.4,887.9 L556.9,889.0 L557.4,888.6 L557.9,887.3 L558.4,885.4 L558.9,883.4 L559.4,881.3 L559.9,878.6 L560.4,875.7 L560.9,872.7 L561.4,870.0 L561.9,867.6 L562.4,865.2 L562.9,863.0 L563.4,860.9 L563.9,859.3 L564.4,857.9 L564.9,856.7 L565.4,855.7 L565.9,855.1 L566.4,854.8 L566.9,854.6 L567.4,855.1 L567.9,856.7 L568.4,858.8 L568.9,860.7 L569.4,862.2 L569.9,863.9 L570.4,865.3 L570.9,866.0 L571.4,865.2 L571.9,862.6 L572.4,859.0 L572.9,853.3 L573.4,845.1 L573.9,836.5 L574.4,828.6 L574.9,820.3 L575.4,813.2 L575.9,808.0 L576.4,803.5 L576.9,801.1 L577.4,802.2 L577.9,806.1 L578.4,811.0 L578.9,817.3 L579.4,825.5 L579.9,833.6 L580.4,840.6 L580.9,847.5 L581.4,854.0 L581.9,859.9 L582.4,865.4 L582.9,870.7 L583.4,875.3 L583.9,878.6 L584.4,880.5 L584.9,881.6 L585.4,880.6 L585.9,877.3 L586.4,873.0 L586.9,866.3 L587.4,857.1 L587.9,848.4 L588.4,841.6 L588.9,835.3 L589.4,830.4 L589.9,827.3 L590.4,825.0 L590.9,823.7 L591.4,823.5 L591.9,823.4 L592.4,823.8 L592.9,825.0 L593.4,826.7 L593.9,828.6 L594.4,830.7 L594.9,833.2 L595.4,835.9 L595.9,838.5 L596.4,841.0 L596.9,843.5 L597.4,845.8 L597.9,847.7 L598.4,849.2 L598.9,850.6 L599.4,851.5 L599.9,851.5 L600.4,850.9 L600.9,850.1 L601.4,849.3 L601.9,848.6 L602.4,848.0 L602.9,847.4 L603.4,847.0 L603.9,847.2 L604.4,848.1 L604.9,849.4 L605.4,850.6 L605.9,851.6 L606.4,852.5 L606.9,853.4 L607.4,853.9 L607.9,853.9 L608.4,853.2 L608.9,852.2 L609.4,851.3 L609.9,850.6 L610.4,850.0 L610.9,849.4 L611.4,849.0 L611.9,849.1 L612.4,849.9 L612.9,851.0 L613.4,852.4 L613.9,854.0 L614.4,856.4 L614.9,859.2 L615.4,862.0 L615.9,864.4 L616.4,866.7 L616.9,869.1 L617.4,872.3 L617.9,874.8 L618.4,875.7 L618.9,876.3 L619.4,876.8 L619.9,877.0 L620.4,876.8 L620.9,876.2 L621.4,875.5 L621.9,874.9 L622.4,874.6 L622.9,875.2 L623.4,876.6 L623.9,878.6 L624.4,881.4 L624.9,885.8 L625.4,891.0 L625.9,896.2 L626.4,902.1 L626.9,907.9 L627.4,913.1 L627.6,915.0"/>
<rect class="f" x="380.2" y="768.7" width="250.6" height="191.0"/>
<text class="t" text-anchor="end" x="374" y="961.9">0</text>
<text class="t" text-anchor="end" x="374" y="935.5">2</text>
<text class="t" text-anchor="end" x="374" y="909.1">4</text>
<text class="t" text-anchor="end" x="374" y="882.7">6</text>
<text class="t" text-anchor="end" x="374" y="856.3">8</text>
<text class="t" text-anchor="end" x="374" y="829.9">10</text>
<text class="t" text-anchor="end" x="374" y="803.5">12</text>
<text class="t" text-anchor="end" x="374" y="777.1">14</text>
<text class="t" text-anchor="middle" x="385.9" y="975.5">-15</text>
<text class="t" text-anchor="middle" x="442.1" y="975.5">-10</text>
<text class="t" text-anchor="middle" x="498.3" y="975.5">-5</text>
<text class="t" text-anchor="middle" x="556.0" y="975.5">0</text>
<text class="t" text-anchor="middle" x="612.2" y="975.5">5</text>
<path class="k" d="M376.4,957.4H380.2M378.0,950.8H380.2M378.0,944.2H380.2M378.0,937.6H380.2M376.4,931.0H380.2M378.0,924.4H380.2M378.0,917.8H380.2M378.0,911.2H380.2M376.4,904.6H380.2M378.0,898.0H380.2M378.0,891.4H380.2M378.0,884.8H380.2M376.4,878.2H380.2M378.0,871.6H380.2M378.0,865.0H380.2M378.0,858.4H380.2M376.4,851.8H380.2M378.0,845.2H380.2M378.0,838.6H380.2M378.0,832.0H380.2M376.4,825.4H380.2M378.0,818.8H380.2M378.0,812.2H380.2M378.0,805.6H380.2M376.4,799.0H380.2M378.0,792.4H380.2M378.0,785.8H380.2M378.0,779.2H380.2M376.4,772.6H380.2M387.4,959.7V963.5M398.6,959.7V961.9M409.9,959.7V961.9M421.1,959.7V961.9M432.4,959.7V961.9M443.6,959.7V963.5M454.8,959.7V961.9M466.1,959.7V961.9M477.3,959.7V961.9M488.6,959.7V961.9M499.8,959.7V963.5M511.0,959.7V961.9M522.3,959.7V961.9M533.5,959.7V961.9M544.8,959.7V961.9M556.0,959.7V963.5M567.2,959.7V961.9M578.5,959.7V961.9M589.7,959.7V961.9M601.0,959.7V961.9M612.2,959.7V963.5M623.4,959.7V961.9"/>
<text class="t" text-anchor="middle" x="497" y="987.3">Energy (<tspan font-style="italic">eV</tspan>)</text>
<text class="h" text-anchor="middle" x="516.5" y="1009.5">AO6</text>
<text class="t" style="font-size:12.3px" text-anchor="middle" transform="translate(358.1,860) rotate(-90)">Relative Intensity</text>
<path stroke="#ff1a1a" stroke-width="1.5" d="M632.4,776.4H636"/>
<text class="t" x="638" y="780.6">Donor</text>
<path stroke="#0f860f" stroke-width="1.5" d="M632.4,791.6H636"/>
<text class="t" x="637.4" y="796.6">Acceptor</text>
<path stroke="#1212ff" stroke-width="1.5" d="M632.4,807H636"/>
<text class="t" x="638" y="811.4"><tspan font-style="italic">π</tspan>-spacer</text>
<path stroke="#141414" stroke-width="1.5" d="M632.4,821.6H636"/>
<text class="t" x="639" y="824.4">Total</text>
</g>
</svg>
</body></html>
